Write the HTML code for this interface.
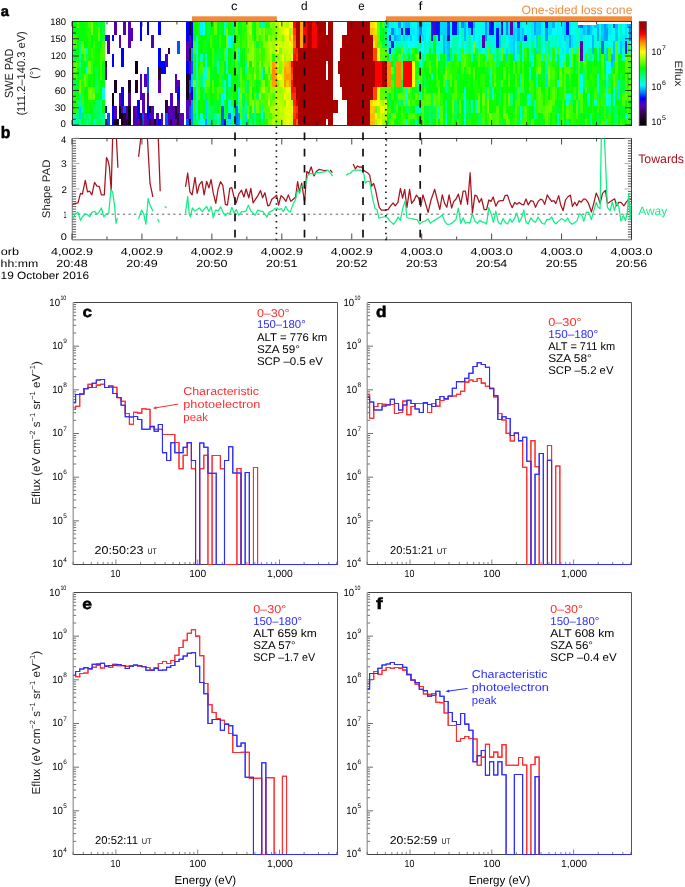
<!DOCTYPE html>
<html><head><meta charset="utf-8"><style>html,body{margin:0;padding:0;background:#fff;}svg{display:block;will-change:transform;}text{font-family:"Liberation Sans", sans-serif;text-rendering:geometricPrecision;}</style></head>
<body>
<svg width="685" height="887" viewBox="0 0 685 887" font-family='"Liberation Sans", sans-serif'>
<rect width="685" height="887" fill="#fff"/>
<g shape-rendering="crispEdges">
<rect x="72" y="21.5" width="2.68" height="13.2" fill="#08ff00"/>
<rect x="72" y="34.5" width="2.68" height="19.7" fill="#00ffc3"/>
<rect x="72" y="54" width="2.68" height="19.7" fill="#2aff00"/>
<rect x="72" y="73.5" width="2.68" height="6.7" fill="#10ff00"/>
<rect x="72" y="80" width="2.68" height="6.7" fill="#14ff00"/>
<rect x="72" y="86.5" width="2.68" height="13.2" fill="#31ff00"/>
<rect x="72" y="99.5" width="2.68" height="13.2" fill="#00ff16"/>
<rect x="72" y="112.5" width="2.68" height="13.2" fill="#00ffff"/>
<rect x="74.33" y="21.5" width="2.68" height="13.2" fill="#00ff0b"/>
<rect x="74.33" y="34.5" width="2.68" height="13.2" fill="#3dff00"/>
<rect x="74.33" y="47.5" width="2.68" height="13.2" fill="#00ff32"/>
<rect x="74.33" y="60.5" width="2.68" height="13.2" fill="#59ff00"/>
<rect x="74.33" y="73.5" width="2.68" height="6.7" fill="#3eff00"/>
<rect x="74.33" y="80" width="2.68" height="13.2" fill="#00ff40"/>
<rect x="74.33" y="93" width="2.68" height="19.7" fill="#1dff00"/>
<rect x="74.33" y="112.5" width="2.68" height="13.2" fill="#00ffa4"/>
<rect x="76.66" y="21.5" width="2.68" height="6.7" fill="#4aff00"/>
<rect x="76.66" y="28" width="2.68" height="13.2" fill="#00ff0c"/>
<rect x="76.66" y="41" width="2.68" height="13.2" fill="#00ff05"/>
<rect x="76.66" y="54" width="2.68" height="13.2" fill="#22ff00"/>
<rect x="76.66" y="67" width="2.68" height="6.7" fill="#00ff07"/>
<rect x="76.66" y="73.5" width="2.68" height="6.7" fill="#00ff16"/>
<rect x="76.66" y="80" width="2.68" height="19.7" fill="#05ff00"/>
<rect x="76.66" y="99.5" width="2.68" height="19.7" fill="#00ff71"/>
<rect x="76.66" y="119" width="2.68" height="6.7" fill="#00ff7a"/>
<rect x="78.99" y="21.5" width="2.68" height="19.7" fill="#07ff00"/>
<rect x="78.99" y="41" width="2.68" height="6.7" fill="#00ff75"/>
<rect x="78.99" y="47.5" width="2.68" height="19.7" fill="#00ffa9"/>
<rect x="78.99" y="67" width="2.68" height="13.2" fill="#00ff52"/>
<rect x="78.99" y="80" width="2.68" height="13.2" fill="#73ff00"/>
<rect x="78.99" y="93" width="2.68" height="13.2" fill="#00ffac"/>
<rect x="78.99" y="106" width="2.68" height="13.2" fill="#00d0ff"/>
<rect x="78.99" y="119" width="2.68" height="6.7" fill="#00ff9e"/>
<rect x="81.33" y="21.5" width="2.68" height="19.7" fill="#00ff14"/>
<rect x="81.33" y="41" width="2.68" height="13.2" fill="#5eff00"/>
<rect x="81.33" y="54" width="2.68" height="19.7" fill="#0dff00"/>
<rect x="81.33" y="73.5" width="2.68" height="19.7" fill="#20ff00"/>
<rect x="81.33" y="93" width="2.68" height="13.2" fill="#30ff00"/>
<rect x="81.33" y="106" width="2.68" height="6.7" fill="#00ff7c"/>
<rect x="81.33" y="112.5" width="2.68" height="13.2" fill="#00ff2d"/>
<rect x="83.66" y="21.5" width="2.68" height="19.7" fill="#0aff00"/>
<rect x="83.66" y="41" width="2.68" height="6.7" fill="#00ff06"/>
<rect x="83.66" y="47.5" width="2.68" height="13.2" fill="#5cff00"/>
<rect x="83.66" y="60.5" width="2.68" height="13.2" fill="#00ff15"/>
<rect x="83.66" y="73.5" width="2.68" height="13.2" fill="#5fff00"/>
<rect x="83.66" y="86.5" width="2.68" height="13.2" fill="#09ff00"/>
<rect x="83.66" y="99.5" width="2.68" height="13.2" fill="#00ff33"/>
<rect x="83.66" y="112.5" width="2.68" height="6.7" fill="#00ff7a"/>
<rect x="83.66" y="119" width="2.68" height="6.7" fill="#00ff44"/>
<rect x="85.99" y="21.5" width="2.68" height="13.2" fill="#15ff00"/>
<rect x="85.99" y="34.5" width="2.68" height="13.2" fill="#00ff0a"/>
<rect x="85.99" y="47.5" width="2.68" height="6.7" fill="#00ffe7"/>
<rect x="85.99" y="54" width="2.68" height="13.2" fill="#00ff65"/>
<rect x="85.99" y="67" width="2.68" height="6.7" fill="#00fdff"/>
<rect x="85.99" y="73.5" width="2.68" height="13.2" fill="#3aff00"/>
<rect x="85.99" y="86.5" width="2.68" height="13.2" fill="#00ff10"/>
<rect x="85.99" y="99.5" width="2.68" height="13.2" fill="#12ff00"/>
<rect x="85.99" y="112.5" width="2.68" height="6.7" fill="#00ff4e"/>
<rect x="85.99" y="119" width="2.68" height="6.7" fill="#00ff7c"/>
<rect x="88.32" y="21.5" width="2.68" height="6.7" fill="#47ff00"/>
<rect x="88.32" y="28" width="2.68" height="13.2" fill="#25ff00"/>
<rect x="88.32" y="41" width="2.68" height="19.7" fill="#16ff00"/>
<rect x="88.32" y="60.5" width="2.68" height="13.2" fill="#6cff00"/>
<rect x="88.32" y="73.5" width="2.68" height="6.7" fill="#12ff00"/>
<rect x="88.32" y="80" width="2.68" height="6.7" fill="#04ff00"/>
<rect x="88.32" y="86.5" width="2.68" height="13.2" fill="#6eff00"/>
<rect x="88.32" y="99.5" width="2.68" height="13.2" fill="#12ff00"/>
<rect x="88.32" y="112.5" width="2.68" height="13.2" fill="#00ff6f"/>
<rect x="90.65" y="21.5" width="2.68" height="13.2" fill="#78ff00"/>
<rect x="90.65" y="34.5" width="2.68" height="13.2" fill="#00ff06"/>
<rect x="90.65" y="47.5" width="2.68" height="13.2" fill="#37ff00"/>
<rect x="90.65" y="60.5" width="2.68" height="13.2" fill="#2cff00"/>
<rect x="90.65" y="73.5" width="2.68" height="13.2" fill="#12ff00"/>
<rect x="90.65" y="86.5" width="2.68" height="13.2" fill="#61ff00"/>
<rect x="90.65" y="99.5" width="2.68" height="6.7" fill="#1aff00"/>
<rect x="90.65" y="106" width="2.68" height="13.2" fill="#00ff1b"/>
<rect x="90.65" y="119" width="2.68" height="6.7" fill="#00ff1e"/>
<rect x="92.98" y="21.5" width="2.68" height="19.7" fill="#11ff00"/>
<rect x="92.98" y="41" width="2.68" height="6.7" fill="#40ff00"/>
<rect x="92.98" y="47.5" width="2.68" height="13.2" fill="#1cff00"/>
<rect x="92.98" y="60.5" width="2.68" height="13.2" fill="#00ff19"/>
<rect x="92.98" y="73.5" width="2.68" height="13.2" fill="#00ff0b"/>
<rect x="92.98" y="86.5" width="2.68" height="6.7" fill="#41ff00"/>
<rect x="92.98" y="93" width="2.68" height="6.7" fill="#73ff00"/>
<rect x="92.98" y="99.5" width="2.68" height="6.7" fill="#00ff13"/>
<rect x="92.98" y="106" width="2.68" height="13.2" fill="#00ff4a"/>
<rect x="92.98" y="119" width="2.68" height="6.7" fill="#00ffce"/>
<rect x="95.31" y="21.5" width="2.68" height="13.2" fill="#0fff00"/>
<rect x="95.31" y="34.5" width="2.68" height="13.2" fill="#03ff00"/>
<rect x="95.31" y="47.5" width="2.68" height="19.7" fill="#0cff00"/>
<rect x="95.31" y="67" width="2.68" height="13.2" fill="#00ff50"/>
<rect x="95.31" y="80" width="2.68" height="13.2" fill="#00ff70"/>
<rect x="95.31" y="93" width="2.68" height="6.7" fill="#08ff00"/>
<rect x="95.31" y="99.5" width="2.68" height="19.7" fill="#00ff5c"/>
<rect x="95.31" y="119" width="2.68" height="6.7" fill="#00ff71"/>
<rect x="97.64" y="21.5" width="2.68" height="6.7" fill="#00ff5d"/>
<rect x="97.64" y="28" width="2.68" height="13.2" fill="#66ff00"/>
<rect x="97.64" y="41" width="2.68" height="13.2" fill="#00ff03"/>
<rect x="97.64" y="54" width="2.68" height="6.7" fill="#14ff00"/>
<rect x="97.64" y="60.5" width="2.68" height="19.7" fill="#0bff00"/>
<rect x="97.64" y="80" width="2.68" height="13.2" fill="#26ff00"/>
<rect x="97.64" y="93" width="2.68" height="6.7" fill="#07ff00"/>
<rect x="97.64" y="99.5" width="2.68" height="6.7" fill="#00ff66"/>
<rect x="97.64" y="106" width="2.68" height="13.2" fill="#00ff53"/>
<rect x="97.64" y="119" width="2.68" height="6.7" fill="#00ff54"/>
<rect x="99.97" y="21.5" width="2.68" height="13.2" fill="#00ff0c"/>
<rect x="99.97" y="34.5" width="2.68" height="13.2" fill="#00ff1e"/>
<rect x="99.97" y="47.5" width="2.68" height="13.2" fill="#37ff00"/>
<rect x="99.97" y="60.5" width="2.68" height="19.7" fill="#40ff00"/>
<rect x="99.97" y="80" width="2.68" height="19.7" fill="#00ff17"/>
<rect x="99.97" y="99.5" width="2.68" height="19.7" fill="#00ff9a"/>
<rect x="99.97" y="119" width="2.68" height="6.7" fill="#00ff4f"/>
<rect x="102.31" y="21.5" width="2.68" height="19.7" fill="#00ff39"/>
<rect x="102.31" y="41" width="2.68" height="19.7" fill="#47ff00"/>
<rect x="102.31" y="60.5" width="2.68" height="19.7" fill="#00ff06"/>
<rect x="102.31" y="80" width="2.68" height="6.7" fill="#00ff10"/>
<rect x="102.31" y="86.5" width="2.68" height="13.2" fill="#00ffef"/>
<rect x="102.31" y="99.5" width="2.68" height="13.2" fill="#00ff05"/>
<rect x="102.31" y="112.5" width="2.68" height="13.2" fill="#00ff86"/>
<rect x="104.64" y="34.5" width="2.68" height="6.7" fill="#0000ff"/>
<rect x="104.64" y="60.5" width="2.68" height="6.7" fill="#300040"/>
<rect x="104.64" y="67" width="2.68" height="13.2" fill="#5a00b4"/>
<rect x="104.64" y="106" width="2.68" height="6.7" fill="#0000ff"/>
<rect x="104.64" y="119" width="2.68" height="6.7" fill="#51009a"/>
<rect x="106.97" y="34.5" width="2.68" height="19.7" fill="#51009a"/>
<rect x="106.97" y="112.5" width="2.68" height="13.2" fill="#0055ff"/>
<rect x="111.63" y="34.5" width="2.68" height="6.7" fill="#0000ff"/>
<rect x="111.63" y="54" width="2.68" height="13.2" fill="#0000ff"/>
<rect x="111.63" y="93" width="2.68" height="13.2" fill="#0e0013"/>
<rect x="111.63" y="106" width="2.68" height="19.7" fill="#0000ff"/>
<rect x="113.96" y="21.5" width="2.68" height="13.2" fill="#51009a"/>
<rect x="113.96" y="80" width="2.68" height="13.2" fill="#1d0026"/>
<rect x="113.96" y="106" width="2.68" height="13.2" fill="#4d00bf"/>
<rect x="113.96" y="119" width="2.68" height="6.7" fill="#0e0013"/>
<rect x="116.29" y="119" width="2.68" height="6.7" fill="#1d0026"/>
<rect x="118.62" y="34.5" width="2.68" height="13.2" fill="#5a00b4"/>
<rect x="118.62" y="93" width="2.68" height="13.2" fill="#5a00b4"/>
<rect x="118.62" y="106" width="2.68" height="13.2" fill="#0e0013"/>
<rect x="120.96" y="47.5" width="2.68" height="19.7" fill="#0000ff"/>
<rect x="120.96" y="86.5" width="2.68" height="19.7" fill="#0000ff"/>
<rect x="120.96" y="106" width="2.68" height="6.7" fill="#5a00b4"/>
<rect x="120.96" y="112.5" width="2.68" height="13.2" fill="#0e0013"/>
<rect x="123.29" y="21.5" width="2.68" height="13.2" fill="#5a00b4"/>
<rect x="123.29" y="106" width="2.68" height="6.7" fill="#0055ff"/>
<rect x="123.29" y="112.5" width="2.68" height="6.7" fill="#300040"/>
<rect x="123.29" y="119" width="2.68" height="6.7" fill="#300040"/>
<rect x="125.62" y="106" width="2.68" height="13.2" fill="#51009a"/>
<rect x="125.62" y="119" width="2.68" height="6.7" fill="#300040"/>
<rect x="127.95" y="21.5" width="2.68" height="13.2" fill="#5a00b4"/>
<rect x="127.95" y="34.5" width="2.68" height="13.2" fill="#5a00b4"/>
<rect x="127.95" y="80" width="2.68" height="13.2" fill="#1d0026"/>
<rect x="127.95" y="93" width="2.68" height="13.2" fill="#51009a"/>
<rect x="127.95" y="106" width="2.68" height="19.7" fill="#0e0013"/>
<rect x="130.28" y="28" width="2.68" height="13.2" fill="#4d00bf"/>
<rect x="132.61" y="106" width="2.68" height="19.7" fill="#51009a"/>
<rect x="134.94" y="60.5" width="2.68" height="13.2" fill="#0e0013"/>
<rect x="134.94" y="80" width="2.68" height="13.2" fill="#1d0026"/>
<rect x="134.94" y="106" width="2.68" height="13.2" fill="#5a00b4"/>
<rect x="134.94" y="119" width="2.68" height="6.7" fill="#4d00bf"/>
<rect x="137.27" y="99.5" width="2.68" height="19.7" fill="#0000ff"/>
<rect x="137.27" y="119" width="2.68" height="6.7" fill="#5a00b4"/>
<rect x="139.61" y="21.5" width="2.68" height="19.7" fill="#0000ff"/>
<rect x="139.61" y="73.5" width="2.68" height="6.7" fill="#51009a"/>
<rect x="139.61" y="80" width="2.68" height="19.7" fill="#5a00b4"/>
<rect x="139.61" y="112.5" width="2.68" height="13.2" fill="#300040"/>
<rect x="141.94" y="93" width="2.68" height="19.7" fill="#5a00b4"/>
<rect x="141.94" y="112.5" width="2.68" height="13.2" fill="#0055ff"/>
<rect x="144.27" y="73.5" width="2.68" height="13.2" fill="#4d00bf"/>
<rect x="144.27" y="112.5" width="2.68" height="13.2" fill="#5a00b4"/>
<rect x="146.6" y="21.5" width="2.68" height="13.2" fill="#0000ff"/>
<rect x="146.6" y="67" width="2.68" height="13.2" fill="#0055ff"/>
<rect x="146.6" y="80" width="2.68" height="13.2" fill="#0055ff"/>
<rect x="146.6" y="93" width="2.68" height="13.2" fill="#51009a"/>
<rect x="146.6" y="106" width="2.68" height="13.2" fill="#0000ff"/>
<rect x="146.6" y="119" width="2.68" height="6.7" fill="#4d00bf"/>
<rect x="148.93" y="106" width="2.68" height="6.7" fill="#0e0013"/>
<rect x="148.93" y="112.5" width="2.68" height="6.7" fill="#4d00bf"/>
<rect x="148.93" y="119" width="2.68" height="6.7" fill="#300040"/>
<rect x="151.26" y="34.5" width="2.68" height="13.2" fill="#4d00bf"/>
<rect x="151.26" y="106" width="2.68" height="13.2" fill="#4d00bf"/>
<rect x="151.26" y="119" width="2.68" height="6.7" fill="#51009a"/>
<rect x="153.59" y="119" width="2.68" height="6.7" fill="#1d0026"/>
<rect x="155.93" y="112.5" width="2.68" height="13.2" fill="#4d00bf"/>
<rect x="158.26" y="21.5" width="2.68" height="13.2" fill="#0000ff"/>
<rect x="158.26" y="47.5" width="2.68" height="19.7" fill="#0000ff"/>
<rect x="158.26" y="67" width="2.68" height="6.7" fill="#300040"/>
<rect x="158.26" y="73.5" width="2.68" height="6.7" fill="#300040"/>
<rect x="158.26" y="80" width="2.68" height="13.2" fill="#5a00b4"/>
<rect x="158.26" y="119" width="2.68" height="6.7" fill="#0000ff"/>
<rect x="160.59" y="60.5" width="2.68" height="13.2" fill="#0000ff"/>
<rect x="160.59" y="112.5" width="2.68" height="13.2" fill="#5a00b4"/>
<rect x="162.92" y="60.5" width="2.68" height="13.2" fill="#0000ff"/>
<rect x="165.25" y="54" width="2.68" height="13.2" fill="#4d00bf"/>
<rect x="165.25" y="99.5" width="2.68" height="13.2" fill="#300040"/>
<rect x="165.25" y="112.5" width="2.68" height="13.2" fill="#0055ff"/>
<rect x="167.58" y="47.5" width="2.68" height="6.7" fill="#300040"/>
<rect x="167.58" y="106" width="2.68" height="13.2" fill="#4d00bf"/>
<rect x="167.58" y="119" width="2.68" height="6.7" fill="#4d00bf"/>
<rect x="169.91" y="93" width="2.68" height="13.2" fill="#4d00bf"/>
<rect x="169.91" y="106" width="2.68" height="13.2" fill="#5a00b4"/>
<rect x="169.91" y="119" width="2.68" height="6.7" fill="#300040"/>
<rect x="172.24" y="106" width="2.68" height="6.7" fill="#51009a"/>
<rect x="172.24" y="112.5" width="2.68" height="6.7" fill="#4d00bf"/>
<rect x="172.24" y="119" width="2.68" height="6.7" fill="#5a00b4"/>
<rect x="174.57" y="73.5" width="2.68" height="19.7" fill="#5a00b4"/>
<rect x="174.57" y="106" width="2.68" height="13.2" fill="#1d0026"/>
<rect x="174.57" y="119" width="2.68" height="6.7" fill="#5a00b4"/>
<rect x="176.91" y="41" width="2.68" height="13.2" fill="#0055ff"/>
<rect x="176.91" y="80" width="2.68" height="6.7" fill="#4d00bf"/>
<rect x="176.91" y="86.5" width="2.68" height="13.2" fill="#0000ff"/>
<rect x="176.91" y="99.5" width="2.68" height="13.2" fill="#4d00bf"/>
<rect x="176.91" y="112.5" width="2.68" height="13.2" fill="#300040"/>
<rect x="179.24" y="112.5" width="2.68" height="13.2" fill="#5a00b4"/>
<rect x="181.57" y="112.5" width="2.68" height="13.2" fill="#5a00b4"/>
<rect x="186.23" y="21.5" width="2.68" height="19.7" fill="#0000ff"/>
<rect x="186.23" y="41" width="2.68" height="19.7" fill="#5a00b4"/>
<rect x="186.23" y="60.5" width="2.68" height="13.2" fill="#0000ff"/>
<rect x="186.23" y="73.5" width="2.68" height="19.7" fill="#180020"/>
<rect x="186.23" y="93" width="2.68" height="6.7" fill="#180020"/>
<rect x="186.23" y="99.5" width="2.68" height="19.7" fill="#5a00b4"/>
<rect x="186.23" y="119" width="2.68" height="6.7" fill="#0055ff"/>
<rect x="188.56" y="21.5" width="2.68" height="13.2" fill="#180020"/>
<rect x="188.56" y="34.5" width="2.68" height="13.2" fill="#5a00b4"/>
<rect x="188.56" y="47.5" width="2.68" height="13.2" fill="#180020"/>
<rect x="188.56" y="60.5" width="2.68" height="13.2" fill="#5a00b4"/>
<rect x="188.56" y="73.5" width="2.68" height="6.7" fill="#0000ff"/>
<rect x="188.56" y="80" width="2.68" height="13.2" fill="#0055ff"/>
<rect x="188.56" y="93" width="2.68" height="13.2" fill="#5a00b4"/>
<rect x="188.56" y="106" width="2.68" height="13.2" fill="#0055ff"/>
<rect x="188.56" y="119" width="2.68" height="6.7" fill="#180020"/>
<rect x="190.89" y="21.5" width="2.68" height="13.2" fill="#0000ff"/>
<rect x="190.89" y="34.5" width="2.68" height="13.2" fill="#0000ff"/>
<rect x="190.89" y="47.5" width="2.68" height="13.2" fill="#0092ff"/>
<rect x="190.89" y="60.5" width="2.68" height="13.2" fill="#0055ff"/>
<rect x="190.89" y="73.5" width="2.68" height="13.2" fill="#00c9ff"/>
<rect x="190.89" y="86.5" width="2.68" height="13.2" fill="#0000ff"/>
<rect x="190.89" y="99.5" width="2.68" height="6.7" fill="#0092ff"/>
<rect x="190.89" y="106" width="2.68" height="19.7" fill="#0092ff"/>
<rect x="193.22" y="21.5" width="2.68" height="13.2" fill="#05ff00"/>
<rect x="193.22" y="34.5" width="2.68" height="6.7" fill="#00ff04"/>
<rect x="193.22" y="41" width="2.68" height="13.2" fill="#42ff00"/>
<rect x="193.22" y="54" width="2.68" height="13.2" fill="#16ff00"/>
<rect x="193.22" y="67" width="2.68" height="13.2" fill="#14ff00"/>
<rect x="193.22" y="80" width="2.68" height="6.7" fill="#74ff00"/>
<rect x="193.22" y="86.5" width="2.68" height="13.2" fill="#00ff04"/>
<rect x="193.22" y="99.5" width="2.68" height="13.2" fill="#28ff00"/>
<rect x="193.22" y="112.5" width="2.68" height="13.2" fill="#00ff32"/>
<rect x="195.56" y="21.5" width="2.68" height="13.2" fill="#00ff05"/>
<rect x="195.56" y="34.5" width="2.68" height="13.2" fill="#00ffe1"/>
<rect x="195.56" y="47.5" width="2.68" height="6.7" fill="#00ffee"/>
<rect x="195.56" y="54" width="2.68" height="19.7" fill="#00ffcc"/>
<rect x="195.56" y="73.5" width="2.68" height="19.7" fill="#00ffd1"/>
<rect x="195.56" y="93" width="2.68" height="13.2" fill="#00ffe1"/>
<rect x="195.56" y="106" width="2.68" height="13.2" fill="#00ffd7"/>
<rect x="195.56" y="119" width="2.68" height="6.7" fill="#00ff58"/>
<rect x="197.89" y="21.5" width="2.68" height="19.7" fill="#24ff00"/>
<rect x="197.89" y="41" width="2.68" height="13.2" fill="#00ff2a"/>
<rect x="197.89" y="54" width="2.68" height="13.2" fill="#0eff00"/>
<rect x="197.89" y="67" width="2.68" height="13.2" fill="#27ff00"/>
<rect x="197.89" y="80" width="2.68" height="19.7" fill="#43ff00"/>
<rect x="197.89" y="99.5" width="2.68" height="19.7" fill="#02ff00"/>
<rect x="197.89" y="119" width="2.68" height="6.7" fill="#00ff9d"/>
<rect x="200.22" y="21.5" width="2.68" height="13.2" fill="#00f1ff"/>
<rect x="200.22" y="34.5" width="2.68" height="19.7" fill="#00ff0a"/>
<rect x="200.22" y="54" width="2.68" height="6.7" fill="#00ffc5"/>
<rect x="200.22" y="60.5" width="2.68" height="13.2" fill="#44ff00"/>
<rect x="200.22" y="73.5" width="2.68" height="13.2" fill="#00ff6a"/>
<rect x="200.22" y="86.5" width="2.68" height="13.2" fill="#00ff11"/>
<rect x="200.22" y="99.5" width="2.68" height="13.2" fill="#0aff00"/>
<rect x="200.22" y="112.5" width="2.68" height="13.2" fill="#00ffe6"/>
<rect x="202.55" y="21.5" width="2.68" height="13.2" fill="#00fffb"/>
<rect x="202.55" y="34.5" width="2.68" height="19.7" fill="#0fff00"/>
<rect x="202.55" y="54" width="2.68" height="13.2" fill="#00ff1c"/>
<rect x="202.55" y="67" width="2.68" height="19.7" fill="#00ffcf"/>
<rect x="202.55" y="86.5" width="2.68" height="13.2" fill="#00ff73"/>
<rect x="202.55" y="99.5" width="2.68" height="19.7" fill="#01ff00"/>
<rect x="202.55" y="119" width="2.68" height="6.7" fill="#00ffed"/>
<rect x="204.88" y="21.5" width="2.68" height="19.7" fill="#07ff00"/>
<rect x="204.88" y="41" width="2.68" height="13.2" fill="#00ff37"/>
<rect x="204.88" y="54" width="2.68" height="6.7" fill="#00ffdc"/>
<rect x="204.88" y="60.5" width="2.68" height="19.7" fill="#00ffe4"/>
<rect x="204.88" y="80" width="2.68" height="13.2" fill="#54ff00"/>
<rect x="204.88" y="93" width="2.68" height="6.7" fill="#00ff0b"/>
<rect x="204.88" y="99.5" width="2.68" height="19.7" fill="#00d4ff"/>
<rect x="204.88" y="119" width="2.68" height="6.7" fill="#0095ff"/>
<rect x="207.21" y="21.5" width="2.68" height="19.7" fill="#00ff47"/>
<rect x="207.21" y="41" width="2.68" height="13.2" fill="#00ff04"/>
<rect x="207.21" y="54" width="2.68" height="13.2" fill="#00ff05"/>
<rect x="207.21" y="67" width="2.68" height="19.7" fill="#5dff00"/>
<rect x="207.21" y="86.5" width="2.68" height="13.2" fill="#25ff00"/>
<rect x="207.21" y="99.5" width="2.68" height="6.7" fill="#00ff59"/>
<rect x="207.21" y="106" width="2.68" height="19.7" fill="#00ff64"/>
<rect x="209.54" y="21.5" width="2.68" height="13.2" fill="#00ff1b"/>
<rect x="209.54" y="34.5" width="2.68" height="13.2" fill="#48ff00"/>
<rect x="209.54" y="47.5" width="2.68" height="13.2" fill="#00ff05"/>
<rect x="209.54" y="60.5" width="2.68" height="13.2" fill="#03ff00"/>
<rect x="209.54" y="73.5" width="2.68" height="13.2" fill="#00ff1f"/>
<rect x="209.54" y="86.5" width="2.68" height="19.7" fill="#00ff04"/>
<rect x="209.54" y="106" width="2.68" height="13.2" fill="#00ff59"/>
<rect x="209.54" y="119" width="2.68" height="6.7" fill="#00cfff"/>
<rect x="211.88" y="21.5" width="2.68" height="13.2" fill="#15ff00"/>
<rect x="211.88" y="34.5" width="2.68" height="13.2" fill="#0dff00"/>
<rect x="211.88" y="47.5" width="2.68" height="19.7" fill="#3aff00"/>
<rect x="211.88" y="67" width="2.68" height="13.2" fill="#00ff31"/>
<rect x="211.88" y="80" width="2.68" height="13.2" fill="#52ff00"/>
<rect x="211.88" y="93" width="2.68" height="13.2" fill="#0aff00"/>
<rect x="211.88" y="106" width="2.68" height="19.7" fill="#00ff49"/>
<rect x="214.21" y="21.5" width="2.68" height="13.2" fill="#60ff00"/>
<rect x="214.21" y="34.5" width="2.68" height="19.7" fill="#00ff10"/>
<rect x="214.21" y="54" width="2.68" height="13.2" fill="#00ff43"/>
<rect x="214.21" y="67" width="2.68" height="13.2" fill="#00ff08"/>
<rect x="214.21" y="80" width="2.68" height="6.7" fill="#00ff07"/>
<rect x="214.21" y="86.5" width="2.68" height="13.2" fill="#15ff00"/>
<rect x="214.21" y="99.5" width="2.68" height="13.2" fill="#00ff31"/>
<rect x="214.21" y="112.5" width="2.68" height="6.7" fill="#00ff90"/>
<rect x="214.21" y="119" width="2.68" height="6.7" fill="#00ff3f"/>
<rect x="216.54" y="21.5" width="2.68" height="13.2" fill="#00ff06"/>
<rect x="216.54" y="34.5" width="2.68" height="13.2" fill="#00ff0b"/>
<rect x="216.54" y="47.5" width="2.68" height="13.2" fill="#00ff37"/>
<rect x="216.54" y="60.5" width="2.68" height="13.2" fill="#00ffcc"/>
<rect x="216.54" y="73.5" width="2.68" height="13.2" fill="#00ff12"/>
<rect x="216.54" y="86.5" width="2.68" height="13.2" fill="#50ff00"/>
<rect x="216.54" y="99.5" width="2.68" height="13.2" fill="#00ff15"/>
<rect x="216.54" y="112.5" width="2.68" height="13.2" fill="#00ffdb"/>
<rect x="218.87" y="21.5" width="2.68" height="13.2" fill="#00ff2c"/>
<rect x="218.87" y="34.5" width="2.68" height="13.2" fill="#39ff00"/>
<rect x="218.87" y="47.5" width="2.68" height="13.2" fill="#00ff2c"/>
<rect x="218.87" y="60.5" width="2.68" height="6.7" fill="#15ff00"/>
<rect x="218.87" y="67" width="2.68" height="13.2" fill="#31ff00"/>
<rect x="218.87" y="80" width="2.68" height="13.2" fill="#34ff00"/>
<rect x="218.87" y="93" width="2.68" height="13.2" fill="#00ff41"/>
<rect x="218.87" y="106" width="2.68" height="13.2" fill="#2dff00"/>
<rect x="218.87" y="119" width="2.68" height="6.7" fill="#00ff54"/>
<rect x="221.2" y="21.5" width="2.68" height="13.2" fill="#05ff00"/>
<rect x="221.2" y="34.5" width="2.68" height="13.2" fill="#00ff03"/>
<rect x="221.2" y="47.5" width="2.68" height="13.2" fill="#00ff22"/>
<rect x="221.2" y="60.5" width="2.68" height="13.2" fill="#2cff00"/>
<rect x="221.2" y="73.5" width="2.68" height="13.2" fill="#00ff57"/>
<rect x="221.2" y="86.5" width="2.68" height="6.7" fill="#35ff00"/>
<rect x="221.2" y="93" width="2.68" height="13.2" fill="#00f2ff"/>
<rect x="221.2" y="106" width="2.68" height="19.7" fill="#005bff"/>
<rect x="223.53" y="21.5" width="2.68" height="13.2" fill="#00ffca"/>
<rect x="223.53" y="34.5" width="2.68" height="13.2" fill="#03ff00"/>
<rect x="223.53" y="47.5" width="2.68" height="13.2" fill="#4dff00"/>
<rect x="223.53" y="60.5" width="2.68" height="19.7" fill="#00ff0a"/>
<rect x="223.53" y="80" width="2.68" height="19.7" fill="#00ffe9"/>
<rect x="223.53" y="99.5" width="2.68" height="19.7" fill="#00ff44"/>
<rect x="223.53" y="119" width="2.68" height="6.7" fill="#1900ea"/>
<rect x="225.86" y="21.5" width="2.68" height="6.7" fill="#00ff8a"/>
<rect x="225.86" y="28" width="2.68" height="19.7" fill="#75ff00"/>
<rect x="225.86" y="47.5" width="2.68" height="13.2" fill="#00ffe7"/>
<rect x="225.86" y="60.5" width="2.68" height="13.2" fill="#00ffe6"/>
<rect x="225.86" y="73.5" width="2.68" height="13.2" fill="#00ff02"/>
<rect x="225.86" y="86.5" width="2.68" height="13.2" fill="#00ff1d"/>
<rect x="225.86" y="99.5" width="2.68" height="13.2" fill="#00ff05"/>
<rect x="225.86" y="112.5" width="2.68" height="13.2" fill="#00ff5f"/>
<rect x="228.19" y="21.5" width="2.68" height="13.2" fill="#12ff00"/>
<rect x="228.19" y="34.5" width="2.68" height="13.2" fill="#00fcff"/>
<rect x="228.19" y="47.5" width="2.68" height="19.7" fill="#02ff00"/>
<rect x="228.19" y="67" width="2.68" height="6.7" fill="#0dff00"/>
<rect x="228.19" y="73.5" width="2.68" height="13.2" fill="#00ffd3"/>
<rect x="228.19" y="86.5" width="2.68" height="13.2" fill="#00ff3e"/>
<rect x="228.19" y="99.5" width="2.68" height="13.2" fill="#00ffd3"/>
<rect x="228.19" y="112.5" width="2.68" height="6.7" fill="#006eff"/>
<rect x="228.19" y="119" width="2.68" height="6.7" fill="#00e7ff"/>
<rect x="230.52" y="21.5" width="2.68" height="13.2" fill="#00ff60"/>
<rect x="230.52" y="34.5" width="2.68" height="13.2" fill="#00ff9a"/>
<rect x="230.52" y="47.5" width="2.68" height="19.7" fill="#00ff3c"/>
<rect x="230.52" y="67" width="2.68" height="13.2" fill="#15ff00"/>
<rect x="230.52" y="80" width="2.68" height="13.2" fill="#0dff00"/>
<rect x="230.52" y="93" width="2.68" height="13.2" fill="#29ff00"/>
<rect x="230.52" y="106" width="2.68" height="13.2" fill="#00ffd2"/>
<rect x="230.52" y="119" width="2.68" height="6.7" fill="#00ff69"/>
<rect x="232.86" y="21.5" width="2.68" height="6.7" fill="#00ff98"/>
<rect x="232.86" y="28" width="2.68" height="6.7" fill="#00ff27"/>
<rect x="232.86" y="34.5" width="2.68" height="6.7" fill="#00ffcd"/>
<rect x="232.86" y="41" width="2.68" height="13.2" fill="#0eff00"/>
<rect x="232.86" y="54" width="2.68" height="13.2" fill="#00ff00"/>
<rect x="232.86" y="67" width="2.68" height="13.2" fill="#00ff17"/>
<rect x="232.86" y="80" width="2.68" height="13.2" fill="#00ff09"/>
<rect x="232.86" y="93" width="2.68" height="19.7" fill="#07ff00"/>
<rect x="232.86" y="112.5" width="2.68" height="13.2" fill="#00ff9b"/>
<rect x="235.19" y="21.5" width="2.68" height="13.2" fill="#65ff00"/>
<rect x="235.19" y="34.5" width="2.68" height="6.7" fill="#00ff08"/>
<rect x="235.19" y="41" width="2.68" height="6.7" fill="#3aff00"/>
<rect x="235.19" y="47.5" width="2.68" height="6.7" fill="#63ff00"/>
<rect x="235.19" y="54" width="2.68" height="6.7" fill="#66ff00"/>
<rect x="235.19" y="60.5" width="2.68" height="13.2" fill="#48ff00"/>
<rect x="235.19" y="73.5" width="2.68" height="13.2" fill="#0dff00"/>
<rect x="235.19" y="86.5" width="2.68" height="6.7" fill="#17ff00"/>
<rect x="235.19" y="93" width="2.68" height="13.2" fill="#00ff04"/>
<rect x="235.19" y="106" width="2.68" height="19.7" fill="#0072ff"/>
<rect x="237.52" y="21.5" width="2.68" height="13.2" fill="#00ff0a"/>
<rect x="237.52" y="34.5" width="2.68" height="13.2" fill="#41ff00"/>
<rect x="237.52" y="47.5" width="2.68" height="13.2" fill="#00ffe8"/>
<rect x="237.52" y="60.5" width="2.68" height="13.2" fill="#00ff6a"/>
<rect x="237.52" y="73.5" width="2.68" height="13.2" fill="#00ff51"/>
<rect x="237.52" y="86.5" width="2.68" height="13.2" fill="#00fff7"/>
<rect x="237.52" y="99.5" width="2.68" height="6.7" fill="#00ffdd"/>
<rect x="237.52" y="106" width="2.68" height="6.7" fill="#00ffc1"/>
<rect x="237.52" y="112.5" width="2.68" height="13.2" fill="#0096ff"/>
<rect x="239.85" y="21.5" width="2.68" height="13.2" fill="#00ff1b"/>
<rect x="239.85" y="34.5" width="2.68" height="19.7" fill="#16ff00"/>
<rect x="239.85" y="54" width="2.68" height="13.2" fill="#00ff02"/>
<rect x="239.85" y="67" width="2.68" height="13.2" fill="#5eff00"/>
<rect x="239.85" y="80" width="2.68" height="13.2" fill="#51ff00"/>
<rect x="239.85" y="93" width="2.68" height="13.2" fill="#70ff00"/>
<rect x="239.85" y="106" width="2.68" height="13.2" fill="#49ff00"/>
<rect x="239.85" y="119" width="2.68" height="6.7" fill="#00ffed"/>
<rect x="242.18" y="21.5" width="2.68" height="19.7" fill="#29ff00"/>
<rect x="242.18" y="41" width="2.68" height="6.7" fill="#3bff00"/>
<rect x="242.18" y="47.5" width="2.68" height="13.2" fill="#00ff14"/>
<rect x="242.18" y="60.5" width="2.68" height="13.2" fill="#00ff11"/>
<rect x="242.18" y="73.5" width="2.68" height="6.7" fill="#12ff00"/>
<rect x="242.18" y="80" width="2.68" height="6.7" fill="#32ff00"/>
<rect x="242.18" y="86.5" width="2.68" height="6.7" fill="#4cff00"/>
<rect x="242.18" y="93" width="2.68" height="13.2" fill="#00ff3b"/>
<rect x="242.18" y="106" width="2.68" height="19.7" fill="#00ff68"/>
<rect x="244.51" y="21.5" width="2.68" height="13.2" fill="#3dff00"/>
<rect x="244.51" y="34.5" width="2.68" height="13.2" fill="#2eff00"/>
<rect x="244.51" y="47.5" width="2.68" height="13.2" fill="#3cff00"/>
<rect x="244.51" y="60.5" width="2.68" height="13.2" fill="#00ffc4"/>
<rect x="244.51" y="73.5" width="2.68" height="6.7" fill="#34ff00"/>
<rect x="244.51" y="80" width="2.68" height="13.2" fill="#00ff66"/>
<rect x="244.51" y="93" width="2.68" height="6.7" fill="#3aff00"/>
<rect x="244.51" y="99.5" width="2.68" height="13.2" fill="#00ff88"/>
<rect x="244.51" y="112.5" width="2.68" height="13.2" fill="#00d9ff"/>
<rect x="246.84" y="21.5" width="2.68" height="19.7" fill="#88ff00"/>
<rect x="246.84" y="41" width="2.68" height="6.7" fill="#89ff00"/>
<rect x="246.84" y="47.5" width="2.68" height="6.7" fill="#45ff00"/>
<rect x="246.84" y="54" width="2.68" height="13.2" fill="#7fff00"/>
<rect x="246.84" y="67" width="2.68" height="13.2" fill="#46ff00"/>
<rect x="246.84" y="80" width="2.68" height="13.2" fill="#00ff2b"/>
<rect x="246.84" y="93" width="2.68" height="13.2" fill="#1fff00"/>
<rect x="246.84" y="106" width="2.68" height="13.2" fill="#60ff00"/>
<rect x="246.84" y="119" width="2.68" height="6.7" fill="#00ff07"/>
<rect x="249.17" y="21.5" width="2.68" height="13.2" fill="#9bff00"/>
<rect x="249.17" y="34.5" width="2.68" height="13.2" fill="#6eff00"/>
<rect x="249.17" y="47.5" width="2.68" height="13.2" fill="#8bff00"/>
<rect x="249.17" y="60.5" width="2.68" height="6.7" fill="#00ff04"/>
<rect x="249.17" y="67" width="2.68" height="6.7" fill="#24ff00"/>
<rect x="249.17" y="73.5" width="2.68" height="13.2" fill="#4dff00"/>
<rect x="249.17" y="86.5" width="2.68" height="6.7" fill="#78ff00"/>
<rect x="249.17" y="93" width="2.68" height="13.2" fill="#62ff00"/>
<rect x="249.17" y="106" width="2.68" height="13.2" fill="#00ff31"/>
<rect x="249.17" y="119" width="2.68" height="6.7" fill="#00ff9a"/>
<rect x="251.51" y="21.5" width="2.68" height="13.2" fill="#1fff00"/>
<rect x="251.51" y="34.5" width="2.68" height="6.7" fill="#41ff00"/>
<rect x="251.51" y="41" width="2.68" height="13.2" fill="#99ff00"/>
<rect x="251.51" y="54" width="2.68" height="13.2" fill="#8cff00"/>
<rect x="251.51" y="67" width="2.68" height="13.2" fill="#28ff00"/>
<rect x="251.51" y="80" width="2.68" height="6.7" fill="#3cff00"/>
<rect x="251.51" y="86.5" width="2.68" height="13.2" fill="#04ff00"/>
<rect x="251.51" y="99.5" width="2.68" height="13.2" fill="#91ff00"/>
<rect x="251.51" y="112.5" width="2.68" height="6.7" fill="#00ff42"/>
<rect x="251.51" y="119" width="2.68" height="6.7" fill="#00ff1b"/>
<rect x="253.84" y="21.5" width="2.68" height="19.7" fill="#00ff15"/>
<rect x="253.84" y="41" width="2.68" height="6.7" fill="#3eff00"/>
<rect x="253.84" y="47.5" width="2.68" height="6.7" fill="#58ff00"/>
<rect x="253.84" y="54" width="2.68" height="19.7" fill="#5bff00"/>
<rect x="253.84" y="73.5" width="2.68" height="6.7" fill="#a4ff00"/>
<rect x="253.84" y="80" width="2.68" height="13.2" fill="#25ff00"/>
<rect x="253.84" y="93" width="2.68" height="13.2" fill="#46ff00"/>
<rect x="253.84" y="106" width="2.68" height="19.7" fill="#00ff8f"/>
<rect x="256.17" y="21.5" width="2.68" height="19.7" fill="#5fff00"/>
<rect x="256.17" y="41" width="2.68" height="6.7" fill="#00ff38"/>
<rect x="256.17" y="47.5" width="2.68" height="13.2" fill="#3aff00"/>
<rect x="256.17" y="60.5" width="2.68" height="19.7" fill="#2dff00"/>
<rect x="256.17" y="80" width="2.68" height="13.2" fill="#00ff16"/>
<rect x="256.17" y="93" width="2.68" height="6.7" fill="#00ff70"/>
<rect x="256.17" y="99.5" width="2.68" height="13.2" fill="#70ff00"/>
<rect x="256.17" y="112.5" width="2.68" height="13.2" fill="#00ff1a"/>
<rect x="258.5" y="21.5" width="2.68" height="6.7" fill="#00ff84"/>
<rect x="258.5" y="28" width="2.68" height="6.7" fill="#8cff00"/>
<rect x="258.5" y="34.5" width="2.68" height="6.7" fill="#2aff00"/>
<rect x="258.5" y="41" width="2.68" height="6.7" fill="#34ff00"/>
<rect x="258.5" y="47.5" width="2.68" height="6.7" fill="#72ff00"/>
<rect x="258.5" y="54" width="2.68" height="6.7" fill="#47ff00"/>
<rect x="258.5" y="60.5" width="2.68" height="6.7" fill="#9aff00"/>
<rect x="258.5" y="67" width="2.68" height="6.7" fill="#78ff00"/>
<rect x="258.5" y="73.5" width="2.68" height="6.7" fill="#53ff00"/>
<rect x="258.5" y="80" width="2.68" height="6.7" fill="#1eff00"/>
<rect x="258.5" y="86.5" width="2.68" height="6.7" fill="#5cff00"/>
<rect x="258.5" y="93" width="2.68" height="6.7" fill="#8eff00"/>
<rect x="258.5" y="99.5" width="2.68" height="6.7" fill="#37ff00"/>
<rect x="258.5" y="106" width="2.68" height="6.7" fill="#2bff00"/>
<rect x="258.5" y="112.5" width="2.68" height="6.7" fill="#00ff3c"/>
<rect x="258.5" y="119" width="2.68" height="6.7" fill="#00ff00"/>
<rect x="260.83" y="21.5" width="2.68" height="6.7" fill="#00ffc0"/>
<rect x="260.83" y="28" width="2.68" height="6.7" fill="#4aff00"/>
<rect x="260.83" y="34.5" width="2.68" height="6.7" fill="#5eff00"/>
<rect x="260.83" y="41" width="2.68" height="6.7" fill="#2aff00"/>
<rect x="260.83" y="47.5" width="2.68" height="6.7" fill="#29ff00"/>
<rect x="260.83" y="54" width="2.68" height="6.7" fill="#2cff00"/>
<rect x="260.83" y="60.5" width="2.68" height="6.7" fill="#29ff00"/>
<rect x="260.83" y="67" width="2.68" height="6.7" fill="#00ffb7"/>
<rect x="260.83" y="73.5" width="2.68" height="6.7" fill="#00ffc7"/>
<rect x="260.83" y="80" width="2.68" height="6.7" fill="#75ff00"/>
<rect x="260.83" y="86.5" width="2.68" height="6.7" fill="#92ff00"/>
<rect x="260.83" y="93" width="2.68" height="6.7" fill="#39ff00"/>
<rect x="260.83" y="99.5" width="2.68" height="6.7" fill="#4aff00"/>
<rect x="260.83" y="106" width="2.68" height="6.7" fill="#00ff9e"/>
<rect x="260.83" y="112.5" width="2.68" height="6.7" fill="#00fffc"/>
<rect x="260.83" y="119" width="2.68" height="6.7" fill="#00ff69"/>
<rect x="263.16" y="21.5" width="2.68" height="6.7" fill="#00ffad"/>
<rect x="263.16" y="28" width="2.68" height="6.7" fill="#86ff00"/>
<rect x="263.16" y="34.5" width="2.68" height="6.7" fill="#73ff00"/>
<rect x="263.16" y="41" width="2.68" height="6.7" fill="#83ff00"/>
<rect x="263.16" y="47.5" width="2.68" height="6.7" fill="#37ff00"/>
<rect x="263.16" y="54" width="2.68" height="6.7" fill="#44ff00"/>
<rect x="263.16" y="60.5" width="2.68" height="6.7" fill="#75ff00"/>
<rect x="263.16" y="67" width="2.68" height="6.7" fill="#00ff26"/>
<rect x="263.16" y="73.5" width="2.68" height="6.7" fill="#00ff12"/>
<rect x="263.16" y="80" width="2.68" height="6.7" fill="#8dff00"/>
<rect x="263.16" y="86.5" width="2.68" height="6.7" fill="#a1ff00"/>
<rect x="263.16" y="93" width="2.68" height="6.7" fill="#36ff00"/>
<rect x="263.16" y="99.5" width="2.68" height="6.7" fill="#50ff00"/>
<rect x="263.16" y="106" width="2.68" height="6.7" fill="#44ff00"/>
<rect x="263.16" y="112.5" width="2.68" height="6.7" fill="#00ff3a"/>
<rect x="263.16" y="119" width="2.68" height="6.7" fill="#13ff00"/>
<rect x="265.49" y="21.5" width="2.68" height="6.7" fill="#20ff00"/>
<rect x="265.49" y="28" width="2.68" height="6.7" fill="#45ff00"/>
<rect x="265.49" y="34.5" width="2.68" height="6.7" fill="#21ff00"/>
<rect x="265.49" y="41" width="2.68" height="6.7" fill="#7cff00"/>
<rect x="265.49" y="47.5" width="2.68" height="6.7" fill="#72ff00"/>
<rect x="265.49" y="54" width="2.68" height="6.7" fill="#6fff00"/>
<rect x="265.49" y="60.5" width="2.68" height="6.7" fill="#79ff00"/>
<rect x="265.49" y="67" width="2.68" height="6.7" fill="#a7ff00"/>
<rect x="265.49" y="73.5" width="2.68" height="6.7" fill="#1fff00"/>
<rect x="265.49" y="80" width="2.68" height="6.7" fill="#19ff00"/>
<rect x="265.49" y="86.5" width="2.68" height="6.7" fill="#5fff00"/>
<rect x="265.49" y="93" width="2.68" height="6.7" fill="#60ff00"/>
<rect x="265.49" y="99.5" width="2.68" height="6.7" fill="#47ff00"/>
<rect x="265.49" y="106" width="2.68" height="6.7" fill="#58ff00"/>
<rect x="265.49" y="112.5" width="2.68" height="6.7" fill="#63ff00"/>
<rect x="265.49" y="119" width="2.68" height="6.7" fill="#23ff00"/>
<rect x="267.82" y="21.5" width="2.68" height="6.7" fill="#20ff00"/>
<rect x="267.82" y="28" width="2.68" height="6.7" fill="#45ff00"/>
<rect x="267.82" y="34.5" width="2.68" height="6.7" fill="#93ff00"/>
<rect x="267.82" y="41" width="2.68" height="6.7" fill="#9eff00"/>
<rect x="267.82" y="47.5" width="2.68" height="6.7" fill="#94ff00"/>
<rect x="267.82" y="54" width="2.68" height="6.7" fill="#86ff00"/>
<rect x="267.82" y="60.5" width="2.68" height="6.7" fill="#66ff00"/>
<rect x="267.82" y="67" width="2.68" height="6.7" fill="#35ff00"/>
<rect x="267.82" y="73.5" width="2.68" height="6.7" fill="#78ff00"/>
<rect x="267.82" y="80" width="2.68" height="6.7" fill="#4eff00"/>
<rect x="267.82" y="86.5" width="2.68" height="6.7" fill="#34ff00"/>
<rect x="267.82" y="93" width="2.68" height="6.7" fill="#85ff00"/>
<rect x="267.82" y="99.5" width="2.68" height="6.7" fill="#bfff00"/>
<rect x="267.82" y="106" width="2.68" height="6.7" fill="#5cff00"/>
<rect x="267.82" y="112.5" width="2.68" height="6.7" fill="#4bff00"/>
<rect x="267.82" y="119" width="2.68" height="6.7" fill="#6eff00"/>
<rect x="270.16" y="21.5" width="2.68" height="6.7" fill="#90ff00"/>
<rect x="270.16" y="28" width="2.68" height="6.7" fill="#48ff00"/>
<rect x="270.16" y="34.5" width="2.68" height="6.7" fill="#64ff00"/>
<rect x="270.16" y="41" width="2.68" height="6.7" fill="#b1ff00"/>
<rect x="270.16" y="47.5" width="2.68" height="6.7" fill="#c5ff00"/>
<rect x="270.16" y="54" width="2.68" height="6.7" fill="#b1ff00"/>
<rect x="270.16" y="60.5" width="2.68" height="6.7" fill="#a5ff00"/>
<rect x="270.16" y="67" width="2.68" height="6.7" fill="#a7ff00"/>
<rect x="270.16" y="73.5" width="2.68" height="6.7" fill="#47ff00"/>
<rect x="270.16" y="80" width="2.68" height="6.7" fill="#8dff00"/>
<rect x="270.16" y="86.5" width="2.68" height="6.7" fill="#92ff00"/>
<rect x="270.16" y="93" width="2.68" height="6.7" fill="#6cff00"/>
<rect x="270.16" y="99.5" width="2.68" height="6.7" fill="#53ff00"/>
<rect x="270.16" y="106" width="2.68" height="6.7" fill="#a1ff00"/>
<rect x="270.16" y="112.5" width="2.68" height="6.7" fill="#43ff00"/>
<rect x="270.16" y="119" width="2.68" height="6.7" fill="#7aff00"/>
<rect x="272.49" y="21.5" width="2.68" height="6.7" fill="#78ff00"/>
<rect x="272.49" y="28" width="2.68" height="6.7" fill="#6bff00"/>
<rect x="272.49" y="34.5" width="2.68" height="6.7" fill="#89ff00"/>
<rect x="272.49" y="41" width="2.68" height="6.7" fill="#99ff00"/>
<rect x="272.49" y="47.5" width="2.68" height="6.7" fill="#a1ff00"/>
<rect x="272.49" y="54" width="2.68" height="6.7" fill="#24ff00"/>
<rect x="272.49" y="60.5" width="2.68" height="6.7" fill="#ff9e00"/>
<rect x="272.49" y="67" width="2.68" height="6.7" fill="#ff8a00"/>
<rect x="272.49" y="73.5" width="2.68" height="6.7" fill="#ff8f00"/>
<rect x="272.49" y="80" width="2.68" height="6.7" fill="#ffa100"/>
<rect x="272.49" y="86.5" width="2.68" height="6.7" fill="#8bff00"/>
<rect x="272.49" y="93" width="2.68" height="6.7" fill="#47ff00"/>
<rect x="272.49" y="99.5" width="2.68" height="6.7" fill="#79ff00"/>
<rect x="272.49" y="106" width="2.68" height="6.7" fill="#adff00"/>
<rect x="272.49" y="112.5" width="2.68" height="6.7" fill="#8eff00"/>
<rect x="272.49" y="119" width="2.68" height="6.7" fill="#b1ff00"/>
<rect x="274.82" y="21.5" width="2.68" height="6.7" fill="#acff00"/>
<rect x="274.82" y="28" width="2.68" height="6.7" fill="#8cff00"/>
<rect x="274.82" y="34.5" width="2.68" height="6.7" fill="#3fff00"/>
<rect x="274.82" y="41" width="2.68" height="6.7" fill="#d9ff00"/>
<rect x="274.82" y="47.5" width="2.68" height="6.7" fill="#cdff00"/>
<rect x="274.82" y="54" width="2.68" height="6.7" fill="#a4ff00"/>
<rect x="274.82" y="60.5" width="2.68" height="6.7" fill="#ffc800"/>
<rect x="274.82" y="67" width="2.68" height="6.7" fill="#ffb500"/>
<rect x="274.82" y="73.5" width="2.68" height="6.7" fill="#ffa300"/>
<rect x="274.82" y="80" width="2.68" height="6.7" fill="#ff9400"/>
<rect x="274.82" y="86.5" width="2.68" height="6.7" fill="#acff00"/>
<rect x="274.82" y="93" width="2.68" height="6.7" fill="#c6ff00"/>
<rect x="274.82" y="99.5" width="2.68" height="6.7" fill="#9fff00"/>
<rect x="274.82" y="106" width="2.68" height="6.7" fill="#bdff00"/>
<rect x="274.82" y="112.5" width="2.68" height="6.7" fill="#abff00"/>
<rect x="274.82" y="119" width="2.68" height="6.7" fill="#70ff00"/>
<rect x="277.15" y="21.5" width="2.68" height="6.7" fill="#b0ff00"/>
<rect x="277.15" y="28" width="2.68" height="6.7" fill="#98ff00"/>
<rect x="277.15" y="34.5" width="2.68" height="6.7" fill="#b7ff00"/>
<rect x="277.15" y="41" width="2.68" height="6.7" fill="#d7ff00"/>
<rect x="277.15" y="47.5" width="2.68" height="6.7" fill="#eaff00"/>
<rect x="277.15" y="54" width="2.68" height="6.7" fill="#85ff00"/>
<rect x="277.15" y="60.5" width="2.68" height="6.7" fill="#c1ff00"/>
<rect x="277.15" y="67" width="2.68" height="6.7" fill="#9aff00"/>
<rect x="277.15" y="73.5" width="2.68" height="6.7" fill="#fff900"/>
<rect x="277.15" y="80" width="2.68" height="6.7" fill="#85ff00"/>
<rect x="277.15" y="86.5" width="2.68" height="6.7" fill="#acff00"/>
<rect x="277.15" y="93" width="2.68" height="6.7" fill="#a2ff00"/>
<rect x="277.15" y="99.5" width="2.68" height="6.7" fill="#d1ff00"/>
<rect x="277.15" y="106" width="2.68" height="6.7" fill="#a1ff00"/>
<rect x="277.15" y="112.5" width="2.68" height="6.7" fill="#b0ff00"/>
<rect x="277.15" y="119" width="2.68" height="6.7" fill="#9cff00"/>
<rect x="279.48" y="21.5" width="2.68" height="6.7" fill="#f3ff00"/>
<rect x="279.48" y="28" width="2.68" height="6.7" fill="#b8ff00"/>
<rect x="279.48" y="34.5" width="2.68" height="6.7" fill="#aeff00"/>
<rect x="279.48" y="41" width="2.68" height="6.7" fill="#cbff00"/>
<rect x="279.48" y="47.5" width="2.68" height="6.7" fill="#7cff00"/>
<rect x="279.48" y="54" width="2.68" height="6.7" fill="#b4ff00"/>
<rect x="279.48" y="60.5" width="2.68" height="6.7" fill="#81ff00"/>
<rect x="279.48" y="67" width="2.68" height="6.7" fill="#76ff00"/>
<rect x="279.48" y="73.5" width="2.68" height="6.7" fill="#faff00"/>
<rect x="279.48" y="80" width="2.68" height="6.7" fill="#cbff00"/>
<rect x="279.48" y="86.5" width="2.68" height="6.7" fill="#92ff00"/>
<rect x="279.48" y="93" width="2.68" height="6.7" fill="#aeff00"/>
<rect x="279.48" y="99.5" width="2.68" height="6.7" fill="#b4ff00"/>
<rect x="279.48" y="106" width="2.68" height="6.7" fill="#d0ff00"/>
<rect x="279.48" y="112.5" width="2.68" height="6.7" fill="#b9ff00"/>
<rect x="279.48" y="119" width="2.68" height="6.7" fill="#9dff00"/>
<rect x="281.81" y="21.5" width="2.68" height="6.7" fill="#c6ff00"/>
<rect x="281.81" y="28" width="2.68" height="6.7" fill="#cfff00"/>
<rect x="281.81" y="34.5" width="2.68" height="6.7" fill="#7cff00"/>
<rect x="281.81" y="41" width="2.68" height="6.7" fill="#c5ff00"/>
<rect x="281.81" y="47.5" width="2.68" height="6.7" fill="#bfff00"/>
<rect x="281.81" y="54" width="2.68" height="6.7" fill="#f0ff00"/>
<rect x="281.81" y="60.5" width="2.68" height="6.7" fill="#abff00"/>
<rect x="281.81" y="67" width="2.68" height="6.7" fill="#c3ff00"/>
<rect x="281.81" y="73.5" width="2.68" height="6.7" fill="#c2ff00"/>
<rect x="281.81" y="80" width="2.68" height="6.7" fill="#d3ff00"/>
<rect x="281.81" y="86.5" width="2.68" height="6.7" fill="#bdff00"/>
<rect x="281.81" y="93" width="2.68" height="6.7" fill="#a6ff00"/>
<rect x="281.81" y="99.5" width="2.68" height="6.7" fill="#adff00"/>
<rect x="281.81" y="106" width="2.68" height="6.7" fill="#b8ff00"/>
<rect x="281.81" y="112.5" width="2.68" height="6.7" fill="#b1ff00"/>
<rect x="281.81" y="119" width="2.68" height="6.7" fill="#bfff00"/>
<rect x="284.14" y="21.5" width="2.68" height="6.7" fill="#c7ff00"/>
<rect x="284.14" y="28" width="2.68" height="6.7" fill="#efff00"/>
<rect x="284.14" y="34.5" width="2.68" height="6.7" fill="#caff00"/>
<rect x="284.14" y="41" width="2.68" height="6.7" fill="#e2ff00"/>
<rect x="284.14" y="47.5" width="2.68" height="6.7" fill="#c7ff00"/>
<rect x="284.14" y="54" width="2.68" height="6.7" fill="#96ff00"/>
<rect x="284.14" y="60.5" width="2.68" height="6.7" fill="#ffc300"/>
<rect x="284.14" y="67" width="2.68" height="6.7" fill="#ff9e00"/>
<rect x="284.14" y="73.5" width="2.68" height="6.7" fill="#ffa300"/>
<rect x="284.14" y="80" width="2.68" height="6.7" fill="#ff9700"/>
<rect x="284.14" y="86.5" width="2.68" height="6.7" fill="#c1ff00"/>
<rect x="284.14" y="93" width="2.68" height="6.7" fill="#fff200"/>
<rect x="284.14" y="99.5" width="2.68" height="6.7" fill="#88ff00"/>
<rect x="284.14" y="106" width="2.68" height="6.7" fill="#d4ff00"/>
<rect x="284.14" y="112.5" width="2.68" height="6.7" fill="#d7ff00"/>
<rect x="284.14" y="119" width="2.68" height="6.7" fill="#cfff00"/>
<rect x="286.48" y="21.5" width="2.68" height="6.7" fill="#afff00"/>
<rect x="286.48" y="28" width="2.68" height="6.7" fill="#fffd00"/>
<rect x="286.48" y="34.5" width="2.68" height="6.7" fill="#e3ff00"/>
<rect x="286.48" y="41" width="2.68" height="6.7" fill="#d1ff00"/>
<rect x="286.48" y="47.5" width="2.68" height="6.7" fill="#ccff00"/>
<rect x="286.48" y="54" width="2.68" height="6.7" fill="#c4ff00"/>
<rect x="286.48" y="60.5" width="2.68" height="6.7" fill="#ffbc00"/>
<rect x="286.48" y="67" width="2.68" height="6.7" fill="#ffb300"/>
<rect x="286.48" y="73.5" width="2.68" height="6.7" fill="#ff9800"/>
<rect x="286.48" y="80" width="2.68" height="6.7" fill="#ffc600"/>
<rect x="286.48" y="86.5" width="2.68" height="6.7" fill="#e7ff00"/>
<rect x="286.48" y="93" width="2.68" height="6.7" fill="#d4ff00"/>
<rect x="286.48" y="99.5" width="2.68" height="6.7" fill="#efff00"/>
<rect x="286.48" y="106" width="2.68" height="6.7" fill="#e2ff00"/>
<rect x="286.48" y="112.5" width="2.68" height="6.7" fill="#e5ff00"/>
<rect x="286.48" y="119" width="2.68" height="6.7" fill="#efff00"/>
<rect x="288.81" y="21.5" width="2.68" height="6.7" fill="#fcff00"/>
<rect x="288.81" y="28" width="2.68" height="6.7" fill="#9aff00"/>
<rect x="288.81" y="34.5" width="2.68" height="6.7" fill="#ffbf00"/>
<rect x="288.81" y="41" width="2.68" height="6.7" fill="#f7ff00"/>
<rect x="288.81" y="47.5" width="2.68" height="6.7" fill="#e5ff00"/>
<rect x="288.81" y="54" width="2.68" height="6.7" fill="#b4ff00"/>
<rect x="288.81" y="60.5" width="2.68" height="6.7" fill="#ff9600"/>
<rect x="288.81" y="67" width="2.68" height="6.7" fill="#ffa800"/>
<rect x="288.81" y="73.5" width="2.68" height="6.7" fill="#ff9d00"/>
<rect x="288.81" y="80" width="2.68" height="6.7" fill="#ff9f00"/>
<rect x="288.81" y="86.5" width="2.68" height="6.7" fill="#e3ff00"/>
<rect x="288.81" y="93" width="2.68" height="6.7" fill="#dcff00"/>
<rect x="288.81" y="99.5" width="2.68" height="6.7" fill="#d8ff00"/>
<rect x="288.81" y="106" width="2.68" height="6.7" fill="#d5ff00"/>
<rect x="288.81" y="112.5" width="2.68" height="6.7" fill="#f3ff00"/>
<rect x="288.81" y="119" width="2.68" height="6.7" fill="#ddff00"/>
<rect x="291.14" y="21.5" width="2.68" height="6.7" fill="#efff00"/>
<rect x="291.14" y="28" width="2.68" height="6.7" fill="#ffd800"/>
<rect x="291.14" y="34.5" width="2.68" height="6.7" fill="#fff300"/>
<rect x="291.14" y="41" width="2.68" height="6.7" fill="#ffec00"/>
<rect x="291.14" y="47.5" width="2.68" height="6.7" fill="#c2ff00"/>
<rect x="291.14" y="54" width="2.68" height="6.7" fill="#fffd00"/>
<rect x="291.14" y="60.5" width="2.68" height="6.7" fill="#fc0000"/>
<rect x="291.14" y="67" width="2.68" height="6.7" fill="#ff3200"/>
<rect x="291.14" y="73.5" width="2.68" height="6.7" fill="#ff5300"/>
<rect x="291.14" y="80" width="2.68" height="6.7" fill="#ff1b00"/>
<rect x="291.14" y="86.5" width="2.68" height="6.7" fill="#ff0800"/>
<rect x="291.14" y="93" width="2.68" height="6.7" fill="#ff3100"/>
<rect x="291.14" y="99.5" width="2.68" height="6.7" fill="#bfff00"/>
<rect x="291.14" y="106" width="2.68" height="6.7" fill="#fff300"/>
<rect x="291.14" y="112.5" width="2.68" height="6.7" fill="#ccff00"/>
<rect x="291.14" y="119" width="2.68" height="6.7" fill="#c6ff00"/>
<rect x="293.47" y="21.5" width="2.68" height="6.7" fill="#fe0000"/>
<rect x="293.47" y="28" width="2.68" height="6.7" fill="#ff3a00"/>
<rect x="293.47" y="34.5" width="2.68" height="6.7" fill="#ff5600"/>
<rect x="293.47" y="41" width="2.68" height="6.7" fill="#ff6b00"/>
<rect x="293.47" y="47.5" width="2.68" height="6.7" fill="#ff2400"/>
<rect x="293.47" y="54" width="2.68" height="6.7" fill="#ff0600"/>
<rect x="293.47" y="60.5" width="2.68" height="6.7" fill="#a90000"/>
<rect x="293.47" y="67" width="2.68" height="6.7" fill="#a90000"/>
<rect x="293.47" y="73.5" width="2.68" height="6.7" fill="#a90000"/>
<rect x="293.47" y="80" width="2.68" height="6.7" fill="#a90000"/>
<rect x="293.47" y="86.5" width="2.68" height="6.7" fill="#ff1900"/>
<rect x="293.47" y="93" width="2.68" height="6.7" fill="#ff3300"/>
<rect x="293.47" y="99.5" width="2.68" height="6.7" fill="#ff1f00"/>
<rect x="293.47" y="106" width="2.68" height="6.7" fill="#ff4500"/>
<rect x="293.47" y="112.5" width="2.68" height="6.7" fill="#ff3700"/>
<rect x="293.47" y="119" width="2.68" height="6.7" fill="#ff1300"/>
<rect x="295.8" y="21.5" width="2.68" height="6.7" fill="#a90000"/>
<rect x="295.8" y="28" width="2.68" height="6.7" fill="#a90000"/>
<rect x="295.8" y="34.5" width="2.68" height="6.7" fill="#a90000"/>
<rect x="295.8" y="41" width="2.68" height="6.7" fill="#a90000"/>
<rect x="295.8" y="47.5" width="2.68" height="6.7" fill="#ff1700"/>
<rect x="295.8" y="54" width="2.68" height="6.7" fill="#ff3500"/>
<rect x="295.8" y="60.5" width="2.68" height="6.7" fill="#a90000"/>
<rect x="295.8" y="67" width="2.68" height="6.7" fill="#a90000"/>
<rect x="295.8" y="73.5" width="2.68" height="6.7" fill="#a90000"/>
<rect x="295.8" y="80" width="2.68" height="6.7" fill="#a90000"/>
<rect x="295.8" y="86.5" width="2.68" height="6.7" fill="#a90000"/>
<rect x="295.8" y="93" width="2.68" height="6.7" fill="#a90000"/>
<rect x="295.8" y="99.5" width="2.68" height="6.7" fill="#dd0000"/>
<rect x="295.8" y="106" width="2.68" height="6.7" fill="#ff2f00"/>
<rect x="295.8" y="112.5" width="2.68" height="6.7" fill="#ff0d00"/>
<rect x="295.8" y="119" width="2.68" height="6.7" fill="#ff6200"/>
<rect x="298.13" y="21.5" width="2.68" height="6.7" fill="#a90000"/>
<rect x="298.13" y="28" width="2.68" height="6.7" fill="#a90000"/>
<rect x="298.13" y="34.5" width="2.68" height="6.7" fill="#a90000"/>
<rect x="298.13" y="41" width="2.68" height="6.7" fill="#a90000"/>
<rect x="298.13" y="47.5" width="2.68" height="6.7" fill="#a90000"/>
<rect x="298.13" y="54" width="2.68" height="6.7" fill="#a90000"/>
<rect x="298.13" y="60.5" width="2.68" height="6.7" fill="#a90000"/>
<rect x="298.13" y="67" width="2.68" height="6.7" fill="#a90000"/>
<rect x="298.13" y="73.5" width="2.68" height="6.7" fill="#a90000"/>
<rect x="298.13" y="80" width="2.68" height="6.7" fill="#a90000"/>
<rect x="298.13" y="86.5" width="2.68" height="6.7" fill="#a90000"/>
<rect x="298.13" y="93" width="2.68" height="6.7" fill="#a90000"/>
<rect x="298.13" y="99.5" width="2.68" height="6.7" fill="#a90000"/>
<rect x="298.13" y="106" width="2.68" height="6.7" fill="#a90000"/>
<rect x="298.13" y="112.5" width="2.68" height="6.7" fill="#a90000"/>
<rect x="298.13" y="119" width="2.68" height="6.7" fill="#a90000"/>
<rect x="300.46" y="21.5" width="2.68" height="6.7" fill="#ffa600"/>
<rect x="300.46" y="28" width="2.68" height="6.7" fill="#ffa600"/>
<rect x="300.46" y="34.5" width="2.68" height="6.7" fill="#ffa600"/>
<rect x="300.46" y="41" width="2.68" height="6.7" fill="#ffa600"/>
<rect x="300.46" y="47.5" width="2.68" height="6.7" fill="#a90000"/>
<rect x="300.46" y="54" width="2.68" height="6.7" fill="#a90000"/>
<rect x="300.46" y="60.5" width="2.68" height="6.7" fill="#a90000"/>
<rect x="300.46" y="67" width="2.68" height="6.7" fill="#a90000"/>
<rect x="300.46" y="73.5" width="2.68" height="6.7" fill="#a90000"/>
<rect x="300.46" y="80" width="2.68" height="6.7" fill="#a90000"/>
<rect x="300.46" y="86.5" width="2.68" height="6.7" fill="#a90000"/>
<rect x="300.46" y="93" width="2.68" height="6.7" fill="#a90000"/>
<rect x="300.46" y="99.5" width="2.68" height="6.7" fill="#a90000"/>
<rect x="300.46" y="106" width="2.68" height="6.7" fill="#a90000"/>
<rect x="300.46" y="112.5" width="2.68" height="6.7" fill="#a90000"/>
<rect x="300.46" y="119" width="2.68" height="6.7" fill="#a90000"/>
<rect x="302.79" y="21.5" width="2.68" height="6.7" fill="#ff0000"/>
<rect x="302.79" y="28" width="2.68" height="6.7" fill="#ff0000"/>
<rect x="302.79" y="34.5" width="2.68" height="6.7" fill="#ff0000"/>
<rect x="302.79" y="41" width="2.68" height="6.7" fill="#ff0000"/>
<rect x="302.79" y="47.5" width="2.68" height="6.7" fill="#a90000"/>
<rect x="302.79" y="54" width="2.68" height="6.7" fill="#a90000"/>
<rect x="302.79" y="60.5" width="2.68" height="6.7" fill="#a90000"/>
<rect x="302.79" y="67" width="2.68" height="6.7" fill="#a90000"/>
<rect x="302.79" y="73.5" width="2.68" height="6.7" fill="#a90000"/>
<rect x="302.79" y="80" width="2.68" height="6.7" fill="#a90000"/>
<rect x="302.79" y="86.5" width="2.68" height="6.7" fill="#a90000"/>
<rect x="302.79" y="93" width="2.68" height="6.7" fill="#a90000"/>
<rect x="302.79" y="99.5" width="2.68" height="6.7" fill="#a90000"/>
<rect x="302.79" y="106" width="2.68" height="6.7" fill="#a90000"/>
<rect x="302.79" y="112.5" width="2.68" height="6.7" fill="#a90000"/>
<rect x="302.79" y="119" width="2.68" height="6.7" fill="#a90000"/>
<rect x="305.12" y="21.5" width="2.68" height="6.7" fill="#ff0000"/>
<rect x="305.12" y="28" width="2.68" height="6.7" fill="#ff0000"/>
<rect x="305.12" y="34.5" width="2.68" height="6.7" fill="#ff0000"/>
<rect x="305.12" y="41" width="2.68" height="6.7" fill="#ff0000"/>
<rect x="305.12" y="47.5" width="2.68" height="6.7" fill="#a90000"/>
<rect x="305.12" y="54" width="2.68" height="6.7" fill="#a90000"/>
<rect x="305.12" y="60.5" width="2.68" height="6.7" fill="#a90000"/>
<rect x="305.12" y="67" width="2.68" height="6.7" fill="#a90000"/>
<rect x="305.12" y="73.5" width="2.68" height="6.7" fill="#a90000"/>
<rect x="305.12" y="80" width="2.68" height="6.7" fill="#a90000"/>
<rect x="305.12" y="86.5" width="2.68" height="6.7" fill="#a90000"/>
<rect x="305.12" y="93" width="2.68" height="6.7" fill="#a90000"/>
<rect x="305.12" y="99.5" width="2.68" height="6.7" fill="#a90000"/>
<rect x="305.12" y="106" width="2.68" height="6.7" fill="#a90000"/>
<rect x="305.12" y="112.5" width="2.68" height="6.7" fill="#a90000"/>
<rect x="305.12" y="119" width="2.68" height="6.7" fill="#a90000"/>
<rect x="307.46" y="21.5" width="2.68" height="6.7" fill="#a90000"/>
<rect x="307.46" y="28" width="2.68" height="6.7" fill="#a90000"/>
<rect x="307.46" y="34.5" width="2.68" height="6.7" fill="#a90000"/>
<rect x="307.46" y="41" width="2.68" height="6.7" fill="#a90000"/>
<rect x="307.46" y="47.5" width="2.68" height="6.7" fill="#a90000"/>
<rect x="307.46" y="54" width="2.68" height="6.7" fill="#a90000"/>
<rect x="307.46" y="60.5" width="2.68" height="6.7" fill="#a90000"/>
<rect x="307.46" y="67" width="2.68" height="6.7" fill="#a90000"/>
<rect x="307.46" y="73.5" width="2.68" height="6.7" fill="#a90000"/>
<rect x="307.46" y="80" width="2.68" height="6.7" fill="#a90000"/>
<rect x="307.46" y="86.5" width="2.68" height="6.7" fill="#a90000"/>
<rect x="307.46" y="93" width="2.68" height="6.7" fill="#a90000"/>
<rect x="307.46" y="99.5" width="2.68" height="6.7" fill="#a90000"/>
<rect x="307.46" y="106" width="2.68" height="6.7" fill="#a90000"/>
<rect x="307.46" y="112.5" width="2.68" height="6.7" fill="#a90000"/>
<rect x="307.46" y="119" width="2.68" height="6.7" fill="#a90000"/>
<rect x="309.79" y="21.5" width="2.68" height="6.7" fill="#a90000"/>
<rect x="309.79" y="28" width="2.68" height="6.7" fill="#a90000"/>
<rect x="309.79" y="34.5" width="2.68" height="6.7" fill="#a90000"/>
<rect x="309.79" y="41" width="2.68" height="6.7" fill="#a90000"/>
<rect x="309.79" y="47.5" width="2.68" height="6.7" fill="#a90000"/>
<rect x="309.79" y="54" width="2.68" height="6.7" fill="#a90000"/>
<rect x="309.79" y="60.5" width="2.68" height="6.7" fill="#a90000"/>
<rect x="309.79" y="67" width="2.68" height="6.7" fill="#a90000"/>
<rect x="309.79" y="73.5" width="2.68" height="6.7" fill="#a90000"/>
<rect x="309.79" y="80" width="2.68" height="6.7" fill="#a90000"/>
<rect x="309.79" y="86.5" width="2.68" height="6.7" fill="#a90000"/>
<rect x="309.79" y="93" width="2.68" height="6.7" fill="#a90000"/>
<rect x="309.79" y="99.5" width="2.68" height="6.7" fill="#a90000"/>
<rect x="309.79" y="106" width="2.68" height="6.7" fill="#a90000"/>
<rect x="309.79" y="112.5" width="2.68" height="6.7" fill="#a90000"/>
<rect x="309.79" y="119" width="2.68" height="6.7" fill="#a90000"/>
<rect x="312.12" y="21.5" width="2.68" height="6.7" fill="#ff0000"/>
<rect x="312.12" y="28" width="2.68" height="6.7" fill="#ff0000"/>
<rect x="312.12" y="34.5" width="2.68" height="6.7" fill="#ff0000"/>
<rect x="312.12" y="41" width="2.68" height="6.7" fill="#ff0000"/>
<rect x="312.12" y="47.5" width="2.68" height="6.7" fill="#a90000"/>
<rect x="312.12" y="54" width="2.68" height="6.7" fill="#a90000"/>
<rect x="312.12" y="60.5" width="2.68" height="6.7" fill="#a90000"/>
<rect x="312.12" y="67" width="2.68" height="6.7" fill="#a90000"/>
<rect x="312.12" y="73.5" width="2.68" height="6.7" fill="#a90000"/>
<rect x="312.12" y="80" width="2.68" height="6.7" fill="#a90000"/>
<rect x="312.12" y="86.5" width="2.68" height="6.7" fill="#a90000"/>
<rect x="312.12" y="93" width="2.68" height="6.7" fill="#a90000"/>
<rect x="312.12" y="99.5" width="2.68" height="6.7" fill="#a90000"/>
<rect x="312.12" y="106" width="2.68" height="6.7" fill="#a90000"/>
<rect x="312.12" y="112.5" width="2.68" height="6.7" fill="#a90000"/>
<rect x="312.12" y="119" width="2.68" height="6.7" fill="#a90000"/>
<rect x="314.45" y="21.5" width="2.68" height="6.7" fill="#ff0000"/>
<rect x="314.45" y="28" width="2.68" height="6.7" fill="#ff0000"/>
<rect x="314.45" y="34.5" width="2.68" height="6.7" fill="#ff0000"/>
<rect x="314.45" y="41" width="2.68" height="6.7" fill="#ff0000"/>
<rect x="314.45" y="47.5" width="2.68" height="6.7" fill="#a90000"/>
<rect x="314.45" y="54" width="2.68" height="6.7" fill="#a90000"/>
<rect x="314.45" y="60.5" width="2.68" height="6.7" fill="#a90000"/>
<rect x="314.45" y="67" width="2.68" height="6.7" fill="#a90000"/>
<rect x="314.45" y="73.5" width="2.68" height="6.7" fill="#a90000"/>
<rect x="314.45" y="80" width="2.68" height="6.7" fill="#a90000"/>
<rect x="314.45" y="86.5" width="2.68" height="6.7" fill="#a90000"/>
<rect x="314.45" y="93" width="2.68" height="6.7" fill="#a90000"/>
<rect x="314.45" y="99.5" width="2.68" height="6.7" fill="#a90000"/>
<rect x="314.45" y="106" width="2.68" height="6.7" fill="#a90000"/>
<rect x="314.45" y="112.5" width="2.68" height="6.7" fill="#a90000"/>
<rect x="314.45" y="119" width="2.68" height="6.7" fill="#a90000"/>
<rect x="316.78" y="21.5" width="2.68" height="6.7" fill="#a90000"/>
<rect x="316.78" y="28" width="2.68" height="6.7" fill="#a90000"/>
<rect x="316.78" y="34.5" width="2.68" height="6.7" fill="#a90000"/>
<rect x="316.78" y="41" width="2.68" height="6.7" fill="#a90000"/>
<rect x="316.78" y="47.5" width="2.68" height="6.7" fill="#a90000"/>
<rect x="316.78" y="54" width="2.68" height="6.7" fill="#a90000"/>
<rect x="316.78" y="60.5" width="2.68" height="6.7" fill="#a90000"/>
<rect x="316.78" y="67" width="2.68" height="6.7" fill="#a90000"/>
<rect x="316.78" y="73.5" width="2.68" height="6.7" fill="#a90000"/>
<rect x="316.78" y="80" width="2.68" height="6.7" fill="#a90000"/>
<rect x="316.78" y="86.5" width="2.68" height="6.7" fill="#a90000"/>
<rect x="316.78" y="93" width="2.68" height="6.7" fill="#a90000"/>
<rect x="316.78" y="99.5" width="2.68" height="6.7" fill="#a90000"/>
<rect x="316.78" y="106" width="2.68" height="6.7" fill="#a90000"/>
<rect x="316.78" y="112.5" width="2.68" height="6.7" fill="#a90000"/>
<rect x="316.78" y="119" width="2.68" height="6.7" fill="#a90000"/>
<rect x="319.11" y="21.5" width="2.68" height="6.7" fill="#a90000"/>
<rect x="319.11" y="28" width="2.68" height="6.7" fill="#a90000"/>
<rect x="319.11" y="34.5" width="2.68" height="6.7" fill="#a90000"/>
<rect x="319.11" y="41" width="2.68" height="6.7" fill="#a90000"/>
<rect x="319.11" y="47.5" width="2.68" height="6.7" fill="#a90000"/>
<rect x="319.11" y="54" width="2.68" height="6.7" fill="#a90000"/>
<rect x="319.11" y="60.5" width="2.68" height="6.7" fill="#a90000"/>
<rect x="319.11" y="67" width="2.68" height="6.7" fill="#a90000"/>
<rect x="319.11" y="73.5" width="2.68" height="6.7" fill="#a90000"/>
<rect x="319.11" y="80" width="2.68" height="6.7" fill="#a90000"/>
<rect x="319.11" y="86.5" width="2.68" height="6.7" fill="#a90000"/>
<rect x="319.11" y="93" width="2.68" height="6.7" fill="#a90000"/>
<rect x="319.11" y="99.5" width="2.68" height="6.7" fill="#a90000"/>
<rect x="319.11" y="106" width="2.68" height="6.7" fill="#a90000"/>
<rect x="319.11" y="112.5" width="2.68" height="6.7" fill="#a90000"/>
<rect x="319.11" y="119" width="2.68" height="6.7" fill="#a90000"/>
<rect x="321.44" y="21.5" width="2.68" height="6.7" fill="#a90000"/>
<rect x="321.44" y="28" width="2.68" height="6.7" fill="#a90000"/>
<rect x="321.44" y="34.5" width="2.68" height="6.7" fill="#a90000"/>
<rect x="321.44" y="41" width="2.68" height="6.7" fill="#a90000"/>
<rect x="321.44" y="47.5" width="2.68" height="6.7" fill="#a90000"/>
<rect x="321.44" y="54" width="2.68" height="6.7" fill="#a90000"/>
<rect x="321.44" y="60.5" width="2.68" height="6.7" fill="#a90000"/>
<rect x="321.44" y="67" width="2.68" height="6.7" fill="#a90000"/>
<rect x="321.44" y="73.5" width="2.68" height="6.7" fill="#a90000"/>
<rect x="321.44" y="80" width="2.68" height="6.7" fill="#a90000"/>
<rect x="321.44" y="86.5" width="2.68" height="6.7" fill="#a90000"/>
<rect x="321.44" y="93" width="2.68" height="6.7" fill="#a90000"/>
<rect x="321.44" y="99.5" width="2.68" height="6.7" fill="#a90000"/>
<rect x="321.44" y="106" width="2.68" height="6.7" fill="#a90000"/>
<rect x="321.44" y="112.5" width="2.68" height="6.7" fill="#a90000"/>
<rect x="321.44" y="119" width="2.68" height="6.7" fill="#a90000"/>
<rect x="323.77" y="21.5" width="2.68" height="6.7" fill="#a90000"/>
<rect x="323.77" y="28" width="2.68" height="6.7" fill="#a90000"/>
<rect x="323.77" y="34.5" width="2.68" height="6.7" fill="#a90000"/>
<rect x="323.77" y="41" width="2.68" height="6.7" fill="#a90000"/>
<rect x="323.77" y="47.5" width="2.68" height="6.7" fill="#a90000"/>
<rect x="323.77" y="54" width="2.68" height="6.7" fill="#a90000"/>
<rect x="323.77" y="60.5" width="2.68" height="6.7" fill="#a90000"/>
<rect x="323.77" y="67" width="2.68" height="6.7" fill="#a90000"/>
<rect x="323.77" y="73.5" width="2.68" height="6.7" fill="#a90000"/>
<rect x="323.77" y="80" width="2.68" height="6.7" fill="#a90000"/>
<rect x="323.77" y="86.5" width="2.68" height="6.7" fill="#a90000"/>
<rect x="323.77" y="93" width="2.68" height="6.7" fill="#a90000"/>
<rect x="323.77" y="99.5" width="2.68" height="6.7" fill="#a90000"/>
<rect x="323.77" y="106" width="2.68" height="6.7" fill="#a90000"/>
<rect x="323.77" y="112.5" width="2.68" height="6.7" fill="#a90000"/>
<rect x="323.77" y="119" width="2.68" height="6.7" fill="#a90000"/>
<rect x="326.11" y="34.5" width="2.68" height="6.7" fill="#a90000"/>
<rect x="326.11" y="41" width="2.68" height="6.7" fill="#a90000"/>
<rect x="326.11" y="47.5" width="2.68" height="6.7" fill="#a90000"/>
<rect x="326.11" y="54" width="2.68" height="6.7" fill="#a90000"/>
<rect x="326.11" y="80" width="2.68" height="6.7" fill="#a90000"/>
<rect x="326.11" y="86.5" width="2.68" height="6.7" fill="#a90000"/>
<rect x="326.11" y="93" width="2.68" height="6.7" fill="#a90000"/>
<rect x="326.11" y="99.5" width="2.68" height="6.7" fill="#a90000"/>
<rect x="326.11" y="106" width="2.68" height="6.7" fill="#a90000"/>
<rect x="326.11" y="112.5" width="2.68" height="6.7" fill="#a90000"/>
<rect x="328.44" y="21.5" width="2.68" height="6.7" fill="#a90000"/>
<rect x="328.44" y="28" width="2.68" height="6.7" fill="#a90000"/>
<rect x="328.44" y="34.5" width="2.68" height="6.7" fill="#a90000"/>
<rect x="328.44" y="41" width="2.68" height="6.7" fill="#a90000"/>
<rect x="328.44" y="47.5" width="2.68" height="6.7" fill="#a90000"/>
<rect x="328.44" y="54" width="2.68" height="6.7" fill="#a90000"/>
<rect x="328.44" y="60.5" width="2.68" height="6.7" fill="#a90000"/>
<rect x="328.44" y="67" width="2.68" height="6.7" fill="#a90000"/>
<rect x="328.44" y="73.5" width="2.68" height="6.7" fill="#a90000"/>
<rect x="328.44" y="80" width="2.68" height="6.7" fill="#a90000"/>
<rect x="328.44" y="86.5" width="2.68" height="6.7" fill="#a90000"/>
<rect x="328.44" y="93" width="2.68" height="6.7" fill="#a90000"/>
<rect x="328.44" y="99.5" width="2.68" height="6.7" fill="#a90000"/>
<rect x="328.44" y="106" width="2.68" height="6.7" fill="#a90000"/>
<rect x="328.44" y="112.5" width="2.68" height="6.7" fill="#a90000"/>
<rect x="328.44" y="119" width="2.68" height="6.7" fill="#a90000"/>
<rect x="330.77" y="21.5" width="2.68" height="6.7" fill="#a90000"/>
<rect x="330.77" y="28" width="2.68" height="6.7" fill="#a90000"/>
<rect x="330.77" y="34.5" width="2.68" height="6.7" fill="#a90000"/>
<rect x="330.77" y="41" width="2.68" height="6.7" fill="#a90000"/>
<rect x="330.77" y="47.5" width="2.68" height="6.7" fill="#a90000"/>
<rect x="330.77" y="54" width="2.68" height="6.7" fill="#a90000"/>
<rect x="330.77" y="60.5" width="2.68" height="6.7" fill="#a90000"/>
<rect x="330.77" y="67" width="2.68" height="6.7" fill="#a90000"/>
<rect x="330.77" y="73.5" width="2.68" height="6.7" fill="#a90000"/>
<rect x="330.77" y="80" width="2.68" height="6.7" fill="#a90000"/>
<rect x="330.77" y="86.5" width="2.68" height="6.7" fill="#a90000"/>
<rect x="330.77" y="93" width="2.68" height="6.7" fill="#a90000"/>
<rect x="330.77" y="99.5" width="2.68" height="6.7" fill="#a90000"/>
<rect x="330.77" y="106" width="2.68" height="6.7" fill="#a90000"/>
<rect x="330.77" y="112.5" width="2.68" height="6.7" fill="#a90000"/>
<rect x="330.77" y="119" width="2.68" height="6.7" fill="#a90000"/>
<rect x="333.1" y="99.5" width="2.68" height="6.7" fill="#a90000"/>
<rect x="333.1" y="106" width="2.68" height="6.7" fill="#a90000"/>
<rect x="335.43" y="99.5" width="2.68" height="6.7" fill="#a90000"/>
<rect x="335.43" y="106" width="2.68" height="6.7" fill="#a90000"/>
<rect x="337.76" y="60.5" width="2.68" height="6.7" fill="#a90000"/>
<rect x="337.76" y="67" width="2.68" height="6.7" fill="#a90000"/>
<rect x="340.09" y="47.5" width="2.68" height="6.7" fill="#a90000"/>
<rect x="340.09" y="54" width="2.68" height="6.7" fill="#a90000"/>
<rect x="340.09" y="60.5" width="2.68" height="6.7" fill="#a90000"/>
<rect x="340.09" y="67" width="2.68" height="6.7" fill="#a90000"/>
<rect x="340.09" y="73.5" width="2.68" height="6.7" fill="#a90000"/>
<rect x="340.09" y="80" width="2.68" height="6.7" fill="#a90000"/>
<rect x="342.42" y="34.5" width="2.68" height="6.7" fill="#a90000"/>
<rect x="342.42" y="41" width="2.68" height="6.7" fill="#a90000"/>
<rect x="342.42" y="47.5" width="2.68" height="6.7" fill="#a90000"/>
<rect x="342.42" y="54" width="2.68" height="6.7" fill="#a90000"/>
<rect x="342.42" y="60.5" width="2.68" height="6.7" fill="#a90000"/>
<rect x="342.42" y="67" width="2.68" height="6.7" fill="#a90000"/>
<rect x="342.42" y="73.5" width="2.68" height="6.7" fill="#a90000"/>
<rect x="342.42" y="80" width="2.68" height="6.7" fill="#a90000"/>
<rect x="342.42" y="86.5" width="2.68" height="6.7" fill="#a90000"/>
<rect x="342.42" y="93" width="2.68" height="6.7" fill="#a90000"/>
<rect x="344.76" y="34.5" width="2.68" height="6.7" fill="#a90000"/>
<rect x="344.76" y="41" width="2.68" height="6.7" fill="#a90000"/>
<rect x="344.76" y="47.5" width="2.68" height="6.7" fill="#a90000"/>
<rect x="344.76" y="54" width="2.68" height="6.7" fill="#a90000"/>
<rect x="344.76" y="60.5" width="2.68" height="6.7" fill="#a90000"/>
<rect x="344.76" y="67" width="2.68" height="6.7" fill="#a90000"/>
<rect x="344.76" y="73.5" width="2.68" height="6.7" fill="#a90000"/>
<rect x="344.76" y="80" width="2.68" height="6.7" fill="#a90000"/>
<rect x="344.76" y="86.5" width="2.68" height="6.7" fill="#a90000"/>
<rect x="344.76" y="93" width="2.68" height="6.7" fill="#a90000"/>
<rect x="347.09" y="21.5" width="2.68" height="6.7" fill="#a90000"/>
<rect x="347.09" y="28" width="2.68" height="6.7" fill="#a90000"/>
<rect x="347.09" y="34.5" width="2.68" height="6.7" fill="#a90000"/>
<rect x="347.09" y="41" width="2.68" height="6.7" fill="#a90000"/>
<rect x="347.09" y="47.5" width="2.68" height="6.7" fill="#a90000"/>
<rect x="347.09" y="54" width="2.68" height="6.7" fill="#a90000"/>
<rect x="347.09" y="60.5" width="2.68" height="6.7" fill="#a90000"/>
<rect x="347.09" y="67" width="2.68" height="6.7" fill="#a90000"/>
<rect x="347.09" y="73.5" width="2.68" height="6.7" fill="#a90000"/>
<rect x="347.09" y="80" width="2.68" height="6.7" fill="#a90000"/>
<rect x="347.09" y="86.5" width="2.68" height="6.7" fill="#a90000"/>
<rect x="347.09" y="93" width="2.68" height="6.7" fill="#a90000"/>
<rect x="347.09" y="99.5" width="2.68" height="6.7" fill="#a90000"/>
<rect x="347.09" y="106" width="2.68" height="6.7" fill="#a90000"/>
<rect x="347.09" y="112.5" width="2.68" height="6.7" fill="#a90000"/>
<rect x="347.09" y="119" width="2.68" height="6.7" fill="#a90000"/>
<rect x="349.42" y="21.5" width="2.68" height="6.7" fill="#a90000"/>
<rect x="349.42" y="28" width="2.68" height="6.7" fill="#a90000"/>
<rect x="349.42" y="34.5" width="2.68" height="6.7" fill="#a90000"/>
<rect x="349.42" y="41" width="2.68" height="6.7" fill="#a90000"/>
<rect x="349.42" y="47.5" width="2.68" height="6.7" fill="#a90000"/>
<rect x="349.42" y="54" width="2.68" height="6.7" fill="#a90000"/>
<rect x="349.42" y="60.5" width="2.68" height="6.7" fill="#a90000"/>
<rect x="349.42" y="67" width="2.68" height="6.7" fill="#a90000"/>
<rect x="349.42" y="73.5" width="2.68" height="6.7" fill="#a90000"/>
<rect x="349.42" y="80" width="2.68" height="6.7" fill="#a90000"/>
<rect x="349.42" y="86.5" width="2.68" height="6.7" fill="#a90000"/>
<rect x="349.42" y="93" width="2.68" height="6.7" fill="#a90000"/>
<rect x="349.42" y="99.5" width="2.68" height="6.7" fill="#a90000"/>
<rect x="349.42" y="106" width="2.68" height="6.7" fill="#a90000"/>
<rect x="349.42" y="112.5" width="2.68" height="6.7" fill="#a90000"/>
<rect x="349.42" y="119" width="2.68" height="6.7" fill="#a90000"/>
<rect x="351.75" y="21.5" width="2.68" height="6.7" fill="#a90000"/>
<rect x="351.75" y="28" width="2.68" height="6.7" fill="#a90000"/>
<rect x="351.75" y="34.5" width="2.68" height="6.7" fill="#a90000"/>
<rect x="351.75" y="41" width="2.68" height="6.7" fill="#a90000"/>
<rect x="351.75" y="47.5" width="2.68" height="6.7" fill="#a90000"/>
<rect x="351.75" y="54" width="2.68" height="6.7" fill="#a90000"/>
<rect x="351.75" y="60.5" width="2.68" height="6.7" fill="#a90000"/>
<rect x="351.75" y="67" width="2.68" height="6.7" fill="#a90000"/>
<rect x="351.75" y="73.5" width="2.68" height="6.7" fill="#a90000"/>
<rect x="351.75" y="80" width="2.68" height="6.7" fill="#a90000"/>
<rect x="351.75" y="86.5" width="2.68" height="6.7" fill="#a90000"/>
<rect x="351.75" y="93" width="2.68" height="6.7" fill="#a90000"/>
<rect x="351.75" y="99.5" width="2.68" height="6.7" fill="#a90000"/>
<rect x="351.75" y="106" width="2.68" height="6.7" fill="#a90000"/>
<rect x="351.75" y="112.5" width="2.68" height="6.7" fill="#a90000"/>
<rect x="351.75" y="119" width="2.68" height="6.7" fill="#a90000"/>
<rect x="354.08" y="21.5" width="2.68" height="6.7" fill="#a90000"/>
<rect x="354.08" y="28" width="2.68" height="6.7" fill="#a90000"/>
<rect x="354.08" y="34.5" width="2.68" height="6.7" fill="#a90000"/>
<rect x="354.08" y="41" width="2.68" height="6.7" fill="#a90000"/>
<rect x="354.08" y="47.5" width="2.68" height="6.7" fill="#a90000"/>
<rect x="354.08" y="54" width="2.68" height="6.7" fill="#a90000"/>
<rect x="354.08" y="60.5" width="2.68" height="6.7" fill="#a90000"/>
<rect x="354.08" y="67" width="2.68" height="6.7" fill="#a90000"/>
<rect x="354.08" y="73.5" width="2.68" height="6.7" fill="#a90000"/>
<rect x="354.08" y="80" width="2.68" height="6.7" fill="#a90000"/>
<rect x="354.08" y="86.5" width="2.68" height="6.7" fill="#a90000"/>
<rect x="354.08" y="93" width="2.68" height="6.7" fill="#a90000"/>
<rect x="354.08" y="99.5" width="2.68" height="6.7" fill="#a90000"/>
<rect x="354.08" y="106" width="2.68" height="6.7" fill="#a90000"/>
<rect x="354.08" y="112.5" width="2.68" height="6.7" fill="#a90000"/>
<rect x="354.08" y="119" width="2.68" height="6.7" fill="#a90000"/>
<rect x="356.41" y="21.5" width="2.68" height="6.7" fill="#a90000"/>
<rect x="356.41" y="28" width="2.68" height="6.7" fill="#a90000"/>
<rect x="356.41" y="34.5" width="2.68" height="6.7" fill="#a90000"/>
<rect x="356.41" y="41" width="2.68" height="6.7" fill="#a90000"/>
<rect x="356.41" y="47.5" width="2.68" height="6.7" fill="#a90000"/>
<rect x="356.41" y="54" width="2.68" height="6.7" fill="#a90000"/>
<rect x="356.41" y="60.5" width="2.68" height="6.7" fill="#a90000"/>
<rect x="356.41" y="67" width="2.68" height="6.7" fill="#a90000"/>
<rect x="356.41" y="73.5" width="2.68" height="6.7" fill="#a90000"/>
<rect x="356.41" y="80" width="2.68" height="6.7" fill="#a90000"/>
<rect x="356.41" y="86.5" width="2.68" height="6.7" fill="#a90000"/>
<rect x="356.41" y="93" width="2.68" height="6.7" fill="#a90000"/>
<rect x="356.41" y="99.5" width="2.68" height="6.7" fill="#a90000"/>
<rect x="356.41" y="106" width="2.68" height="6.7" fill="#a90000"/>
<rect x="356.41" y="112.5" width="2.68" height="6.7" fill="#a90000"/>
<rect x="356.41" y="119" width="2.68" height="6.7" fill="#a90000"/>
<rect x="358.74" y="21.5" width="2.68" height="6.7" fill="#a90000"/>
<rect x="358.74" y="28" width="2.68" height="6.7" fill="#a90000"/>
<rect x="358.74" y="34.5" width="2.68" height="6.7" fill="#a90000"/>
<rect x="358.74" y="41" width="2.68" height="6.7" fill="#a90000"/>
<rect x="358.74" y="47.5" width="2.68" height="6.7" fill="#a90000"/>
<rect x="358.74" y="54" width="2.68" height="6.7" fill="#a90000"/>
<rect x="358.74" y="60.5" width="2.68" height="6.7" fill="#a90000"/>
<rect x="358.74" y="67" width="2.68" height="6.7" fill="#a90000"/>
<rect x="358.74" y="73.5" width="2.68" height="6.7" fill="#a90000"/>
<rect x="358.74" y="80" width="2.68" height="6.7" fill="#a90000"/>
<rect x="358.74" y="86.5" width="2.68" height="6.7" fill="#a90000"/>
<rect x="358.74" y="93" width="2.68" height="6.7" fill="#a90000"/>
<rect x="358.74" y="99.5" width="2.68" height="6.7" fill="#a90000"/>
<rect x="358.74" y="106" width="2.68" height="6.7" fill="#a90000"/>
<rect x="358.74" y="112.5" width="2.68" height="6.7" fill="#a90000"/>
<rect x="358.74" y="119" width="2.68" height="6.7" fill="#a90000"/>
<rect x="361.07" y="21.5" width="2.68" height="6.7" fill="#a90000"/>
<rect x="361.07" y="28" width="2.68" height="6.7" fill="#a90000"/>
<rect x="361.07" y="34.5" width="2.68" height="6.7" fill="#a90000"/>
<rect x="361.07" y="41" width="2.68" height="6.7" fill="#a90000"/>
<rect x="361.07" y="47.5" width="2.68" height="6.7" fill="#a90000"/>
<rect x="361.07" y="54" width="2.68" height="6.7" fill="#a90000"/>
<rect x="361.07" y="60.5" width="2.68" height="6.7" fill="#a90000"/>
<rect x="361.07" y="67" width="2.68" height="6.7" fill="#a90000"/>
<rect x="361.07" y="73.5" width="2.68" height="6.7" fill="#a90000"/>
<rect x="361.07" y="80" width="2.68" height="6.7" fill="#a90000"/>
<rect x="361.07" y="86.5" width="2.68" height="6.7" fill="#a90000"/>
<rect x="361.07" y="93" width="2.68" height="6.7" fill="#a90000"/>
<rect x="361.07" y="99.5" width="2.68" height="6.7" fill="#a90000"/>
<rect x="361.07" y="106" width="2.68" height="6.7" fill="#a90000"/>
<rect x="361.07" y="112.5" width="2.68" height="6.7" fill="#a90000"/>
<rect x="361.07" y="119" width="2.68" height="6.7" fill="#a90000"/>
<rect x="363.41" y="21.5" width="2.68" height="6.7" fill="#a90000"/>
<rect x="363.41" y="28" width="2.68" height="6.7" fill="#a90000"/>
<rect x="363.41" y="34.5" width="2.68" height="6.7" fill="#a90000"/>
<rect x="363.41" y="41" width="2.68" height="6.7" fill="#a90000"/>
<rect x="363.41" y="47.5" width="2.68" height="6.7" fill="#a90000"/>
<rect x="363.41" y="54" width="2.68" height="6.7" fill="#a90000"/>
<rect x="363.41" y="60.5" width="2.68" height="6.7" fill="#a90000"/>
<rect x="363.41" y="67" width="2.68" height="6.7" fill="#a90000"/>
<rect x="363.41" y="73.5" width="2.68" height="6.7" fill="#a90000"/>
<rect x="363.41" y="80" width="2.68" height="6.7" fill="#a90000"/>
<rect x="363.41" y="86.5" width="2.68" height="6.7" fill="#a90000"/>
<rect x="363.41" y="93" width="2.68" height="6.7" fill="#a90000"/>
<rect x="363.41" y="99.5" width="2.68" height="6.7" fill="#a90000"/>
<rect x="363.41" y="106" width="2.68" height="6.7" fill="#a90000"/>
<rect x="363.41" y="112.5" width="2.68" height="6.7" fill="#a90000"/>
<rect x="363.41" y="119" width="2.68" height="6.7" fill="#a90000"/>
<rect x="365.74" y="21.5" width="2.68" height="6.7" fill="#a90000"/>
<rect x="365.74" y="28" width="2.68" height="6.7" fill="#a90000"/>
<rect x="365.74" y="34.5" width="2.68" height="6.7" fill="#a90000"/>
<rect x="365.74" y="41" width="2.68" height="6.7" fill="#a90000"/>
<rect x="365.74" y="47.5" width="2.68" height="6.7" fill="#a90000"/>
<rect x="365.74" y="54" width="2.68" height="6.7" fill="#a90000"/>
<rect x="365.74" y="60.5" width="2.68" height="6.7" fill="#a90000"/>
<rect x="365.74" y="67" width="2.68" height="6.7" fill="#a90000"/>
<rect x="365.74" y="73.5" width="2.68" height="6.7" fill="#a90000"/>
<rect x="365.74" y="80" width="2.68" height="6.7" fill="#a90000"/>
<rect x="365.74" y="86.5" width="2.68" height="6.7" fill="#a90000"/>
<rect x="365.74" y="93" width="2.68" height="6.7" fill="#a90000"/>
<rect x="365.74" y="99.5" width="2.68" height="6.7" fill="#a90000"/>
<rect x="365.74" y="106" width="2.68" height="6.7" fill="#a90000"/>
<rect x="365.74" y="112.5" width="2.68" height="6.7" fill="#a90000"/>
<rect x="365.74" y="119" width="2.68" height="6.7" fill="#a90000"/>
<rect x="368.07" y="21.5" width="2.68" height="6.7" fill="#a90000"/>
<rect x="368.07" y="28" width="2.68" height="6.7" fill="#a90000"/>
<rect x="368.07" y="34.5" width="2.68" height="6.7" fill="#a90000"/>
<rect x="368.07" y="41" width="2.68" height="6.7" fill="#a90000"/>
<rect x="368.07" y="47.5" width="2.68" height="6.7" fill="#a90000"/>
<rect x="368.07" y="54" width="2.68" height="6.7" fill="#a90000"/>
<rect x="368.07" y="60.5" width="2.68" height="6.7" fill="#a90000"/>
<rect x="368.07" y="67" width="2.68" height="6.7" fill="#a90000"/>
<rect x="368.07" y="73.5" width="2.68" height="6.7" fill="#a90000"/>
<rect x="368.07" y="80" width="2.68" height="6.7" fill="#a90000"/>
<rect x="368.07" y="86.5" width="2.68" height="6.7" fill="#a90000"/>
<rect x="368.07" y="93" width="2.68" height="6.7" fill="#a90000"/>
<rect x="368.07" y="99.5" width="2.68" height="6.7" fill="#a90000"/>
<rect x="368.07" y="106" width="2.68" height="6.7" fill="#a90000"/>
<rect x="368.07" y="112.5" width="2.68" height="6.7" fill="#a90000"/>
<rect x="368.07" y="119" width="2.68" height="6.7" fill="#a90000"/>
<rect x="370.4" y="21.5" width="2.68" height="6.7" fill="#ffdc00"/>
<rect x="370.4" y="28" width="2.68" height="6.7" fill="#ffbc00"/>
<rect x="370.4" y="34.5" width="2.68" height="6.7" fill="#a90000"/>
<rect x="370.4" y="41" width="2.68" height="6.7" fill="#a90000"/>
<rect x="370.4" y="47.5" width="2.68" height="6.7" fill="#a90000"/>
<rect x="370.4" y="54" width="2.68" height="6.7" fill="#a90000"/>
<rect x="370.4" y="60.5" width="2.68" height="6.7" fill="#a90000"/>
<rect x="370.4" y="67" width="2.68" height="6.7" fill="#a90000"/>
<rect x="370.4" y="73.5" width="2.68" height="6.7" fill="#a90000"/>
<rect x="370.4" y="80" width="2.68" height="6.7" fill="#a90000"/>
<rect x="370.4" y="86.5" width="2.68" height="6.7" fill="#a90000"/>
<rect x="370.4" y="93" width="2.68" height="6.7" fill="#a90000"/>
<rect x="370.4" y="99.5" width="2.68" height="6.7" fill="#ffd400"/>
<rect x="370.4" y="106" width="2.68" height="6.7" fill="#ffcb00"/>
<rect x="370.4" y="112.5" width="2.68" height="6.7" fill="#ffbb00"/>
<rect x="370.4" y="119" width="2.68" height="6.7" fill="#ffba00"/>
<rect x="372.73" y="21.5" width="2.68" height="6.7" fill="#ffea00"/>
<rect x="372.73" y="28" width="2.68" height="6.7" fill="#ffd200"/>
<rect x="372.73" y="34.5" width="2.68" height="6.7" fill="#ffc500"/>
<rect x="372.73" y="41" width="2.68" height="6.7" fill="#fff500"/>
<rect x="372.73" y="47.5" width="2.68" height="6.7" fill="#ff4900"/>
<rect x="372.73" y="54" width="2.68" height="6.7" fill="#ff4900"/>
<rect x="372.73" y="60.5" width="2.68" height="6.7" fill="#a90000"/>
<rect x="372.73" y="67" width="2.68" height="6.7" fill="#a90000"/>
<rect x="372.73" y="73.5" width="2.68" height="6.7" fill="#a90000"/>
<rect x="372.73" y="80" width="2.68" height="6.7" fill="#a90000"/>
<rect x="372.73" y="86.5" width="2.68" height="6.7" fill="#ff4900"/>
<rect x="372.73" y="93" width="2.68" height="6.7" fill="#ff4900"/>
<rect x="372.73" y="99.5" width="2.68" height="6.7" fill="#fff000"/>
<rect x="372.73" y="106" width="2.68" height="6.7" fill="#ffbc00"/>
<rect x="372.73" y="112.5" width="2.68" height="6.7" fill="#ffbf00"/>
<rect x="372.73" y="119" width="2.68" height="6.7" fill="#ffbf00"/>
<rect x="375.06" y="21.5" width="2.68" height="6.7" fill="#e7ff00"/>
<rect x="375.06" y="28" width="2.68" height="6.7" fill="#c1ff00"/>
<rect x="375.06" y="34.5" width="2.68" height="6.7" fill="#ffb900"/>
<rect x="375.06" y="41" width="2.68" height="6.7" fill="#ffb200"/>
<rect x="375.06" y="47.5" width="2.68" height="6.7" fill="#ff4900"/>
<rect x="375.06" y="54" width="2.68" height="6.7" fill="#ff4900"/>
<rect x="375.06" y="60.5" width="2.68" height="6.7" fill="#ff0000"/>
<rect x="375.06" y="67" width="2.68" height="6.7" fill="#ff0000"/>
<rect x="375.06" y="73.5" width="2.68" height="6.7" fill="#ff0000"/>
<rect x="375.06" y="80" width="2.68" height="6.7" fill="#ff0000"/>
<rect x="375.06" y="86.5" width="2.68" height="6.7" fill="#ff4900"/>
<rect x="375.06" y="93" width="2.68" height="6.7" fill="#ff4900"/>
<rect x="375.06" y="99.5" width="2.68" height="6.7" fill="#e9ff00"/>
<rect x="375.06" y="106" width="2.68" height="6.7" fill="#5fff00"/>
<rect x="375.06" y="112.5" width="2.68" height="6.7" fill="#dbff00"/>
<rect x="375.06" y="119" width="2.68" height="6.7" fill="#a9ff00"/>
<rect x="377.39" y="21.5" width="2.68" height="6.7" fill="#5dff00"/>
<rect x="377.39" y="28" width="2.68" height="6.7" fill="#74ff00"/>
<rect x="377.39" y="34.5" width="2.68" height="6.7" fill="#5fff00"/>
<rect x="377.39" y="41" width="2.68" height="6.7" fill="#50ff00"/>
<rect x="377.39" y="47.5" width="2.68" height="6.7" fill="#ffff00"/>
<rect x="377.39" y="54" width="2.68" height="6.7" fill="#ffff00"/>
<rect x="377.39" y="60.5" width="2.68" height="6.7" fill="#ff0000"/>
<rect x="377.39" y="67" width="2.68" height="6.7" fill="#ff0000"/>
<rect x="377.39" y="73.5" width="2.68" height="6.7" fill="#ff0000"/>
<rect x="377.39" y="80" width="2.68" height="6.7" fill="#ff0000"/>
<rect x="377.39" y="86.5" width="2.68" height="6.7" fill="#ffff00"/>
<rect x="377.39" y="93" width="2.68" height="6.7" fill="#ffff00"/>
<rect x="377.39" y="99.5" width="2.68" height="6.7" fill="#fff500"/>
<rect x="377.39" y="106" width="2.68" height="6.7" fill="#8fff00"/>
<rect x="377.39" y="112.5" width="2.68" height="6.7" fill="#a3ff00"/>
<rect x="377.39" y="119" width="2.68" height="6.7" fill="#e0ff00"/>
<rect x="379.72" y="21.5" width="2.68" height="6.7" fill="#00ff1b"/>
<rect x="379.72" y="28" width="2.68" height="6.7" fill="#00ff3c"/>
<rect x="379.72" y="34.5" width="2.68" height="6.7" fill="#00ff0a"/>
<rect x="379.72" y="41" width="2.68" height="6.7" fill="#54ff00"/>
<rect x="379.72" y="47.5" width="2.68" height="6.7" fill="#57ff00"/>
<rect x="379.72" y="54" width="2.68" height="6.7" fill="#57ff00"/>
<rect x="379.72" y="60.5" width="2.68" height="6.7" fill="#ff0000"/>
<rect x="379.72" y="67" width="2.68" height="6.7" fill="#ff0000"/>
<rect x="379.72" y="73.5" width="2.68" height="6.7" fill="#ff0000"/>
<rect x="379.72" y="80" width="2.68" height="6.7" fill="#ff0000"/>
<rect x="379.72" y="86.5" width="2.68" height="6.7" fill="#57ff00"/>
<rect x="379.72" y="93" width="2.68" height="6.7" fill="#57ff00"/>
<rect x="379.72" y="99.5" width="2.68" height="6.7" fill="#beff00"/>
<rect x="379.72" y="106" width="2.68" height="6.7" fill="#fffa00"/>
<rect x="379.72" y="112.5" width="2.68" height="6.7" fill="#d9ff00"/>
<rect x="379.72" y="119" width="2.68" height="6.7" fill="#f5ff00"/>
<rect x="382.06" y="21.5" width="2.68" height="6.7" fill="#52ff00"/>
<rect x="382.06" y="28" width="2.68" height="6.7" fill="#00ff0d"/>
<rect x="382.06" y="34.5" width="2.68" height="6.7" fill="#00ff0a"/>
<rect x="382.06" y="41" width="2.68" height="6.7" fill="#00ff3c"/>
<rect x="382.06" y="47.5" width="2.68" height="6.7" fill="#57ff00"/>
<rect x="382.06" y="54" width="2.68" height="6.7" fill="#57ff00"/>
<rect x="382.06" y="60.5" width="2.68" height="6.7" fill="#aa0000"/>
<rect x="382.06" y="67" width="2.68" height="6.7" fill="#aa0000"/>
<rect x="382.06" y="73.5" width="2.68" height="6.7" fill="#aa0000"/>
<rect x="382.06" y="80" width="2.68" height="6.7" fill="#aa0000"/>
<rect x="382.06" y="86.5" width="2.68" height="6.7" fill="#57ff00"/>
<rect x="382.06" y="93" width="2.68" height="6.7" fill="#57ff00"/>
<rect x="382.06" y="99.5" width="2.68" height="6.7" fill="#99ff00"/>
<rect x="382.06" y="106" width="2.68" height="6.7" fill="#efff00"/>
<rect x="382.06" y="112.5" width="2.68" height="6.7" fill="#b4ff00"/>
<rect x="382.06" y="119" width="2.68" height="6.7" fill="#a8ff00"/>
<rect x="384.39" y="21.5" width="2.68" height="6.7" fill="#00ff82"/>
<rect x="384.39" y="28" width="2.68" height="6.7" fill="#00ff51"/>
<rect x="384.39" y="34.5" width="2.68" height="6.7" fill="#00ff56"/>
<rect x="384.39" y="41" width="2.68" height="6.7" fill="#00ff54"/>
<rect x="384.39" y="47.5" width="2.68" height="6.7" fill="#57ff00"/>
<rect x="384.39" y="54" width="2.68" height="6.7" fill="#57ff00"/>
<rect x="384.39" y="60.5" width="2.68" height="6.7" fill="#aa0000"/>
<rect x="384.39" y="67" width="2.68" height="6.7" fill="#aa0000"/>
<rect x="384.39" y="73.5" width="2.68" height="6.7" fill="#aa0000"/>
<rect x="384.39" y="80" width="2.68" height="6.7" fill="#aa0000"/>
<rect x="384.39" y="86.5" width="2.68" height="6.7" fill="#57ff00"/>
<rect x="384.39" y="93" width="2.68" height="6.7" fill="#57ff00"/>
<rect x="384.39" y="99.5" width="2.68" height="6.7" fill="#cfff00"/>
<rect x="384.39" y="106" width="2.68" height="6.7" fill="#ccff00"/>
<rect x="384.39" y="112.5" width="2.68" height="6.7" fill="#b0ff00"/>
<rect x="384.39" y="119" width="2.68" height="6.7" fill="#94ff00"/>
<rect x="386.72" y="21.5" width="2.68" height="6.7" fill="#00cdff"/>
<rect x="386.72" y="28" width="2.68" height="6.7" fill="#00fdff"/>
<rect x="386.72" y="34.5" width="2.68" height="6.7" fill="#00e6ff"/>
<rect x="386.72" y="41" width="2.68" height="6.7" fill="#00ffbe"/>
<rect x="386.72" y="47.5" width="2.68" height="6.7" fill="#00ffe8"/>
<rect x="386.72" y="54" width="2.68" height="6.7" fill="#05ff00"/>
<rect x="386.72" y="60.5" width="2.68" height="6.7" fill="#ff8d00"/>
<rect x="386.72" y="67" width="2.68" height="6.7" fill="#ff8d00"/>
<rect x="386.72" y="73.5" width="2.68" height="6.7" fill="#ff8d00"/>
<rect x="386.72" y="80" width="2.68" height="6.7" fill="#ff8d00"/>
<rect x="386.72" y="86.5" width="2.68" height="6.7" fill="#60ff00"/>
<rect x="386.72" y="93" width="2.68" height="6.7" fill="#00ff63"/>
<rect x="386.72" y="99.5" width="2.68" height="6.7" fill="#00ff0d"/>
<rect x="386.72" y="106" width="2.68" height="6.7" fill="#31ff00"/>
<rect x="386.72" y="112.5" width="2.68" height="6.7" fill="#17ff00"/>
<rect x="386.72" y="119" width="2.68" height="6.7" fill="#04ff00"/>
<rect x="389.05" y="21.5" width="2.68" height="6.7" fill="#00f3ff"/>
<rect x="389.05" y="28" width="2.68" height="6.7" fill="#00ffef"/>
<rect x="389.05" y="34.5" width="2.68" height="6.7" fill="#0015ff"/>
<rect x="389.05" y="41" width="2.68" height="6.7" fill="#00efff"/>
<rect x="389.05" y="47.5" width="2.68" height="6.7" fill="#0015ff"/>
<rect x="389.05" y="54" width="2.68" height="6.7" fill="#00fff2"/>
<rect x="389.05" y="60.5" width="2.68" height="6.7" fill="#ff8d00"/>
<rect x="389.05" y="67" width="2.68" height="6.7" fill="#ff8d00"/>
<rect x="389.05" y="73.5" width="2.68" height="6.7" fill="#ff8d00"/>
<rect x="389.05" y="80" width="2.68" height="6.7" fill="#ff8d00"/>
<rect x="389.05" y="86.5" width="2.68" height="6.7" fill="#54ff00"/>
<rect x="389.05" y="93" width="2.68" height="6.7" fill="#00ff06"/>
<rect x="389.05" y="99.5" width="2.68" height="6.7" fill="#00ff56"/>
<rect x="389.05" y="106" width="2.68" height="6.7" fill="#3eff00"/>
<rect x="389.05" y="112.5" width="2.68" height="6.7" fill="#00ff39"/>
<rect x="389.05" y="119" width="2.68" height="6.7" fill="#50ff00"/>
<rect x="391.38" y="21.5" width="2.68" height="6.7" fill="#00ffc8"/>
<rect x="391.38" y="28" width="2.68" height="6.7" fill="#007eff"/>
<rect x="391.38" y="34.5" width="2.68" height="6.7" fill="#00f9ff"/>
<rect x="391.38" y="41" width="2.68" height="6.7" fill="#0015ff"/>
<rect x="391.38" y="47.5" width="2.68" height="6.7" fill="#00ffba"/>
<rect x="391.38" y="54" width="2.68" height="6.7" fill="#35ff00"/>
<rect x="391.38" y="60.5" width="2.68" height="6.7" fill="#01ff00"/>
<rect x="391.38" y="67" width="2.68" height="6.7" fill="#62ff00"/>
<rect x="391.38" y="73.5" width="2.68" height="6.7" fill="#18ff00"/>
<rect x="391.38" y="80" width="2.68" height="6.7" fill="#4cff00"/>
<rect x="391.38" y="86.5" width="2.68" height="6.7" fill="#2bff00"/>
<rect x="391.38" y="93" width="2.68" height="6.7" fill="#49ff00"/>
<rect x="391.38" y="99.5" width="2.68" height="6.7" fill="#00ff0a"/>
<rect x="391.38" y="106" width="2.68" height="6.7" fill="#00ff03"/>
<rect x="391.38" y="112.5" width="2.68" height="6.7" fill="#6eff00"/>
<rect x="391.38" y="119" width="2.68" height="6.7" fill="#5fff00"/>
<rect x="393.71" y="21.5" width="2.68" height="6.7" fill="#00fdff"/>
<rect x="393.71" y="28" width="2.68" height="6.7" fill="#00d5ff"/>
<rect x="393.71" y="34.5" width="2.68" height="6.7" fill="#00a6ff"/>
<rect x="393.71" y="41" width="2.68" height="6.7" fill="#00fff9"/>
<rect x="393.71" y="47.5" width="2.68" height="6.7" fill="#00ff9d"/>
<rect x="393.71" y="54" width="2.68" height="6.7" fill="#00ff2a"/>
<rect x="393.71" y="60.5" width="2.68" height="6.7" fill="#00ff6c"/>
<rect x="393.71" y="67" width="2.68" height="6.7" fill="#00ff1a"/>
<rect x="393.71" y="73.5" width="2.68" height="6.7" fill="#00ff2a"/>
<rect x="393.71" y="80" width="2.68" height="6.7" fill="#11ff00"/>
<rect x="393.71" y="86.5" width="2.68" height="6.7" fill="#00ff0e"/>
<rect x="393.71" y="93" width="2.68" height="6.7" fill="#00ff0a"/>
<rect x="393.71" y="99.5" width="2.68" height="6.7" fill="#14ff00"/>
<rect x="393.71" y="106" width="2.68" height="6.7" fill="#00ff54"/>
<rect x="393.71" y="112.5" width="2.68" height="6.7" fill="#62ff00"/>
<rect x="393.71" y="119" width="2.68" height="6.7" fill="#0eff00"/>
<rect x="396.04" y="21.5" width="2.68" height="6.7" fill="#00ffe6"/>
<rect x="396.04" y="28" width="2.68" height="6.7" fill="#00f9ff"/>
<rect x="396.04" y="34.5" width="2.68" height="6.7" fill="#00c4ff"/>
<rect x="396.04" y="41" width="2.68" height="6.7" fill="#00ffa4"/>
<rect x="396.04" y="47.5" width="2.68" height="6.7" fill="#1dff00"/>
<rect x="396.04" y="54" width="2.68" height="6.7" fill="#00ff4b"/>
<rect x="396.04" y="60.5" width="2.68" height="6.7" fill="#ff8d00"/>
<rect x="396.04" y="67" width="2.68" height="6.7" fill="#ff8d00"/>
<rect x="396.04" y="73.5" width="2.68" height="6.7" fill="#ff8d00"/>
<rect x="396.04" y="80" width="2.68" height="6.7" fill="#ff8d00"/>
<rect x="396.04" y="86.5" width="2.68" height="6.7" fill="#00ff1d"/>
<rect x="396.04" y="93" width="2.68" height="6.7" fill="#00ff49"/>
<rect x="396.04" y="99.5" width="2.68" height="6.7" fill="#3fff00"/>
<rect x="396.04" y="106" width="2.68" height="6.7" fill="#50ff00"/>
<rect x="396.04" y="112.5" width="2.68" height="6.7" fill="#11ff00"/>
<rect x="396.04" y="119" width="2.68" height="6.7" fill="#00ff04"/>
<rect x="398.38" y="21.5" width="2.68" height="6.7" fill="#009cff"/>
<rect x="398.38" y="28" width="2.68" height="6.7" fill="#00e2ff"/>
<rect x="398.38" y="34.5" width="2.68" height="6.7" fill="#00d1ff"/>
<rect x="398.38" y="41" width="2.68" height="6.7" fill="#00ffb5"/>
<rect x="398.38" y="47.5" width="2.68" height="6.7" fill="#00ff46"/>
<rect x="398.38" y="54" width="2.68" height="6.7" fill="#51ff00"/>
<rect x="398.38" y="60.5" width="2.68" height="6.7" fill="#ff8d00"/>
<rect x="398.38" y="67" width="2.68" height="6.7" fill="#ff8d00"/>
<rect x="398.38" y="73.5" width="2.68" height="6.7" fill="#ff8d00"/>
<rect x="398.38" y="80" width="2.68" height="6.7" fill="#ff8d00"/>
<rect x="398.38" y="86.5" width="2.68" height="6.7" fill="#00ff0f"/>
<rect x="398.38" y="93" width="2.68" height="6.7" fill="#5bff00"/>
<rect x="398.38" y="99.5" width="2.68" height="6.7" fill="#00ff6e"/>
<rect x="398.38" y="106" width="2.68" height="6.7" fill="#00ff04"/>
<rect x="398.38" y="112.5" width="2.68" height="6.7" fill="#03ff00"/>
<rect x="398.38" y="119" width="2.68" height="6.7" fill="#13ff00"/>
<rect x="400.71" y="21.5" width="2.68" height="6.7" fill="#00fdff"/>
<rect x="400.71" y="28" width="2.68" height="6.7" fill="#0015ff"/>
<rect x="400.71" y="34.5" width="2.68" height="6.7" fill="#00ffcd"/>
<rect x="400.71" y="41" width="2.68" height="6.7" fill="#00ffb1"/>
<rect x="400.71" y="47.5" width="2.68" height="6.7" fill="#5eff00"/>
<rect x="400.71" y="54" width="2.68" height="6.7" fill="#00ffdd"/>
<rect x="400.71" y="60.5" width="2.68" height="6.7" fill="#47ff00"/>
<rect x="400.71" y="67" width="2.68" height="6.7" fill="#5aff00"/>
<rect x="400.71" y="73.5" width="2.68" height="6.7" fill="#4fff00"/>
<rect x="400.71" y="80" width="2.68" height="6.7" fill="#00ff40"/>
<rect x="400.71" y="86.5" width="2.68" height="6.7" fill="#00ff51"/>
<rect x="400.71" y="93" width="2.68" height="6.7" fill="#65ff00"/>
<rect x="400.71" y="99.5" width="2.68" height="6.7" fill="#00ff41"/>
<rect x="400.71" y="106" width="2.68" height="6.7" fill="#3eff00"/>
<rect x="400.71" y="112.5" width="2.68" height="6.7" fill="#45ff00"/>
<rect x="400.71" y="119" width="2.68" height="6.7" fill="#25ff00"/>
<rect x="403.04" y="21.5" width="2.68" height="6.7" fill="#00d8ff"/>
<rect x="403.04" y="28" width="2.68" height="6.7" fill="#00ffbf"/>
<rect x="403.04" y="34.5" width="2.68" height="6.7" fill="#00d6ff"/>
<rect x="403.04" y="41" width="2.68" height="6.7" fill="#00ffcd"/>
<rect x="403.04" y="47.5" width="2.68" height="6.7" fill="#00ffd3"/>
<rect x="403.04" y="54" width="2.68" height="6.7" fill="#31ff00"/>
<rect x="403.04" y="60.5" width="2.68" height="6.7" fill="#ff0000"/>
<rect x="403.04" y="67" width="2.68" height="6.7" fill="#ff0000"/>
<rect x="403.04" y="73.5" width="2.68" height="6.7" fill="#ff0000"/>
<rect x="403.04" y="80" width="2.68" height="6.7" fill="#ff0000"/>
<rect x="403.04" y="86.5" width="2.68" height="6.7" fill="#54ff00"/>
<rect x="403.04" y="93" width="2.68" height="6.7" fill="#5dff00"/>
<rect x="403.04" y="99.5" width="2.68" height="6.7" fill="#5bff00"/>
<rect x="403.04" y="106" width="2.68" height="6.7" fill="#0cff00"/>
<rect x="403.04" y="112.5" width="2.68" height="6.7" fill="#27ff00"/>
<rect x="403.04" y="119" width="2.68" height="6.7" fill="#4eff00"/>
<rect x="405.37" y="21.5" width="2.68" height="6.7" fill="#00c1ff"/>
<rect x="405.37" y="28" width="2.68" height="6.7" fill="#0015ff"/>
<rect x="405.37" y="34.5" width="2.68" height="6.7" fill="#00e5ff"/>
<rect x="405.37" y="41" width="2.68" height="6.7" fill="#00ffc4"/>
<rect x="405.37" y="47.5" width="2.68" height="6.7" fill="#00ffbb"/>
<rect x="405.37" y="54" width="2.68" height="6.7" fill="#00ff90"/>
<rect x="405.37" y="60.5" width="2.68" height="6.7" fill="#ff0000"/>
<rect x="405.37" y="67" width="2.68" height="6.7" fill="#ff0000"/>
<rect x="405.37" y="73.5" width="2.68" height="6.7" fill="#ff0000"/>
<rect x="405.37" y="80" width="2.68" height="6.7" fill="#ff0000"/>
<rect x="405.37" y="86.5" width="2.68" height="6.7" fill="#00ffde"/>
<rect x="405.37" y="93" width="2.68" height="6.7" fill="#00fff3"/>
<rect x="405.37" y="99.5" width="2.68" height="6.7" fill="#00ffdc"/>
<rect x="405.37" y="106" width="2.68" height="6.7" fill="#00ff5d"/>
<rect x="405.37" y="112.5" width="2.68" height="6.7" fill="#00ff02"/>
<rect x="405.37" y="119" width="2.68" height="6.7" fill="#00ffce"/>
<rect x="407.7" y="21.5" width="2.68" height="6.7" fill="#00bdff"/>
<rect x="407.7" y="28" width="2.68" height="6.7" fill="#0015ff"/>
<rect x="407.7" y="34.5" width="2.68" height="6.7" fill="#00f2ff"/>
<rect x="407.7" y="41" width="2.68" height="6.7" fill="#00fffe"/>
<rect x="407.7" y="47.5" width="2.68" height="6.7" fill="#00ff75"/>
<rect x="407.7" y="54" width="2.68" height="6.7" fill="#00ff05"/>
<rect x="407.7" y="60.5" width="2.68" height="6.7" fill="#ff0000"/>
<rect x="407.7" y="67" width="2.68" height="6.7" fill="#ff0000"/>
<rect x="407.7" y="73.5" width="2.68" height="6.7" fill="#ff0000"/>
<rect x="407.7" y="80" width="2.68" height="6.7" fill="#ff0000"/>
<rect x="407.7" y="86.5" width="2.68" height="6.7" fill="#73ff00"/>
<rect x="407.7" y="93" width="2.68" height="6.7" fill="#2fff00"/>
<rect x="407.7" y="99.5" width="2.68" height="6.7" fill="#6eff00"/>
<rect x="407.7" y="106" width="2.68" height="6.7" fill="#00ff60"/>
<rect x="407.7" y="112.5" width="2.68" height="6.7" fill="#46ff00"/>
<rect x="407.7" y="119" width="2.68" height="6.7" fill="#3eff00"/>
<rect x="410.03" y="21.5" width="2.68" height="6.7" fill="#00eeff"/>
<rect x="410.03" y="28" width="2.68" height="6.7" fill="#00edff"/>
<rect x="410.03" y="34.5" width="2.68" height="6.7" fill="#00caff"/>
<rect x="410.03" y="41" width="2.68" height="6.7" fill="#00fff2"/>
<rect x="410.03" y="47.5" width="2.68" height="6.7" fill="#00ffdb"/>
<rect x="410.03" y="54" width="2.68" height="6.7" fill="#00ff70"/>
<rect x="410.03" y="60.5" width="2.68" height="6.7" fill="#ff0000"/>
<rect x="410.03" y="67" width="2.68" height="6.7" fill="#ff0000"/>
<rect x="410.03" y="73.5" width="2.68" height="6.7" fill="#ff0000"/>
<rect x="410.03" y="80" width="2.68" height="6.7" fill="#ff0000"/>
<rect x="410.03" y="86.5" width="2.68" height="6.7" fill="#33ff00"/>
<rect x="410.03" y="93" width="2.68" height="6.7" fill="#34ff00"/>
<rect x="410.03" y="99.5" width="2.68" height="6.7" fill="#27ff00"/>
<rect x="410.03" y="106" width="2.68" height="6.7" fill="#1dff00"/>
<rect x="410.03" y="112.5" width="2.68" height="6.7" fill="#49ff00"/>
<rect x="410.03" y="119" width="2.68" height="6.7" fill="#1cff00"/>
<rect x="412.36" y="21.5" width="2.68" height="6.7" fill="#00ffe2"/>
<rect x="412.36" y="28" width="2.68" height="6.7" fill="#00edff"/>
<rect x="412.36" y="34.5" width="2.68" height="6.7" fill="#00ffff"/>
<rect x="412.36" y="41" width="2.68" height="6.7" fill="#00fffa"/>
<rect x="412.36" y="47.5" width="2.68" height="6.7" fill="#27ff00"/>
<rect x="412.36" y="54" width="2.68" height="6.7" fill="#11ff00"/>
<rect x="412.36" y="60.5" width="2.68" height="6.7" fill="#ffff00"/>
<rect x="412.36" y="67" width="2.68" height="6.7" fill="#ffff00"/>
<rect x="412.36" y="73.5" width="2.68" height="6.7" fill="#ffff00"/>
<rect x="412.36" y="80" width="2.68" height="6.7" fill="#ffff00"/>
<rect x="412.36" y="86.5" width="2.68" height="6.7" fill="#00ff19"/>
<rect x="412.36" y="93" width="2.68" height="6.7" fill="#10ff00"/>
<rect x="412.36" y="99.5" width="2.68" height="6.7" fill="#3eff00"/>
<rect x="412.36" y="106" width="2.68" height="6.7" fill="#00ff11"/>
<rect x="412.36" y="112.5" width="2.68" height="6.7" fill="#4eff00"/>
<rect x="412.36" y="119" width="2.68" height="6.7" fill="#00ff22"/>
<rect x="414.69" y="21.5" width="2.68" height="6.7" fill="#00fff7"/>
<rect x="414.69" y="28" width="2.68" height="6.7" fill="#00f8ff"/>
<rect x="414.69" y="34.5" width="2.68" height="6.7" fill="#00efff"/>
<rect x="414.69" y="41" width="2.68" height="6.7" fill="#00ffe5"/>
<rect x="414.69" y="47.5" width="2.68" height="6.7" fill="#00ff01"/>
<rect x="414.69" y="54" width="2.68" height="6.7" fill="#52ff00"/>
<rect x="414.69" y="60.5" width="2.68" height="6.7" fill="#01ff00"/>
<rect x="414.69" y="67" width="2.68" height="6.7" fill="#21ff00"/>
<rect x="414.69" y="73.5" width="2.68" height="6.7" fill="#0bff00"/>
<rect x="414.69" y="80" width="2.68" height="6.7" fill="#30ff00"/>
<rect x="414.69" y="86.5" width="2.68" height="6.7" fill="#16ff00"/>
<rect x="414.69" y="93" width="2.68" height="6.7" fill="#63ff00"/>
<rect x="414.69" y="99.5" width="2.68" height="6.7" fill="#18ff00"/>
<rect x="414.69" y="106" width="2.68" height="6.7" fill="#00ffa3"/>
<rect x="414.69" y="112.5" width="2.68" height="6.7" fill="#26ff00"/>
<rect x="414.69" y="119" width="2.68" height="6.7" fill="#00ffd2"/>
<rect x="417.02" y="21.5" width="2.68" height="6.7" fill="#00c9ff"/>
<rect x="417.02" y="28" width="2.68" height="6.7" fill="#00d4ff"/>
<rect x="417.02" y="34.5" width="2.68" height="6.7" fill="#00ccff"/>
<rect x="417.02" y="41" width="2.68" height="6.7" fill="#00ffc7"/>
<rect x="417.02" y="47.5" width="2.68" height="6.7" fill="#00ffa2"/>
<rect x="417.02" y="54" width="2.68" height="6.7" fill="#7eff00"/>
<rect x="417.02" y="60.5" width="2.68" height="6.7" fill="#00ff29"/>
<rect x="417.02" y="67" width="2.68" height="6.7" fill="#08ff00"/>
<rect x="417.02" y="73.5" width="2.68" height="6.7" fill="#41ff00"/>
<rect x="417.02" y="80" width="2.68" height="6.7" fill="#00ffb9"/>
<rect x="417.02" y="86.5" width="2.68" height="6.7" fill="#00ff66"/>
<rect x="417.02" y="93" width="2.68" height="6.7" fill="#39ff00"/>
<rect x="417.02" y="99.5" width="2.68" height="6.7" fill="#08ff00"/>
<rect x="417.02" y="106" width="2.68" height="6.7" fill="#00ffb0"/>
<rect x="417.02" y="112.5" width="2.68" height="6.7" fill="#00ff0e"/>
<rect x="417.02" y="119" width="2.68" height="6.7" fill="#00ff01"/>
<rect x="419.36" y="21.5" width="2.68" height="13.2" fill="#007eff"/>
<rect x="419.36" y="34.5" width="2.68" height="13.2" fill="#00ff9b"/>
<rect x="419.36" y="47.5" width="2.68" height="13.2" fill="#00fff6"/>
<rect x="419.36" y="60.5" width="2.68" height="13.2" fill="#00ffd2"/>
<rect x="419.36" y="73.5" width="2.68" height="13.2" fill="#4dff00"/>
<rect x="419.36" y="86.5" width="2.68" height="13.2" fill="#00ffb9"/>
<rect x="419.36" y="99.5" width="2.68" height="13.2" fill="#00ffd7"/>
<rect x="419.36" y="112.5" width="2.68" height="13.2" fill="#07ff00"/>
<rect x="421.69" y="21.5" width="2.68" height="13.2" fill="#00efff"/>
<rect x="421.69" y="34.5" width="2.68" height="6.7" fill="#00d7ff"/>
<rect x="421.69" y="41" width="2.68" height="13.2" fill="#00fdff"/>
<rect x="421.69" y="54" width="2.68" height="13.2" fill="#00ff89"/>
<rect x="421.69" y="67" width="2.68" height="13.2" fill="#19ff00"/>
<rect x="421.69" y="80" width="2.68" height="13.2" fill="#00ff02"/>
<rect x="421.69" y="93" width="2.68" height="6.7" fill="#1cff00"/>
<rect x="421.69" y="99.5" width="2.68" height="13.2" fill="#52ff00"/>
<rect x="421.69" y="112.5" width="2.68" height="13.2" fill="#47ff00"/>
<rect x="424.02" y="21.5" width="2.68" height="19.7" fill="#00f0ff"/>
<rect x="424.02" y="41" width="2.68" height="19.7" fill="#00ffbb"/>
<rect x="424.02" y="60.5" width="2.68" height="13.2" fill="#03ff00"/>
<rect x="424.02" y="73.5" width="2.68" height="13.2" fill="#00ff51"/>
<rect x="424.02" y="86.5" width="2.68" height="19.7" fill="#47ff00"/>
<rect x="424.02" y="106" width="2.68" height="19.7" fill="#00ff2b"/>
<rect x="426.35" y="21.5" width="2.68" height="6.7" fill="#00f2ff"/>
<rect x="426.35" y="28" width="2.68" height="13.2" fill="#00ffec"/>
<rect x="426.35" y="41" width="2.68" height="13.2" fill="#00ffd4"/>
<rect x="426.35" y="54" width="2.68" height="13.2" fill="#21ff00"/>
<rect x="426.35" y="67" width="2.68" height="13.2" fill="#0cff00"/>
<rect x="426.35" y="80" width="2.68" height="13.2" fill="#00ff23"/>
<rect x="426.35" y="93" width="2.68" height="13.2" fill="#5cff00"/>
<rect x="426.35" y="106" width="2.68" height="13.2" fill="#00ff36"/>
<rect x="426.35" y="119" width="2.68" height="6.7" fill="#00ff12"/>
<rect x="428.68" y="21.5" width="2.68" height="13.2" fill="#00ffdc"/>
<rect x="428.68" y="34.5" width="2.68" height="13.2" fill="#00ff9f"/>
<rect x="428.68" y="47.5" width="2.68" height="13.2" fill="#00ff1d"/>
<rect x="428.68" y="60.5" width="2.68" height="13.2" fill="#53ff00"/>
<rect x="428.68" y="73.5" width="2.68" height="19.7" fill="#00ff03"/>
<rect x="428.68" y="93" width="2.68" height="13.2" fill="#43ff00"/>
<rect x="428.68" y="106" width="2.68" height="19.7" fill="#00ff5d"/>
<rect x="431.01" y="21.5" width="2.68" height="19.7" fill="#0015ff"/>
<rect x="431.01" y="41" width="2.68" height="13.2" fill="#00ffbd"/>
<rect x="431.01" y="54" width="2.68" height="19.7" fill="#00ff27"/>
<rect x="431.01" y="73.5" width="2.68" height="6.7" fill="#00ffd8"/>
<rect x="431.01" y="80" width="2.68" height="13.2" fill="#08ff00"/>
<rect x="431.01" y="93" width="2.68" height="13.2" fill="#00ff4c"/>
<rect x="431.01" y="106" width="2.68" height="19.7" fill="#00ff3a"/>
<rect x="433.34" y="21.5" width="2.68" height="13.2" fill="#5a00b4"/>
<rect x="433.34" y="34.5" width="2.68" height="19.7" fill="#06ff00"/>
<rect x="433.34" y="54" width="2.68" height="19.7" fill="#0dff00"/>
<rect x="433.34" y="73.5" width="2.68" height="19.7" fill="#00ff01"/>
<rect x="433.34" y="93" width="2.68" height="13.2" fill="#57ff00"/>
<rect x="433.34" y="106" width="2.68" height="13.2" fill="#00ff55"/>
<rect x="433.34" y="119" width="2.68" height="6.7" fill="#00ff02"/>
<rect x="435.67" y="21.5" width="2.68" height="13.2" fill="#0015ff"/>
<rect x="435.67" y="34.5" width="2.68" height="13.2" fill="#00ffc9"/>
<rect x="435.67" y="47.5" width="2.68" height="6.7" fill="#00ffe0"/>
<rect x="435.67" y="54" width="2.68" height="13.2" fill="#68ff00"/>
<rect x="435.67" y="67" width="2.68" height="19.7" fill="#37ff00"/>
<rect x="435.67" y="86.5" width="2.68" height="6.7" fill="#00ff0d"/>
<rect x="435.67" y="93" width="2.68" height="13.2" fill="#3eff00"/>
<rect x="435.67" y="106" width="2.68" height="13.2" fill="#47ff00"/>
<rect x="435.67" y="119" width="2.68" height="6.7" fill="#53ff00"/>
<rect x="438.01" y="21.5" width="2.68" height="19.7" fill="#0015ff"/>
<rect x="438.01" y="41" width="2.68" height="19.7" fill="#00ffe0"/>
<rect x="438.01" y="60.5" width="2.68" height="19.7" fill="#00ff09"/>
<rect x="438.01" y="80" width="2.68" height="6.7" fill="#3dff00"/>
<rect x="438.01" y="86.5" width="2.68" height="19.7" fill="#67ff00"/>
<rect x="438.01" y="106" width="2.68" height="13.2" fill="#00ffcc"/>
<rect x="438.01" y="119" width="2.68" height="6.7" fill="#00ff08"/>
<rect x="440.34" y="21.5" width="2.68" height="13.2" fill="#00d8ff"/>
<rect x="440.34" y="34.5" width="2.68" height="19.7" fill="#00ffd5"/>
<rect x="440.34" y="54" width="2.68" height="19.7" fill="#00ff20"/>
<rect x="440.34" y="73.5" width="2.68" height="19.7" fill="#00ff03"/>
<rect x="440.34" y="93" width="2.68" height="13.2" fill="#23ff00"/>
<rect x="440.34" y="106" width="2.68" height="19.7" fill="#4cff00"/>
<rect x="442.67" y="21.5" width="2.68" height="13.2" fill="#00d4ff"/>
<rect x="442.67" y="34.5" width="2.68" height="19.7" fill="#00b9ff"/>
<rect x="442.67" y="54" width="2.68" height="19.7" fill="#00ff09"/>
<rect x="442.67" y="73.5" width="2.68" height="13.2" fill="#4bff00"/>
<rect x="442.67" y="86.5" width="2.68" height="19.7" fill="#07ff00"/>
<rect x="442.67" y="106" width="2.68" height="13.2" fill="#00ff0b"/>
<rect x="442.67" y="119" width="2.68" height="6.7" fill="#0aff00"/>
<rect x="445" y="21.5" width="2.68" height="19.7" fill="#00d4ff"/>
<rect x="445" y="41" width="2.68" height="13.2" fill="#00ddff"/>
<rect x="445" y="54" width="2.68" height="13.2" fill="#00ff8d"/>
<rect x="445" y="67" width="2.68" height="13.2" fill="#75ff00"/>
<rect x="445" y="80" width="2.68" height="13.2" fill="#00ffa1"/>
<rect x="445" y="93" width="2.68" height="6.7" fill="#00ff07"/>
<rect x="445" y="99.5" width="2.68" height="13.2" fill="#00ff8b"/>
<rect x="445" y="112.5" width="2.68" height="13.2" fill="#00ffd9"/>
<rect x="447.33" y="21.5" width="2.68" height="13.2" fill="#0045ff"/>
<rect x="447.33" y="34.5" width="2.68" height="6.7" fill="#5a00b4"/>
<rect x="447.33" y="41" width="2.68" height="19.7" fill="#00b8ff"/>
<rect x="447.33" y="60.5" width="2.68" height="19.7" fill="#35ff00"/>
<rect x="447.33" y="80" width="2.68" height="19.7" fill="#00ff38"/>
<rect x="447.33" y="99.5" width="2.68" height="13.2" fill="#00ff03"/>
<rect x="447.33" y="112.5" width="2.68" height="13.2" fill="#0cff00"/>
<rect x="449.66" y="21.5" width="2.68" height="13.2" fill="#00fff2"/>
<rect x="449.66" y="34.5" width="2.68" height="13.2" fill="#00fff3"/>
<rect x="449.66" y="47.5" width="2.68" height="13.2" fill="#00ff3d"/>
<rect x="449.66" y="60.5" width="2.68" height="13.2" fill="#21ff00"/>
<rect x="449.66" y="73.5" width="2.68" height="13.2" fill="#55ff00"/>
<rect x="449.66" y="86.5" width="2.68" height="19.7" fill="#0fff00"/>
<rect x="449.66" y="106" width="2.68" height="13.2" fill="#00ff0f"/>
<rect x="449.66" y="119" width="2.68" height="6.7" fill="#00ff18"/>
<rect x="451.99" y="21.5" width="2.68" height="13.2" fill="#0015ff"/>
<rect x="451.99" y="34.5" width="2.68" height="13.2" fill="#00ffb2"/>
<rect x="451.99" y="47.5" width="2.68" height="13.2" fill="#00ffb7"/>
<rect x="451.99" y="60.5" width="2.68" height="6.7" fill="#0eff00"/>
<rect x="451.99" y="67" width="2.68" height="13.2" fill="#1eff00"/>
<rect x="451.99" y="80" width="2.68" height="13.2" fill="#00ff05"/>
<rect x="451.99" y="93" width="2.68" height="6.7" fill="#48ff00"/>
<rect x="451.99" y="99.5" width="2.68" height="13.2" fill="#5fff00"/>
<rect x="451.99" y="112.5" width="2.68" height="13.2" fill="#35ff00"/>
<rect x="454.32" y="21.5" width="2.68" height="13.2" fill="#0015ff"/>
<rect x="454.32" y="34.5" width="2.68" height="13.2" fill="#00ffaf"/>
<rect x="454.32" y="47.5" width="2.68" height="6.7" fill="#00ffb5"/>
<rect x="454.32" y="54" width="2.68" height="19.7" fill="#20ff00"/>
<rect x="454.32" y="73.5" width="2.68" height="6.7" fill="#17ff00"/>
<rect x="454.32" y="80" width="2.68" height="19.7" fill="#45ff00"/>
<rect x="454.32" y="99.5" width="2.68" height="13.2" fill="#00ff57"/>
<rect x="454.32" y="112.5" width="2.68" height="6.7" fill="#00ff59"/>
<rect x="454.32" y="119" width="2.68" height="6.7" fill="#05ff00"/>
<rect x="456.66" y="21.5" width="2.68" height="13.2" fill="#00c0ff"/>
<rect x="456.66" y="34.5" width="2.68" height="13.2" fill="#00ffcb"/>
<rect x="456.66" y="47.5" width="2.68" height="13.2" fill="#00ffb8"/>
<rect x="456.66" y="60.5" width="2.68" height="6.7" fill="#33ff00"/>
<rect x="456.66" y="67" width="2.68" height="6.7" fill="#0bff00"/>
<rect x="456.66" y="73.5" width="2.68" height="13.2" fill="#00ff34"/>
<rect x="456.66" y="86.5" width="2.68" height="13.2" fill="#14ff00"/>
<rect x="456.66" y="99.5" width="2.68" height="13.2" fill="#00ff2a"/>
<rect x="456.66" y="112.5" width="2.68" height="6.7" fill="#00ff08"/>
<rect x="456.66" y="119" width="2.68" height="6.7" fill="#4eff00"/>
<rect x="458.99" y="21.5" width="2.68" height="13.2" fill="#00ffe1"/>
<rect x="458.99" y="34.5" width="2.68" height="13.2" fill="#00fdff"/>
<rect x="458.99" y="47.5" width="2.68" height="13.2" fill="#00ff97"/>
<rect x="458.99" y="60.5" width="2.68" height="13.2" fill="#00ff1a"/>
<rect x="458.99" y="73.5" width="2.68" height="13.2" fill="#0dff00"/>
<rect x="458.99" y="86.5" width="2.68" height="13.2" fill="#13ff00"/>
<rect x="458.99" y="99.5" width="2.68" height="13.2" fill="#59ff00"/>
<rect x="458.99" y="112.5" width="2.68" height="13.2" fill="#1bff00"/>
<rect x="461.32" y="21.5" width="2.68" height="6.7" fill="#0086ff"/>
<rect x="461.32" y="28" width="2.68" height="19.7" fill="#00ffab"/>
<rect x="461.32" y="47.5" width="2.68" height="6.7" fill="#36ff00"/>
<rect x="461.32" y="54" width="2.68" height="19.7" fill="#46ff00"/>
<rect x="461.32" y="73.5" width="2.68" height="6.7" fill="#19ff00"/>
<rect x="461.32" y="80" width="2.68" height="13.2" fill="#03ff00"/>
<rect x="461.32" y="93" width="2.68" height="6.7" fill="#2dff00"/>
<rect x="461.32" y="99.5" width="2.68" height="13.2" fill="#00ff0e"/>
<rect x="461.32" y="112.5" width="2.68" height="13.2" fill="#06ff00"/>
<rect x="463.65" y="21.5" width="2.68" height="19.7" fill="#00b9ff"/>
<rect x="463.65" y="41" width="2.68" height="13.2" fill="#00ffd9"/>
<rect x="463.65" y="54" width="2.68" height="13.2" fill="#5bff00"/>
<rect x="463.65" y="67" width="2.68" height="19.7" fill="#00ff1d"/>
<rect x="463.65" y="86.5" width="2.68" height="19.7" fill="#00ffdc"/>
<rect x="463.65" y="106" width="2.68" height="19.7" fill="#00ffe4"/>
<rect x="465.98" y="21.5" width="2.68" height="13.2" fill="#00efff"/>
<rect x="465.98" y="34.5" width="2.68" height="13.2" fill="#00ecff"/>
<rect x="465.98" y="47.5" width="2.68" height="6.7" fill="#00ffc1"/>
<rect x="465.98" y="54" width="2.68" height="19.7" fill="#2bff00"/>
<rect x="465.98" y="73.5" width="2.68" height="13.2" fill="#07ff00"/>
<rect x="465.98" y="86.5" width="2.68" height="13.2" fill="#00ff16"/>
<rect x="465.98" y="99.5" width="2.68" height="13.2" fill="#00ff5a"/>
<rect x="465.98" y="112.5" width="2.68" height="13.2" fill="#00ff21"/>
<rect x="468.31" y="21.5" width="2.68" height="6.7" fill="#0015ff"/>
<rect x="468.31" y="28" width="2.68" height="6.7" fill="#00d7ff"/>
<rect x="468.31" y="34.5" width="2.68" height="19.7" fill="#00ff97"/>
<rect x="468.31" y="54" width="2.68" height="13.2" fill="#1aff00"/>
<rect x="468.31" y="67" width="2.68" height="6.7" fill="#4aff00"/>
<rect x="468.31" y="73.5" width="2.68" height="13.2" fill="#13ff00"/>
<rect x="468.31" y="86.5" width="2.68" height="13.2" fill="#06ff00"/>
<rect x="468.31" y="99.5" width="2.68" height="19.7" fill="#00ff37"/>
<rect x="468.31" y="119" width="2.68" height="6.7" fill="#1fff00"/>
<rect x="470.64" y="21.5" width="2.68" height="13.2" fill="#0015ff"/>
<rect x="470.64" y="34.5" width="2.68" height="13.2" fill="#00fffc"/>
<rect x="470.64" y="47.5" width="2.68" height="13.2" fill="#00ffdf"/>
<rect x="470.64" y="60.5" width="2.68" height="19.7" fill="#03ff00"/>
<rect x="470.64" y="80" width="2.68" height="19.7" fill="#00ff01"/>
<rect x="470.64" y="99.5" width="2.68" height="13.2" fill="#00ffac"/>
<rect x="470.64" y="112.5" width="2.68" height="13.2" fill="#09ff00"/>
<rect x="472.97" y="21.5" width="2.68" height="6.7" fill="#00b4ff"/>
<rect x="472.97" y="28" width="2.68" height="13.2" fill="#00e2ff"/>
<rect x="472.97" y="41" width="2.68" height="13.2" fill="#71ff00"/>
<rect x="472.97" y="54" width="2.68" height="13.2" fill="#00ff02"/>
<rect x="472.97" y="67" width="2.68" height="13.2" fill="#59ff00"/>
<rect x="472.97" y="80" width="2.68" height="13.2" fill="#1fff00"/>
<rect x="472.97" y="93" width="2.68" height="13.2" fill="#00ff09"/>
<rect x="472.97" y="106" width="2.68" height="13.2" fill="#11ff00"/>
<rect x="472.97" y="119" width="2.68" height="6.7" fill="#04ff00"/>
<rect x="475.31" y="21.5" width="2.68" height="13.2" fill="#00ffdb"/>
<rect x="475.31" y="34.5" width="2.68" height="13.2" fill="#00fff3"/>
<rect x="475.31" y="47.5" width="2.68" height="13.2" fill="#00ff56"/>
<rect x="475.31" y="60.5" width="2.68" height="19.7" fill="#01ff00"/>
<rect x="475.31" y="80" width="2.68" height="19.7" fill="#18ff00"/>
<rect x="475.31" y="99.5" width="2.68" height="13.2" fill="#00ffd6"/>
<rect x="475.31" y="112.5" width="2.68" height="6.7" fill="#13ff00"/>
<rect x="475.31" y="119" width="2.68" height="6.7" fill="#19ff00"/>
<rect x="477.64" y="21.5" width="2.68" height="13.2" fill="#00ffe9"/>
<rect x="477.64" y="34.5" width="2.68" height="13.2" fill="#00eeff"/>
<rect x="477.64" y="47.5" width="2.68" height="6.7" fill="#00ffa3"/>
<rect x="477.64" y="54" width="2.68" height="13.2" fill="#4fff00"/>
<rect x="477.64" y="67" width="2.68" height="6.7" fill="#16ff00"/>
<rect x="477.64" y="73.5" width="2.68" height="13.2" fill="#02ff00"/>
<rect x="477.64" y="86.5" width="2.68" height="6.7" fill="#16ff00"/>
<rect x="477.64" y="93" width="2.68" height="19.7" fill="#68ff00"/>
<rect x="477.64" y="112.5" width="2.68" height="13.2" fill="#00ff62"/>
<rect x="479.97" y="21.5" width="2.68" height="19.7" fill="#00ffdd"/>
<rect x="479.97" y="41" width="2.68" height="13.2" fill="#00ffce"/>
<rect x="479.97" y="54" width="2.68" height="6.7" fill="#1fff00"/>
<rect x="479.97" y="60.5" width="2.68" height="6.7" fill="#12ff00"/>
<rect x="479.97" y="67" width="2.68" height="6.7" fill="#00ff07"/>
<rect x="479.97" y="73.5" width="2.68" height="13.2" fill="#1dff00"/>
<rect x="479.97" y="86.5" width="2.68" height="19.7" fill="#00ff09"/>
<rect x="479.97" y="106" width="2.68" height="6.7" fill="#00ff0d"/>
<rect x="479.97" y="112.5" width="2.68" height="13.2" fill="#00ff64"/>
<rect x="482.3" y="21.5" width="2.68" height="13.2" fill="#00f6ff"/>
<rect x="482.3" y="34.5" width="2.68" height="13.2" fill="#5a00b4"/>
<rect x="482.3" y="47.5" width="2.68" height="6.7" fill="#00ffe4"/>
<rect x="482.3" y="54" width="2.68" height="13.2" fill="#18ff00"/>
<rect x="482.3" y="67" width="2.68" height="6.7" fill="#00ff09"/>
<rect x="482.3" y="73.5" width="2.68" height="19.7" fill="#25ff00"/>
<rect x="482.3" y="93" width="2.68" height="13.2" fill="#67ff00"/>
<rect x="482.3" y="106" width="2.68" height="13.2" fill="#33ff00"/>
<rect x="482.3" y="119" width="2.68" height="6.7" fill="#47ff00"/>
<rect x="484.63" y="21.5" width="2.68" height="19.7" fill="#0097ff"/>
<rect x="484.63" y="41" width="2.68" height="19.7" fill="#00ffbb"/>
<rect x="484.63" y="60.5" width="2.68" height="6.7" fill="#41ff00"/>
<rect x="484.63" y="67" width="2.68" height="13.2" fill="#00ff1d"/>
<rect x="484.63" y="80" width="2.68" height="6.7" fill="#00ff0b"/>
<rect x="484.63" y="86.5" width="2.68" height="13.2" fill="#00ff6e"/>
<rect x="484.63" y="99.5" width="2.68" height="19.7" fill="#13ff00"/>
<rect x="484.63" y="119" width="2.68" height="6.7" fill="#00ff0a"/>
<rect x="486.96" y="21.5" width="2.68" height="13.2" fill="#00daff"/>
<rect x="486.96" y="34.5" width="2.68" height="13.2" fill="#00ffc1"/>
<rect x="486.96" y="47.5" width="2.68" height="13.2" fill="#53ff00"/>
<rect x="486.96" y="60.5" width="2.68" height="13.2" fill="#17ff00"/>
<rect x="486.96" y="73.5" width="2.68" height="13.2" fill="#05ff00"/>
<rect x="486.96" y="86.5" width="2.68" height="6.7" fill="#55ff00"/>
<rect x="486.96" y="93" width="2.68" height="6.7" fill="#45ff00"/>
<rect x="486.96" y="99.5" width="2.68" height="13.2" fill="#87ff00"/>
<rect x="486.96" y="112.5" width="2.68" height="13.2" fill="#35ff00"/>
<rect x="489.29" y="21.5" width="2.68" height="13.2" fill="#0015ff"/>
<rect x="489.29" y="34.5" width="2.68" height="6.7" fill="#00f0ff"/>
<rect x="489.29" y="41" width="2.68" height="13.2" fill="#00ffa1"/>
<rect x="489.29" y="54" width="2.68" height="13.2" fill="#4fff00"/>
<rect x="489.29" y="67" width="2.68" height="19.7" fill="#00ffb0"/>
<rect x="489.29" y="86.5" width="2.68" height="13.2" fill="#00ff4a"/>
<rect x="489.29" y="99.5" width="2.68" height="13.2" fill="#09ff00"/>
<rect x="489.29" y="112.5" width="2.68" height="6.7" fill="#70ff00"/>
<rect x="489.29" y="119" width="2.68" height="6.7" fill="#5dff00"/>
<rect x="491.62" y="21.5" width="2.68" height="13.2" fill="#0015ff"/>
<rect x="491.62" y="34.5" width="2.68" height="13.2" fill="#00f0ff"/>
<rect x="491.62" y="47.5" width="2.68" height="6.7" fill="#00f7ff"/>
<rect x="491.62" y="54" width="2.68" height="19.7" fill="#32ff00"/>
<rect x="491.62" y="73.5" width="2.68" height="13.2" fill="#17ff00"/>
<rect x="491.62" y="86.5" width="2.68" height="13.2" fill="#00ffd5"/>
<rect x="491.62" y="99.5" width="2.68" height="13.2" fill="#10ff00"/>
<rect x="491.62" y="112.5" width="2.68" height="13.2" fill="#3eff00"/>
<rect x="493.96" y="21.5" width="2.68" height="19.7" fill="#00f5ff"/>
<rect x="493.96" y="41" width="2.68" height="19.7" fill="#00ffbe"/>
<rect x="493.96" y="60.5" width="2.68" height="13.2" fill="#36ff00"/>
<rect x="493.96" y="73.5" width="2.68" height="13.2" fill="#59ff00"/>
<rect x="493.96" y="86.5" width="2.68" height="6.7" fill="#00ff08"/>
<rect x="493.96" y="93" width="2.68" height="6.7" fill="#28ff00"/>
<rect x="493.96" y="99.5" width="2.68" height="13.2" fill="#11ff00"/>
<rect x="493.96" y="112.5" width="2.68" height="6.7" fill="#4cff00"/>
<rect x="493.96" y="119" width="2.68" height="6.7" fill="#44ff00"/>
<rect x="496.29" y="21.5" width="2.68" height="6.7" fill="#00deff"/>
<rect x="496.29" y="28" width="2.68" height="19.7" fill="#0015ff"/>
<rect x="496.29" y="47.5" width="2.68" height="19.7" fill="#00ff62"/>
<rect x="496.29" y="67" width="2.68" height="13.2" fill="#0dff00"/>
<rect x="496.29" y="80" width="2.68" height="13.2" fill="#14ff00"/>
<rect x="496.29" y="93" width="2.68" height="13.2" fill="#00ff11"/>
<rect x="496.29" y="106" width="2.68" height="13.2" fill="#50ff00"/>
<rect x="496.29" y="119" width="2.68" height="6.7" fill="#50ff00"/>
<rect x="498.62" y="21.5" width="2.68" height="13.2" fill="#00e8ff"/>
<rect x="498.62" y="34.5" width="2.68" height="13.2" fill="#00ceff"/>
<rect x="498.62" y="47.5" width="2.68" height="13.2" fill="#00ffbb"/>
<rect x="498.62" y="60.5" width="2.68" height="19.7" fill="#00ff18"/>
<rect x="498.62" y="80" width="2.68" height="13.2" fill="#00ff45"/>
<rect x="498.62" y="93" width="2.68" height="13.2" fill="#00ff4c"/>
<rect x="498.62" y="106" width="2.68" height="6.7" fill="#00ff09"/>
<rect x="498.62" y="112.5" width="2.68" height="13.2" fill="#19ff00"/>
<rect x="500.95" y="21.5" width="2.68" height="13.2" fill="#0015ff"/>
<rect x="500.95" y="34.5" width="2.68" height="13.2" fill="#00ffb6"/>
<rect x="500.95" y="47.5" width="2.68" height="13.2" fill="#5bff00"/>
<rect x="500.95" y="60.5" width="2.68" height="19.7" fill="#00ff03"/>
<rect x="500.95" y="80" width="2.68" height="6.7" fill="#53ff00"/>
<rect x="500.95" y="86.5" width="2.68" height="13.2" fill="#06ff00"/>
<rect x="500.95" y="99.5" width="2.68" height="6.7" fill="#0aff00"/>
<rect x="500.95" y="106" width="2.68" height="13.2" fill="#06ff00"/>
<rect x="500.95" y="119" width="2.68" height="6.7" fill="#00ff52"/>
<rect x="503.28" y="21.5" width="2.68" height="19.7" fill="#00ffc3"/>
<rect x="503.28" y="41" width="2.68" height="13.2" fill="#00ffcf"/>
<rect x="503.28" y="54" width="2.68" height="13.2" fill="#09ff00"/>
<rect x="503.28" y="67" width="2.68" height="13.2" fill="#5eff00"/>
<rect x="503.28" y="80" width="2.68" height="13.2" fill="#0aff00"/>
<rect x="503.28" y="93" width="2.68" height="19.7" fill="#50ff00"/>
<rect x="503.28" y="112.5" width="2.68" height="6.7" fill="#61ff00"/>
<rect x="503.28" y="119" width="2.68" height="6.7" fill="#10ff00"/>
<rect x="505.61" y="21.5" width="2.68" height="13.2" fill="#0082ff"/>
<rect x="505.61" y="34.5" width="2.68" height="13.2" fill="#00ffed"/>
<rect x="505.61" y="47.5" width="2.68" height="13.2" fill="#00d8ff"/>
<rect x="505.61" y="60.5" width="2.68" height="6.7" fill="#20ff00"/>
<rect x="505.61" y="67" width="2.68" height="13.2" fill="#00ff06"/>
<rect x="505.61" y="80" width="2.68" height="13.2" fill="#04ff00"/>
<rect x="505.61" y="93" width="2.68" height="19.7" fill="#0cff00"/>
<rect x="505.61" y="112.5" width="2.68" height="13.2" fill="#64ff00"/>
<rect x="507.94" y="21.5" width="2.68" height="19.7" fill="#00ebff"/>
<rect x="507.94" y="41" width="2.68" height="13.2" fill="#00ffae"/>
<rect x="507.94" y="54" width="2.68" height="19.7" fill="#20ff00"/>
<rect x="507.94" y="73.5" width="2.68" height="13.2" fill="#48ff00"/>
<rect x="507.94" y="86.5" width="2.68" height="6.7" fill="#0fff00"/>
<rect x="507.94" y="93" width="2.68" height="13.2" fill="#74ff00"/>
<rect x="507.94" y="106" width="2.68" height="13.2" fill="#16ff00"/>
<rect x="507.94" y="119" width="2.68" height="6.7" fill="#60ff00"/>
<rect x="510.27" y="21.5" width="2.68" height="13.2" fill="#5a00b4"/>
<rect x="510.27" y="34.5" width="2.68" height="19.7" fill="#00e1ff"/>
<rect x="510.27" y="54" width="2.68" height="13.2" fill="#00ff02"/>
<rect x="510.27" y="67" width="2.68" height="13.2" fill="#00ff15"/>
<rect x="510.27" y="80" width="2.68" height="13.2" fill="#01ff00"/>
<rect x="510.27" y="93" width="2.68" height="13.2" fill="#00ff7a"/>
<rect x="510.27" y="106" width="2.68" height="13.2" fill="#0aff00"/>
<rect x="510.27" y="119" width="2.68" height="6.7" fill="#13ff00"/>
<rect x="512.61" y="21.5" width="2.68" height="6.7" fill="#00dfff"/>
<rect x="512.61" y="28" width="2.68" height="13.2" fill="#00d0ff"/>
<rect x="512.61" y="41" width="2.68" height="19.7" fill="#00ceff"/>
<rect x="512.61" y="60.5" width="2.68" height="13.2" fill="#5bff00"/>
<rect x="512.61" y="73.5" width="2.68" height="13.2" fill="#00ff06"/>
<rect x="512.61" y="86.5" width="2.68" height="19.7" fill="#00ff06"/>
<rect x="512.61" y="106" width="2.68" height="6.7" fill="#00ff1b"/>
<rect x="512.61" y="112.5" width="2.68" height="13.2" fill="#27ff00"/>
<rect x="514.94" y="21.5" width="2.68" height="6.7" fill="#00fff9"/>
<rect x="514.94" y="28" width="2.68" height="13.2" fill="#00e4ff"/>
<rect x="514.94" y="41" width="2.68" height="19.7" fill="#00ffd9"/>
<rect x="514.94" y="60.5" width="2.68" height="13.2" fill="#00ff0b"/>
<rect x="514.94" y="73.5" width="2.68" height="13.2" fill="#50ff00"/>
<rect x="514.94" y="86.5" width="2.68" height="13.2" fill="#00ff50"/>
<rect x="514.94" y="99.5" width="2.68" height="13.2" fill="#57ff00"/>
<rect x="514.94" y="112.5" width="2.68" height="13.2" fill="#3dff00"/>
<rect x="517.27" y="21.5" width="2.68" height="6.7" fill="#0015ff"/>
<rect x="517.27" y="28" width="2.68" height="13.2" fill="#00a9ff"/>
<rect x="517.27" y="41" width="2.68" height="13.2" fill="#00d7ff"/>
<rect x="517.27" y="54" width="2.68" height="6.7" fill="#00ffa9"/>
<rect x="517.27" y="60.5" width="2.68" height="13.2" fill="#33ff00"/>
<rect x="517.27" y="73.5" width="2.68" height="13.2" fill="#10ff00"/>
<rect x="517.27" y="86.5" width="2.68" height="19.7" fill="#40ff00"/>
<rect x="517.27" y="106" width="2.68" height="13.2" fill="#1bff00"/>
<rect x="517.27" y="119" width="2.68" height="6.7" fill="#00ff3d"/>
<rect x="519.6" y="21.5" width="2.68" height="19.7" fill="#00e5ff"/>
<rect x="519.6" y="41" width="2.68" height="19.7" fill="#00ff02"/>
<rect x="519.6" y="60.5" width="2.68" height="13.2" fill="#00ff12"/>
<rect x="519.6" y="73.5" width="2.68" height="19.7" fill="#00ffa8"/>
<rect x="519.6" y="93" width="2.68" height="13.2" fill="#0fff00"/>
<rect x="519.6" y="106" width="2.68" height="13.2" fill="#00ffce"/>
<rect x="519.6" y="119" width="2.68" height="6.7" fill="#00ffb5"/>
<rect x="521.93" y="21.5" width="2.68" height="6.7" fill="#00ffea"/>
<rect x="521.93" y="28" width="2.68" height="13.2" fill="#00c8ff"/>
<rect x="521.93" y="41" width="2.68" height="6.7" fill="#00ffd9"/>
<rect x="521.93" y="47.5" width="2.68" height="13.2" fill="#00f4ff"/>
<rect x="521.93" y="60.5" width="2.68" height="13.2" fill="#42ff00"/>
<rect x="521.93" y="73.5" width="2.68" height="19.7" fill="#4eff00"/>
<rect x="521.93" y="93" width="2.68" height="13.2" fill="#00ff09"/>
<rect x="521.93" y="106" width="2.68" height="13.2" fill="#00ff60"/>
<rect x="521.93" y="119" width="2.68" height="6.7" fill="#3fff00"/>
<rect x="524.26" y="21.5" width="2.68" height="13.2" fill="#00fff1"/>
<rect x="524.26" y="34.5" width="2.68" height="6.7" fill="#0015ff"/>
<rect x="524.26" y="41" width="2.68" height="6.7" fill="#00ffc1"/>
<rect x="524.26" y="47.5" width="2.68" height="13.2" fill="#2aff00"/>
<rect x="524.26" y="60.5" width="2.68" height="13.2" fill="#00ff03"/>
<rect x="524.26" y="73.5" width="2.68" height="13.2" fill="#02ff00"/>
<rect x="524.26" y="86.5" width="2.68" height="6.7" fill="#00ff26"/>
<rect x="524.26" y="93" width="2.68" height="13.2" fill="#00ff1b"/>
<rect x="524.26" y="106" width="2.68" height="19.7" fill="#4aff00"/>
<rect x="526.59" y="21.5" width="2.68" height="13.2" fill="#00f4ff"/>
<rect x="526.59" y="34.5" width="2.68" height="13.2" fill="#00ffba"/>
<rect x="526.59" y="47.5" width="2.68" height="6.7" fill="#0aff00"/>
<rect x="526.59" y="54" width="2.68" height="13.2" fill="#00ff0a"/>
<rect x="526.59" y="67" width="2.68" height="13.2" fill="#0aff00"/>
<rect x="526.59" y="80" width="2.68" height="13.2" fill="#09ff00"/>
<rect x="526.59" y="93" width="2.68" height="13.2" fill="#00ffda"/>
<rect x="526.59" y="106" width="2.68" height="19.7" fill="#14ff00"/>
<rect x="528.92" y="21.5" width="2.68" height="6.7" fill="#00ffbe"/>
<rect x="528.92" y="28" width="2.68" height="13.2" fill="#00ffe7"/>
<rect x="528.92" y="41" width="2.68" height="19.7" fill="#00ffda"/>
<rect x="528.92" y="60.5" width="2.68" height="6.7" fill="#00ff3c"/>
<rect x="528.92" y="67" width="2.68" height="13.2" fill="#00ffcd"/>
<rect x="528.92" y="80" width="2.68" height="13.2" fill="#44ff00"/>
<rect x="528.92" y="93" width="2.68" height="13.2" fill="#00ffa7"/>
<rect x="528.92" y="106" width="2.68" height="13.2" fill="#00ff06"/>
<rect x="528.92" y="119" width="2.68" height="6.7" fill="#00ff26"/>
<rect x="531.26" y="21.5" width="2.68" height="19.7" fill="#00eaff"/>
<rect x="531.26" y="41" width="2.68" height="13.2" fill="#00ff68"/>
<rect x="531.26" y="54" width="2.68" height="13.2" fill="#00ffc5"/>
<rect x="531.26" y="67" width="2.68" height="13.2" fill="#00ff04"/>
<rect x="531.26" y="80" width="2.68" height="19.7" fill="#27ff00"/>
<rect x="531.26" y="99.5" width="2.68" height="6.7" fill="#18ff00"/>
<rect x="531.26" y="106" width="2.68" height="13.2" fill="#00ff0a"/>
<rect x="531.26" y="119" width="2.68" height="6.7" fill="#59ff00"/>
<rect x="533.59" y="21.5" width="2.68" height="13.2" fill="#00a2ff"/>
<rect x="533.59" y="34.5" width="2.68" height="13.2" fill="#00ffc4"/>
<rect x="533.59" y="47.5" width="2.68" height="19.7" fill="#00ff0c"/>
<rect x="533.59" y="67" width="2.68" height="19.7" fill="#07ff00"/>
<rect x="533.59" y="86.5" width="2.68" height="13.2" fill="#00ff14"/>
<rect x="533.59" y="99.5" width="2.68" height="19.7" fill="#00ffad"/>
<rect x="533.59" y="119" width="2.68" height="6.7" fill="#00ff0c"/>
<rect x="535.92" y="21.5" width="2.68" height="13.2" fill="#00cfff"/>
<rect x="535.92" y="34.5" width="2.68" height="19.7" fill="#00d6ff"/>
<rect x="535.92" y="54" width="2.68" height="13.2" fill="#33ff00"/>
<rect x="535.92" y="67" width="2.68" height="6.7" fill="#55ff00"/>
<rect x="535.92" y="73.5" width="2.68" height="13.2" fill="#00ffbb"/>
<rect x="535.92" y="86.5" width="2.68" height="13.2" fill="#41ff00"/>
<rect x="535.92" y="99.5" width="2.68" height="13.2" fill="#2fff00"/>
<rect x="535.92" y="112.5" width="2.68" height="6.7" fill="#00ff66"/>
<rect x="535.92" y="119" width="2.68" height="6.7" fill="#08ff00"/>
<rect x="538.25" y="21.5" width="2.68" height="13.2" fill="#00cbff"/>
<rect x="538.25" y="34.5" width="2.68" height="19.7" fill="#00ff57"/>
<rect x="538.25" y="54" width="2.68" height="13.2" fill="#43ff00"/>
<rect x="538.25" y="67" width="2.68" height="6.7" fill="#6fff00"/>
<rect x="538.25" y="73.5" width="2.68" height="13.2" fill="#0dff00"/>
<rect x="538.25" y="86.5" width="2.68" height="13.2" fill="#57ff00"/>
<rect x="538.25" y="99.5" width="2.68" height="13.2" fill="#4bff00"/>
<rect x="538.25" y="112.5" width="2.68" height="13.2" fill="#04ff00"/>
<rect x="540.58" y="21.5" width="2.68" height="19.7" fill="#00f3ff"/>
<rect x="540.58" y="41" width="2.68" height="19.7" fill="#00ffdc"/>
<rect x="540.58" y="60.5" width="2.68" height="6.7" fill="#19ff00"/>
<rect x="540.58" y="67" width="2.68" height="13.2" fill="#00ff45"/>
<rect x="540.58" y="80" width="2.68" height="13.2" fill="#0cff00"/>
<rect x="540.58" y="93" width="2.68" height="6.7" fill="#37ff00"/>
<rect x="540.58" y="99.5" width="2.68" height="13.2" fill="#47ff00"/>
<rect x="540.58" y="112.5" width="2.68" height="13.2" fill="#00ff2a"/>
<rect x="542.91" y="21.5" width="2.68" height="13.2" fill="#00ffe3"/>
<rect x="542.91" y="34.5" width="2.68" height="13.2" fill="#00ffd7"/>
<rect x="542.91" y="47.5" width="2.68" height="6.7" fill="#00fff5"/>
<rect x="542.91" y="54" width="2.68" height="6.7" fill="#3bff00"/>
<rect x="542.91" y="60.5" width="2.68" height="13.2" fill="#00ff14"/>
<rect x="542.91" y="73.5" width="2.68" height="13.2" fill="#12ff00"/>
<rect x="542.91" y="86.5" width="2.68" height="19.7" fill="#0bff00"/>
<rect x="542.91" y="106" width="2.68" height="13.2" fill="#4fff00"/>
<rect x="542.91" y="119" width="2.68" height="6.7" fill="#00ff02"/>
<rect x="545.24" y="21.5" width="2.68" height="6.7" fill="#0015ff"/>
<rect x="545.24" y="28" width="2.68" height="13.2" fill="#009bff"/>
<rect x="545.24" y="41" width="2.68" height="13.2" fill="#00ffa2"/>
<rect x="545.24" y="54" width="2.68" height="13.2" fill="#00ffbc"/>
<rect x="545.24" y="67" width="2.68" height="6.7" fill="#00ffb1"/>
<rect x="545.24" y="73.5" width="2.68" height="13.2" fill="#00deff"/>
<rect x="545.24" y="86.5" width="2.68" height="19.7" fill="#3dff00"/>
<rect x="545.24" y="106" width="2.68" height="19.7" fill="#5dff00"/>
<rect x="547.58" y="21.5" width="2.68" height="13.2" fill="#00ddff"/>
<rect x="547.58" y="34.5" width="2.68" height="6.7" fill="#00ffcc"/>
<rect x="547.58" y="41" width="2.68" height="13.2" fill="#00ff6c"/>
<rect x="547.58" y="54" width="2.68" height="13.2" fill="#43ff00"/>
<rect x="547.58" y="67" width="2.68" height="13.2" fill="#73ff00"/>
<rect x="547.58" y="80" width="2.68" height="6.7" fill="#52ff00"/>
<rect x="547.58" y="86.5" width="2.68" height="13.2" fill="#00ff0c"/>
<rect x="547.58" y="99.5" width="2.68" height="13.2" fill="#5fff00"/>
<rect x="547.58" y="112.5" width="2.68" height="6.7" fill="#3aff00"/>
<rect x="547.58" y="119" width="2.68" height="6.7" fill="#2eff00"/>
<rect x="549.91" y="21.5" width="2.68" height="13.2" fill="#00deff"/>
<rect x="549.91" y="34.5" width="2.68" height="19.7" fill="#00ffd9"/>
<rect x="549.91" y="54" width="2.68" height="6.7" fill="#00ffe2"/>
<rect x="549.91" y="60.5" width="2.68" height="19.7" fill="#3eff00"/>
<rect x="549.91" y="80" width="2.68" height="19.7" fill="#2cff00"/>
<rect x="549.91" y="99.5" width="2.68" height="13.2" fill="#62ff00"/>
<rect x="549.91" y="112.5" width="2.68" height="13.2" fill="#04ff00"/>
<rect x="552.24" y="21.5" width="2.68" height="6.7" fill="#00b4ff"/>
<rect x="552.24" y="28" width="2.68" height="6.7" fill="#00fdff"/>
<rect x="552.24" y="34.5" width="2.68" height="13.2" fill="#00ffc6"/>
<rect x="552.24" y="47.5" width="2.68" height="13.2" fill="#24ff00"/>
<rect x="552.24" y="60.5" width="2.68" height="6.7" fill="#17ff00"/>
<rect x="552.24" y="67" width="2.68" height="13.2" fill="#46ff00"/>
<rect x="552.24" y="80" width="2.68" height="6.7" fill="#2bff00"/>
<rect x="552.24" y="86.5" width="2.68" height="19.7" fill="#55ff00"/>
<rect x="552.24" y="106" width="2.68" height="6.7" fill="#18ff00"/>
<rect x="552.24" y="112.5" width="2.68" height="13.2" fill="#20ff00"/>
<rect x="554.57" y="21.5" width="2.68" height="13.2" fill="#00fffb"/>
<rect x="554.57" y="34.5" width="2.68" height="13.2" fill="#00ffab"/>
<rect x="554.57" y="47.5" width="2.68" height="13.2" fill="#00f9ff"/>
<rect x="554.57" y="60.5" width="2.68" height="6.7" fill="#00ff4f"/>
<rect x="554.57" y="67" width="2.68" height="19.7" fill="#14ff00"/>
<rect x="554.57" y="86.5" width="2.68" height="13.2" fill="#38ff00"/>
<rect x="554.57" y="99.5" width="2.68" height="6.7" fill="#05ff00"/>
<rect x="554.57" y="106" width="2.68" height="6.7" fill="#00ff53"/>
<rect x="554.57" y="112.5" width="2.68" height="6.7" fill="#00ff11"/>
<rect x="554.57" y="119" width="2.68" height="6.7" fill="#00ff0b"/>
<rect x="556.9" y="21.5" width="2.68" height="13.2" fill="#00f3ff"/>
<rect x="556.9" y="34.5" width="2.68" height="13.2" fill="#00ffda"/>
<rect x="556.9" y="47.5" width="2.68" height="6.7" fill="#47ff00"/>
<rect x="556.9" y="54" width="2.68" height="13.2" fill="#00ff11"/>
<rect x="556.9" y="67" width="2.68" height="13.2" fill="#00ff09"/>
<rect x="556.9" y="80" width="2.68" height="6.7" fill="#00fff1"/>
<rect x="556.9" y="86.5" width="2.68" height="13.2" fill="#00ff14"/>
<rect x="556.9" y="99.5" width="2.68" height="13.2" fill="#00ff24"/>
<rect x="556.9" y="112.5" width="2.68" height="13.2" fill="#00ffd7"/>
<rect x="559.23" y="21.5" width="2.68" height="13.2" fill="#00fbff"/>
<rect x="559.23" y="34.5" width="2.68" height="13.2" fill="#00eeff"/>
<rect x="559.23" y="47.5" width="2.68" height="19.7" fill="#00ffeb"/>
<rect x="559.23" y="67" width="2.68" height="19.7" fill="#62ff00"/>
<rect x="559.23" y="86.5" width="2.68" height="13.2" fill="#1bff00"/>
<rect x="559.23" y="99.5" width="2.68" height="13.2" fill="#00ff0e"/>
<rect x="559.23" y="112.5" width="2.68" height="13.2" fill="#1dff00"/>
<rect x="561.56" y="21.5" width="2.68" height="13.2" fill="#00e6ff"/>
<rect x="561.56" y="34.5" width="2.68" height="13.2" fill="#00ffdc"/>
<rect x="561.56" y="47.5" width="2.68" height="6.7" fill="#00e7ff"/>
<rect x="561.56" y="54" width="2.68" height="13.2" fill="#00ffe3"/>
<rect x="561.56" y="67" width="2.68" height="6.7" fill="#0bff00"/>
<rect x="561.56" y="73.5" width="2.68" height="13.2" fill="#23ff00"/>
<rect x="561.56" y="86.5" width="2.68" height="13.2" fill="#1cff00"/>
<rect x="561.56" y="99.5" width="2.68" height="19.7" fill="#3fff00"/>
<rect x="561.56" y="119" width="2.68" height="6.7" fill="#41ff00"/>
<rect x="563.89" y="21.5" width="2.68" height="19.7" fill="#00cfff"/>
<rect x="563.89" y="41" width="2.68" height="19.7" fill="#00ffcf"/>
<rect x="563.89" y="60.5" width="2.68" height="19.7" fill="#51ff00"/>
<rect x="563.89" y="80" width="2.68" height="13.2" fill="#44ff00"/>
<rect x="563.89" y="93" width="2.68" height="6.7" fill="#47ff00"/>
<rect x="563.89" y="99.5" width="2.68" height="19.7" fill="#00ff0e"/>
<rect x="563.89" y="119" width="2.68" height="6.7" fill="#00ff07"/>
<rect x="566.22" y="21.5" width="2.68" height="13.2" fill="#0015ff"/>
<rect x="566.22" y="34.5" width="2.68" height="19.7" fill="#00e6ff"/>
<rect x="566.22" y="54" width="2.68" height="13.2" fill="#00ff16"/>
<rect x="566.22" y="67" width="2.68" height="6.7" fill="#55ff00"/>
<rect x="566.22" y="73.5" width="2.68" height="19.7" fill="#00ff18"/>
<rect x="566.22" y="93" width="2.68" height="13.2" fill="#00ffdc"/>
<rect x="566.22" y="106" width="2.68" height="13.2" fill="#5aff00"/>
<rect x="566.22" y="119" width="2.68" height="6.7" fill="#00ff64"/>
<rect x="568.56" y="21.5" width="2.68" height="13.2" fill="#00ecff"/>
<rect x="568.56" y="34.5" width="2.68" height="13.2" fill="#0099ff"/>
<rect x="568.56" y="47.5" width="2.68" height="19.7" fill="#00ffef"/>
<rect x="568.56" y="67" width="2.68" height="13.2" fill="#40ff00"/>
<rect x="568.56" y="80" width="2.68" height="13.2" fill="#21ff00"/>
<rect x="568.56" y="93" width="2.68" height="6.7" fill="#00ffb8"/>
<rect x="568.56" y="99.5" width="2.68" height="19.7" fill="#3cff00"/>
<rect x="568.56" y="119" width="2.68" height="6.7" fill="#05ff00"/>
<rect x="570.89" y="21.5" width="2.68" height="13.2" fill="#00fff4"/>
<rect x="570.89" y="34.5" width="2.68" height="13.2" fill="#00e2ff"/>
<rect x="570.89" y="47.5" width="2.68" height="19.7" fill="#58ff00"/>
<rect x="570.89" y="67" width="2.68" height="6.7" fill="#1eff00"/>
<rect x="570.89" y="73.5" width="2.68" height="19.7" fill="#00ff04"/>
<rect x="570.89" y="93" width="2.68" height="13.2" fill="#00ff67"/>
<rect x="570.89" y="106" width="2.68" height="19.7" fill="#32ff00"/>
<rect x="573.22" y="21.5" width="2.68" height="13.2" fill="#00ffee"/>
<rect x="573.22" y="34.5" width="2.68" height="13.2" fill="#00f1ff"/>
<rect x="573.22" y="47.5" width="2.68" height="6.7" fill="#00ffc4"/>
<rect x="573.22" y="54" width="2.68" height="19.7" fill="#00ff16"/>
<rect x="573.22" y="73.5" width="2.68" height="13.2" fill="#01ff00"/>
<rect x="573.22" y="86.5" width="2.68" height="13.2" fill="#37ff00"/>
<rect x="573.22" y="99.5" width="2.68" height="13.2" fill="#00ff04"/>
<rect x="573.22" y="112.5" width="2.68" height="13.2" fill="#1dff00"/>
<rect x="575.55" y="21.5" width="2.68" height="19.7" fill="#00ffd2"/>
<rect x="575.55" y="41" width="2.68" height="13.2" fill="#00ffa8"/>
<rect x="575.55" y="54" width="2.68" height="6.7" fill="#2cff00"/>
<rect x="575.55" y="60.5" width="2.68" height="13.2" fill="#00ff4e"/>
<rect x="575.55" y="73.5" width="2.68" height="13.2" fill="#00ff04"/>
<rect x="575.55" y="86.5" width="2.68" height="13.2" fill="#00ff25"/>
<rect x="575.55" y="99.5" width="2.68" height="13.2" fill="#5dff00"/>
<rect x="575.55" y="112.5" width="2.68" height="6.7" fill="#4eff00"/>
<rect x="575.55" y="119" width="2.68" height="6.7" fill="#07ff00"/>
<rect x="577.88" y="21.5" width="2.68" height="6.7" fill="#0088ff"/>
<rect x="577.88" y="28" width="2.68" height="19.7" fill="#00ffc3"/>
<rect x="577.88" y="47.5" width="2.68" height="19.7" fill="#56ff00"/>
<rect x="577.88" y="67" width="2.68" height="19.7" fill="#4dff00"/>
<rect x="577.88" y="86.5" width="2.68" height="13.2" fill="#52ff00"/>
<rect x="577.88" y="99.5" width="2.68" height="13.2" fill="#00ff54"/>
<rect x="577.88" y="112.5" width="2.68" height="13.2" fill="#17ff00"/>
<rect x="580.21" y="21.5" width="2.68" height="6.7" fill="#0061ff"/>
<rect x="580.21" y="28" width="2.68" height="13.2" fill="#00e4ff"/>
<rect x="580.21" y="41" width="2.68" height="19.7" fill="#5a00b4"/>
<rect x="580.21" y="60.5" width="2.68" height="13.2" fill="#00ff12"/>
<rect x="580.21" y="73.5" width="2.68" height="19.7" fill="#00ffea"/>
<rect x="580.21" y="93" width="2.68" height="19.7" fill="#46ff00"/>
<rect x="580.21" y="112.5" width="2.68" height="13.2" fill="#00ff1e"/>
<rect x="582.54" y="21.5" width="2.68" height="13.2" fill="#00c1ff"/>
<rect x="582.54" y="34.5" width="2.68" height="13.2" fill="#00ffc7"/>
<rect x="582.54" y="47.5" width="2.68" height="13.2" fill="#00ffd5"/>
<rect x="582.54" y="60.5" width="2.68" height="6.7" fill="#5dff00"/>
<rect x="582.54" y="67" width="2.68" height="19.7" fill="#00ff6b"/>
<rect x="582.54" y="86.5" width="2.68" height="13.2" fill="#00ff0e"/>
<rect x="582.54" y="99.5" width="2.68" height="13.2" fill="#0aff00"/>
<rect x="582.54" y="112.5" width="2.68" height="13.2" fill="#01ff00"/>
<rect x="584.88" y="21.5" width="2.68" height="13.2" fill="#00d9ff"/>
<rect x="584.88" y="34.5" width="2.68" height="19.7" fill="#00ffee"/>
<rect x="584.88" y="54" width="2.68" height="13.2" fill="#30ff00"/>
<rect x="584.88" y="67" width="2.68" height="19.7" fill="#31ff00"/>
<rect x="584.88" y="86.5" width="2.68" height="6.7" fill="#49ff00"/>
<rect x="584.88" y="93" width="2.68" height="13.2" fill="#00ff01"/>
<rect x="584.88" y="106" width="2.68" height="13.2" fill="#00ff27"/>
<rect x="584.88" y="119" width="2.68" height="6.7" fill="#4bff00"/>
<rect x="587.21" y="21.5" width="2.68" height="13.2" fill="#00a2ff"/>
<rect x="587.21" y="34.5" width="2.68" height="13.2" fill="#00f8ff"/>
<rect x="587.21" y="47.5" width="2.68" height="13.2" fill="#00ffa7"/>
<rect x="587.21" y="60.5" width="2.68" height="19.7" fill="#00ff0e"/>
<rect x="587.21" y="80" width="2.68" height="6.7" fill="#1eff00"/>
<rect x="587.21" y="86.5" width="2.68" height="6.7" fill="#00ff55"/>
<rect x="587.21" y="93" width="2.68" height="13.2" fill="#00ffde"/>
<rect x="587.21" y="106" width="2.68" height="13.2" fill="#04ff00"/>
<rect x="587.21" y="119" width="2.68" height="6.7" fill="#14ff00"/>
<rect x="589.54" y="21.5" width="2.68" height="13.2" fill="#00d0ff"/>
<rect x="589.54" y="34.5" width="2.68" height="13.2" fill="#00fff6"/>
<rect x="589.54" y="47.5" width="2.68" height="13.2" fill="#00ff7f"/>
<rect x="589.54" y="60.5" width="2.68" height="13.2" fill="#00ff14"/>
<rect x="589.54" y="73.5" width="2.68" height="6.7" fill="#2cff00"/>
<rect x="589.54" y="80" width="2.68" height="13.2" fill="#13ff00"/>
<rect x="589.54" y="93" width="2.68" height="13.2" fill="#01ff00"/>
<rect x="589.54" y="106" width="2.68" height="6.7" fill="#00ff10"/>
<rect x="589.54" y="112.5" width="2.68" height="13.2" fill="#00ff92"/>
<rect x="591.87" y="21.5" width="2.68" height="13.2" fill="#00f1ff"/>
<rect x="591.87" y="34.5" width="2.68" height="19.7" fill="#00b7ff"/>
<rect x="591.87" y="54" width="2.68" height="6.7" fill="#00ffc2"/>
<rect x="591.87" y="60.5" width="2.68" height="19.7" fill="#1bff00"/>
<rect x="591.87" y="80" width="2.68" height="6.7" fill="#1fff00"/>
<rect x="591.87" y="86.5" width="2.68" height="13.2" fill="#00ff21"/>
<rect x="591.87" y="99.5" width="2.68" height="19.7" fill="#19ff00"/>
<rect x="591.87" y="119" width="2.68" height="6.7" fill="#00ff06"/>
<rect x="594.2" y="21.5" width="2.68" height="6.7" fill="#00c8ff"/>
<rect x="594.2" y="28" width="2.68" height="6.7" fill="#00fff7"/>
<rect x="594.2" y="34.5" width="2.68" height="13.2" fill="#00ffdb"/>
<rect x="594.2" y="47.5" width="2.68" height="19.7" fill="#00ff03"/>
<rect x="594.2" y="67" width="2.68" height="6.7" fill="#20ff00"/>
<rect x="594.2" y="73.5" width="2.68" height="13.2" fill="#10ff00"/>
<rect x="594.2" y="86.5" width="2.68" height="6.7" fill="#2dff00"/>
<rect x="594.2" y="93" width="2.68" height="6.7" fill="#3dff00"/>
<rect x="594.2" y="99.5" width="2.68" height="6.7" fill="#00ffd4"/>
<rect x="594.2" y="106" width="2.68" height="19.7" fill="#00ff13"/>
<rect x="596.53" y="21.5" width="2.68" height="6.7" fill="#00c3ff"/>
<rect x="596.53" y="28" width="2.68" height="13.2" fill="#00a7ff"/>
<rect x="596.53" y="41" width="2.68" height="19.7" fill="#00fff1"/>
<rect x="596.53" y="60.5" width="2.68" height="13.2" fill="#00ff2e"/>
<rect x="596.53" y="73.5" width="2.68" height="13.2" fill="#00fff0"/>
<rect x="596.53" y="86.5" width="2.68" height="6.7" fill="#00ffd9"/>
<rect x="596.53" y="93" width="2.68" height="6.7" fill="#00ff56"/>
<rect x="596.53" y="99.5" width="2.68" height="13.2" fill="#40ff00"/>
<rect x="596.53" y="112.5" width="2.68" height="13.2" fill="#00ff42"/>
<rect x="598.86" y="21.5" width="2.68" height="13.2" fill="#00ffe3"/>
<rect x="598.86" y="34.5" width="2.68" height="13.2" fill="#00ffa1"/>
<rect x="598.86" y="47.5" width="2.68" height="19.7" fill="#04ff00"/>
<rect x="598.86" y="67" width="2.68" height="13.2" fill="#00ff10"/>
<rect x="598.86" y="80" width="2.68" height="6.7" fill="#1dff00"/>
<rect x="598.86" y="86.5" width="2.68" height="13.2" fill="#00ff39"/>
<rect x="598.86" y="99.5" width="2.68" height="6.7" fill="#20ff00"/>
<rect x="598.86" y="106" width="2.68" height="6.7" fill="#09ff00"/>
<rect x="598.86" y="112.5" width="2.68" height="13.2" fill="#00ff15"/>
<rect x="601.19" y="21.5" width="2.68" height="19.7" fill="#00c8ff"/>
<rect x="601.19" y="41" width="2.68" height="13.2" fill="#0073ff"/>
<rect x="601.19" y="54" width="2.68" height="13.2" fill="#51ff00"/>
<rect x="601.19" y="67" width="2.68" height="13.2" fill="#38ff00"/>
<rect x="601.19" y="80" width="2.68" height="13.2" fill="#14ff00"/>
<rect x="601.19" y="93" width="2.68" height="13.2" fill="#33ff00"/>
<rect x="601.19" y="106" width="2.68" height="13.2" fill="#00ff30"/>
<rect x="601.19" y="119" width="2.68" height="6.7" fill="#48ff00"/>
<rect x="603.52" y="21.5" width="2.68" height="6.7" fill="#0097ff"/>
<rect x="603.52" y="28" width="2.68" height="13.2" fill="#00a6ff"/>
<rect x="603.52" y="41" width="2.68" height="13.2" fill="#00ffbd"/>
<rect x="603.52" y="54" width="2.68" height="19.7" fill="#00ff24"/>
<rect x="603.52" y="73.5" width="2.68" height="6.7" fill="#28ff00"/>
<rect x="603.52" y="80" width="2.68" height="6.7" fill="#00ff20"/>
<rect x="603.52" y="86.5" width="2.68" height="19.7" fill="#2eff00"/>
<rect x="603.52" y="106" width="2.68" height="19.7" fill="#38ff00"/>
<rect x="605.86" y="21.5" width="2.68" height="6.7" fill="#00c2ff"/>
<rect x="605.86" y="28" width="2.68" height="13.2" fill="#009eff"/>
<rect x="605.86" y="41" width="2.68" height="6.7" fill="#00ffc9"/>
<rect x="605.86" y="47.5" width="2.68" height="13.2" fill="#00d3ff"/>
<rect x="605.86" y="60.5" width="2.68" height="19.7" fill="#00fff7"/>
<rect x="605.86" y="80" width="2.68" height="13.2" fill="#00ffc8"/>
<rect x="605.86" y="93" width="2.68" height="13.2" fill="#00fff5"/>
<rect x="605.86" y="106" width="2.68" height="13.2" fill="#00ff2d"/>
<rect x="605.86" y="119" width="2.68" height="6.7" fill="#00ff94"/>
<rect x="608.19" y="21.5" width="2.68" height="13.2" fill="#00e9ff"/>
<rect x="608.19" y="34.5" width="2.68" height="13.2" fill="#00fff0"/>
<rect x="608.19" y="47.5" width="2.68" height="13.2" fill="#47ff00"/>
<rect x="608.19" y="60.5" width="2.68" height="13.2" fill="#00fffc"/>
<rect x="608.19" y="73.5" width="2.68" height="13.2" fill="#00ff5d"/>
<rect x="608.19" y="86.5" width="2.68" height="6.7" fill="#2eff00"/>
<rect x="608.19" y="93" width="2.68" height="13.2" fill="#00ffc6"/>
<rect x="608.19" y="106" width="2.68" height="6.7" fill="#00ff62"/>
<rect x="608.19" y="112.5" width="2.68" height="13.2" fill="#27ff00"/>
<rect x="610.52" y="21.5" width="2.68" height="19.7" fill="#00ffdb"/>
<rect x="610.52" y="41" width="2.68" height="13.2" fill="#00ffeb"/>
<rect x="610.52" y="54" width="2.68" height="13.2" fill="#00b3ff"/>
<rect x="610.52" y="67" width="2.68" height="13.2" fill="#1bff00"/>
<rect x="610.52" y="80" width="2.68" height="13.2" fill="#04ff00"/>
<rect x="610.52" y="93" width="2.68" height="19.7" fill="#00ff1f"/>
<rect x="610.52" y="112.5" width="2.68" height="13.2" fill="#00ff11"/>
<rect x="612.85" y="21.5" width="2.68" height="6.7" fill="#0046ff"/>
<rect x="612.85" y="28" width="2.68" height="13.2" fill="#00fff6"/>
<rect x="612.85" y="41" width="2.68" height="19.7" fill="#00bdff"/>
<rect x="612.85" y="60.5" width="2.68" height="13.2" fill="#00ff0b"/>
<rect x="612.85" y="73.5" width="2.68" height="13.2" fill="#63ff00"/>
<rect x="612.85" y="86.5" width="2.68" height="19.7" fill="#00fff9"/>
<rect x="612.85" y="106" width="2.68" height="13.2" fill="#00ff55"/>
<rect x="612.85" y="119" width="2.68" height="6.7" fill="#00ff47"/>
<rect x="615.18" y="21.5" width="2.68" height="6.7" fill="#00beff"/>
<rect x="615.18" y="28" width="2.68" height="13.2" fill="#00c7ff"/>
<rect x="615.18" y="41" width="2.68" height="13.2" fill="#55ff00"/>
<rect x="615.18" y="54" width="2.68" height="19.7" fill="#53ff00"/>
<rect x="615.18" y="73.5" width="2.68" height="19.7" fill="#28ff00"/>
<rect x="615.18" y="93" width="2.68" height="6.7" fill="#14ff00"/>
<rect x="615.18" y="99.5" width="2.68" height="6.7" fill="#0bff00"/>
<rect x="615.18" y="106" width="2.68" height="6.7" fill="#00ff58"/>
<rect x="615.18" y="112.5" width="2.68" height="13.2" fill="#00ff68"/>
<rect x="617.51" y="21.5" width="2.68" height="13.2" fill="#00fffa"/>
<rect x="617.51" y="34.5" width="2.68" height="6.7" fill="#00ffec"/>
<rect x="617.51" y="41" width="2.68" height="13.2" fill="#00ffe3"/>
<rect x="617.51" y="54" width="2.68" height="13.2" fill="#00ff21"/>
<rect x="617.51" y="67" width="2.68" height="13.2" fill="#05ff00"/>
<rect x="617.51" y="80" width="2.68" height="19.7" fill="#00e3ff"/>
<rect x="617.51" y="99.5" width="2.68" height="19.7" fill="#05ff00"/>
<rect x="617.51" y="119" width="2.68" height="6.7" fill="#00ff17"/>
<rect x="619.84" y="21.5" width="2.68" height="19.7" fill="#00ffad"/>
<rect x="619.84" y="41" width="2.68" height="13.2" fill="#00c2ff"/>
<rect x="619.84" y="54" width="2.68" height="6.7" fill="#22ff00"/>
<rect x="619.84" y="60.5" width="2.68" height="13.2" fill="#04ff00"/>
<rect x="619.84" y="73.5" width="2.68" height="13.2" fill="#00ff45"/>
<rect x="619.84" y="86.5" width="2.68" height="13.2" fill="#00ff17"/>
<rect x="619.84" y="99.5" width="2.68" height="19.7" fill="#00ff17"/>
<rect x="619.84" y="119" width="2.68" height="6.7" fill="#4aff00"/>
<rect x="622.17" y="21.5" width="2.68" height="13.2" fill="#00fffe"/>
<rect x="622.17" y="34.5" width="2.68" height="13.2" fill="#00e7ff"/>
<rect x="622.17" y="47.5" width="2.68" height="13.2" fill="#00ffce"/>
<rect x="622.17" y="60.5" width="2.68" height="13.2" fill="#10ff00"/>
<rect x="622.17" y="73.5" width="2.68" height="6.7" fill="#03ff00"/>
<rect x="622.17" y="80" width="2.68" height="13.2" fill="#00ff3c"/>
<rect x="622.17" y="93" width="2.68" height="13.2" fill="#4bff00"/>
<rect x="622.17" y="106" width="2.68" height="13.2" fill="#00ff2a"/>
<rect x="622.17" y="119" width="2.68" height="6.7" fill="#19ff00"/>
<rect x="624.51" y="21.5" width="2.68" height="6.7" fill="#00eaff"/>
<rect x="624.51" y="28" width="2.68" height="13.2" fill="#00e2ff"/>
<rect x="624.51" y="41" width="2.68" height="13.2" fill="#0015ff"/>
<rect x="624.51" y="54" width="2.68" height="19.7" fill="#67ff00"/>
<rect x="624.51" y="73.5" width="2.68" height="19.7" fill="#4eff00"/>
<rect x="624.51" y="93" width="2.68" height="6.7" fill="#6dff00"/>
<rect x="624.51" y="99.5" width="2.68" height="13.2" fill="#06ff00"/>
<rect x="624.51" y="112.5" width="2.68" height="6.7" fill="#00ffec"/>
<rect x="624.51" y="119" width="2.68" height="6.7" fill="#11ff00"/>
<rect x="626.84" y="21.5" width="2.68" height="6.7" fill="#00afff"/>
<rect x="626.84" y="28" width="2.68" height="13.2" fill="#00ffe3"/>
<rect x="626.84" y="41" width="2.68" height="13.2" fill="#36ff00"/>
<rect x="626.84" y="54" width="2.68" height="13.2" fill="#50ff00"/>
<rect x="626.84" y="67" width="2.68" height="6.7" fill="#4dff00"/>
<rect x="626.84" y="73.5" width="2.68" height="13.2" fill="#14ff00"/>
<rect x="626.84" y="86.5" width="2.68" height="13.2" fill="#2eff00"/>
<rect x="626.84" y="99.5" width="2.68" height="19.7" fill="#45ff00"/>
<rect x="626.84" y="119" width="2.68" height="6.7" fill="#36ff00"/>
<rect x="629.17" y="21.5" width="2.68" height="6.7" fill="#0098ff"/>
<rect x="629.17" y="28" width="2.68" height="13.2" fill="#007eff"/>
<rect x="629.17" y="41" width="2.68" height="6.7" fill="#00ffe2"/>
<rect x="629.17" y="47.5" width="2.68" height="6.7" fill="#00ffe0"/>
<rect x="629.17" y="54" width="2.68" height="6.7" fill="#75ff00"/>
<rect x="629.17" y="60.5" width="2.68" height="13.2" fill="#36ff00"/>
<rect x="629.17" y="73.5" width="2.68" height="13.2" fill="#5aff00"/>
<rect x="629.17" y="86.5" width="2.68" height="13.2" fill="#53ff00"/>
<rect x="629.17" y="99.5" width="2.68" height="13.2" fill="#08ff00"/>
<rect x="629.17" y="112.5" width="2.68" height="13.2" fill="#00ff54"/>
<rect x="578" y="21.5" width="19" height="3.4" fill="#fff"/><rect x="597" y="21.5" width="34" height="2.4" fill="#fff"/>
</g>
<rect x="72.5" y="21.5" width="559.0" height="104.0" fill="none" stroke="#333" stroke-width="1"/>
<line x1="72.5" y1="125" x2="79" y2="125" stroke="#222" stroke-width="0.9"/>
<line x1="631.5" y1="125" x2="625" y2="125" stroke="#222" stroke-width="0.9"/>
<line x1="72.5" y1="119.25" x2="76" y2="119.25" stroke="#222" stroke-width="0.9"/>
<line x1="631.5" y1="119.25" x2="628" y2="119.25" stroke="#222" stroke-width="0.9"/>
<line x1="72.5" y1="113.5" x2="76" y2="113.5" stroke="#222" stroke-width="0.9"/>
<line x1="631.5" y1="113.5" x2="628" y2="113.5" stroke="#222" stroke-width="0.9"/>
<line x1="72.5" y1="107.75" x2="79" y2="107.75" stroke="#222" stroke-width="0.9"/>
<line x1="631.5" y1="107.75" x2="625" y2="107.75" stroke="#222" stroke-width="0.9"/>
<line x1="72.5" y1="102" x2="76" y2="102" stroke="#222" stroke-width="0.9"/>
<line x1="631.5" y1="102" x2="628" y2="102" stroke="#222" stroke-width="0.9"/>
<line x1="72.5" y1="96.25" x2="76" y2="96.25" stroke="#222" stroke-width="0.9"/>
<line x1="631.5" y1="96.25" x2="628" y2="96.25" stroke="#222" stroke-width="0.9"/>
<line x1="72.5" y1="90.5" x2="79" y2="90.5" stroke="#222" stroke-width="0.9"/>
<line x1="631.5" y1="90.5" x2="625" y2="90.5" stroke="#222" stroke-width="0.9"/>
<line x1="72.5" y1="84.75" x2="76" y2="84.75" stroke="#222" stroke-width="0.9"/>
<line x1="631.5" y1="84.75" x2="628" y2="84.75" stroke="#222" stroke-width="0.9"/>
<line x1="72.5" y1="79" x2="76" y2="79" stroke="#222" stroke-width="0.9"/>
<line x1="631.5" y1="79" x2="628" y2="79" stroke="#222" stroke-width="0.9"/>
<line x1="72.5" y1="73.25" x2="79" y2="73.25" stroke="#222" stroke-width="0.9"/>
<line x1="631.5" y1="73.25" x2="625" y2="73.25" stroke="#222" stroke-width="0.9"/>
<line x1="72.5" y1="67.5" x2="76" y2="67.5" stroke="#222" stroke-width="0.9"/>
<line x1="631.5" y1="67.5" x2="628" y2="67.5" stroke="#222" stroke-width="0.9"/>
<line x1="72.5" y1="61.75" x2="76" y2="61.75" stroke="#222" stroke-width="0.9"/>
<line x1="631.5" y1="61.75" x2="628" y2="61.75" stroke="#222" stroke-width="0.9"/>
<line x1="72.5" y1="56" x2="79" y2="56" stroke="#222" stroke-width="0.9"/>
<line x1="631.5" y1="56" x2="625" y2="56" stroke="#222" stroke-width="0.9"/>
<line x1="72.5" y1="50.25" x2="76" y2="50.25" stroke="#222" stroke-width="0.9"/>
<line x1="631.5" y1="50.25" x2="628" y2="50.25" stroke="#222" stroke-width="0.9"/>
<line x1="72.5" y1="44.5" x2="76" y2="44.5" stroke="#222" stroke-width="0.9"/>
<line x1="631.5" y1="44.5" x2="628" y2="44.5" stroke="#222" stroke-width="0.9"/>
<line x1="72.5" y1="38.75" x2="79" y2="38.75" stroke="#222" stroke-width="0.9"/>
<line x1="631.5" y1="38.75" x2="625" y2="38.75" stroke="#222" stroke-width="0.9"/>
<line x1="72.5" y1="33" x2="76" y2="33" stroke="#222" stroke-width="0.9"/>
<line x1="631.5" y1="33" x2="628" y2="33" stroke="#222" stroke-width="0.9"/>
<line x1="72.5" y1="27.25" x2="76" y2="27.25" stroke="#222" stroke-width="0.9"/>
<line x1="631.5" y1="27.25" x2="628" y2="27.25" stroke="#222" stroke-width="0.9"/>
<line x1="72.5" y1="21.5" x2="79" y2="21.5" stroke="#222" stroke-width="0.9"/>
<line x1="631.5" y1="21.5" x2="625" y2="21.5" stroke="#222" stroke-width="0.9"/>
<line x1="72" y1="21.5" x2="72" y2="26.5" stroke="#222" stroke-width="0.9"/>
<line x1="72" y1="125" x2="72" y2="120" stroke="#222" stroke-width="0.9"/>
<line x1="106.97" y1="21.5" x2="106.97" y2="24.5" stroke="#222" stroke-width="0.9"/>
<line x1="106.97" y1="125" x2="106.97" y2="122" stroke="#222" stroke-width="0.9"/>
<line x1="141.94" y1="21.5" x2="141.94" y2="26.5" stroke="#222" stroke-width="0.9"/>
<line x1="141.94" y1="125" x2="141.94" y2="120" stroke="#222" stroke-width="0.9"/>
<line x1="176.91" y1="21.5" x2="176.91" y2="24.5" stroke="#222" stroke-width="0.9"/>
<line x1="176.91" y1="125" x2="176.91" y2="122" stroke="#222" stroke-width="0.9"/>
<line x1="211.88" y1="21.5" x2="211.88" y2="26.5" stroke="#222" stroke-width="0.9"/>
<line x1="211.88" y1="125" x2="211.88" y2="120" stroke="#222" stroke-width="0.9"/>
<line x1="246.85" y1="21.5" x2="246.85" y2="24.5" stroke="#222" stroke-width="0.9"/>
<line x1="246.85" y1="125" x2="246.85" y2="122" stroke="#222" stroke-width="0.9"/>
<line x1="281.82" y1="21.5" x2="281.82" y2="26.5" stroke="#222" stroke-width="0.9"/>
<line x1="281.82" y1="125" x2="281.82" y2="120" stroke="#222" stroke-width="0.9"/>
<line x1="316.79" y1="21.5" x2="316.79" y2="24.5" stroke="#222" stroke-width="0.9"/>
<line x1="316.79" y1="125" x2="316.79" y2="122" stroke="#222" stroke-width="0.9"/>
<line x1="351.76" y1="21.5" x2="351.76" y2="26.5" stroke="#222" stroke-width="0.9"/>
<line x1="351.76" y1="125" x2="351.76" y2="120" stroke="#222" stroke-width="0.9"/>
<line x1="386.73" y1="21.5" x2="386.73" y2="24.5" stroke="#222" stroke-width="0.9"/>
<line x1="386.73" y1="125" x2="386.73" y2="122" stroke="#222" stroke-width="0.9"/>
<line x1="421.7" y1="21.5" x2="421.7" y2="26.5" stroke="#222" stroke-width="0.9"/>
<line x1="421.7" y1="125" x2="421.7" y2="120" stroke="#222" stroke-width="0.9"/>
<line x1="456.67" y1="21.5" x2="456.67" y2="24.5" stroke="#222" stroke-width="0.9"/>
<line x1="456.67" y1="125" x2="456.67" y2="122" stroke="#222" stroke-width="0.9"/>
<line x1="491.64" y1="21.5" x2="491.64" y2="26.5" stroke="#222" stroke-width="0.9"/>
<line x1="491.64" y1="125" x2="491.64" y2="120" stroke="#222" stroke-width="0.9"/>
<line x1="526.61" y1="21.5" x2="526.61" y2="24.5" stroke="#222" stroke-width="0.9"/>
<line x1="526.61" y1="125" x2="526.61" y2="122" stroke="#222" stroke-width="0.9"/>
<line x1="561.58" y1="21.5" x2="561.58" y2="26.5" stroke="#222" stroke-width="0.9"/>
<line x1="561.58" y1="125" x2="561.58" y2="120" stroke="#222" stroke-width="0.9"/>
<line x1="596.55" y1="21.5" x2="596.55" y2="24.5" stroke="#222" stroke-width="0.9"/>
<line x1="596.55" y1="125" x2="596.55" y2="122" stroke="#222" stroke-width="0.9"/>
<line x1="631.52" y1="21.5" x2="631.52" y2="26.5" stroke="#222" stroke-width="0.9"/>
<line x1="631.52" y1="125" x2="631.52" y2="120" stroke="#222" stroke-width="0.9"/>
<text x="50.2" y="24.6" font-size="9.5" textLength="15.8" lengthAdjust="spacingAndGlyphs">180</text>
<text x="50.2" y="42.1" font-size="9.5" textLength="15.8" lengthAdjust="spacingAndGlyphs">150</text>
<text x="50.8" y="59.2" font-size="9.5" textLength="15.2" lengthAdjust="spacingAndGlyphs">120</text>
<text x="54.7" y="76.5" font-size="9.5" textLength="11.3" lengthAdjust="spacingAndGlyphs">90</text>
<text x="54.7" y="93.7" font-size="9.5" textLength="11.3" lengthAdjust="spacingAndGlyphs">60</text>
<text x="54.7" y="110.8" font-size="9.5" textLength="11.3" lengthAdjust="spacingAndGlyphs">30</text>
<text x="60.6" y="126.5" font-size="9.5" textLength="5.4" lengthAdjust="spacingAndGlyphs">0</text>
<text transform="translate(12.9 98.1) rotate(-90)" x="-0" y="0" font-size="11.8" fill="#222" textLength="49.4" lengthAdjust="spacingAndGlyphs">SWE PAD</text>
<text transform="translate(25.1 115.6) rotate(-90)" x="-0" y="0" font-size="11.4" fill="#222" textLength="84.4" lengthAdjust="spacingAndGlyphs">(111.2–140.3 eV)</text>
<text transform="translate(38 79) rotate(-90)" x="-0" y="0" font-size="11.4" fill="#222" textLength="12" lengthAdjust="spacingAndGlyphs">(°)</text>
<text x="0.8" y="16" font-size="14.5" fill="#000" font-weight="bold" textLength="8.2" lengthAdjust="spacingAndGlyphs" stroke="#000" stroke-width="0.5">a</text>
<text x="0.7" y="138.3" font-size="16.6" fill="#000" font-weight="bold" textLength="9.6" lengthAdjust="spacingAndGlyphs" stroke="#000" stroke-width="0.5">b</text>
<rect x="192" y="16.3" width="84.8" height="4.8" fill="#f28a3a"/>
<rect x="386" y="16.3" width="246" height="4.8" fill="#f28a3a"/>
<text x="521.5" y="14.3" font-size="12.2" fill="#f28a3a" textLength="110.9" lengthAdjust="spacingAndGlyphs">One-sided loss cone</text>
<text x="231" y="9.9" font-size="12" textLength="6.5" lengthAdjust="spacingAndGlyphs">c</text>
<text x="301" y="9.9" font-size="12" textLength="6.6" lengthAdjust="spacingAndGlyphs">d</text>
<text x="358.2" y="9.9" font-size="12" textLength="6.4" lengthAdjust="spacingAndGlyphs">e</text>
<text x="418.6" y="9.9" font-size="12" textLength="3.97" lengthAdjust="spacingAndGlyphs">f</text>
<defs><linearGradient id="cb" x1="0" y1="1" x2="0" y2="0"><stop offset="0.0" stop-color="#000000"/><stop offset="0.1" stop-color="#300040"/><stop offset="0.19" stop-color="#5a00b4"/><stop offset="0.26" stop-color="#0000ff"/><stop offset="0.32" stop-color="#0080ff"/><stop offset="0.39" stop-color="#00ffff"/><stop offset="0.47" stop-color="#00ff80"/><stop offset="0.55" stop-color="#00ff00"/><stop offset="0.63" stop-color="#8cff00"/><stop offset="0.71" stop-color="#ffff00"/><stop offset="0.81" stop-color="#ff8000"/><stop offset="0.88" stop-color="#ff0000"/><stop offset="0.94" stop-color="#aa0000"/><stop offset="1.0" stop-color="#a80000"/></linearGradient></defs>
<rect x="639.3" y="21.7" width="7" height="103.7" fill="url(#cb)" stroke="#444" stroke-width="0.9"/>
<text x="651.6" y="55.1" font-size="9.3" textLength="9.7" lengthAdjust="spacingAndGlyphs">10</text>
<text x="661.9" y="49.7" font-size="6.5" textLength="3.9" lengthAdjust="spacingAndGlyphs">7</text>
<text x="651.6" y="90.2" font-size="9.3" textLength="9.7" lengthAdjust="spacingAndGlyphs">10</text>
<text x="661.9" y="84.7" font-size="6.5" textLength="3.9" lengthAdjust="spacingAndGlyphs">6</text>
<text x="651.6" y="125.3" font-size="9.3" textLength="9.7" lengthAdjust="spacingAndGlyphs">10</text>
<text x="661.9" y="120.3" font-size="6.5" textLength="3.9" lengthAdjust="spacingAndGlyphs">5</text>
<text transform="translate(674.9 60.4) rotate(90)" x="-0" y="0" font-size="10.6" fill="#222" textLength="25.9" lengthAdjust="spacingAndGlyphs">Eflux</text>
<line x1="72.5" y1="138.5" x2="631.5" y2="138.5" stroke="#333" stroke-width="1"/>
<line x1="631.5" y1="138.5" x2="631.5" y2="239.5" stroke="#444" stroke-width="1"/>
<line x1="72.3" y1="138.5" x2="72.3" y2="240.3" stroke="#999" stroke-width="1.3"/>
<line x1="72.5" y1="239.8" x2="631.5" y2="239.8" stroke="#8c8c8c" stroke-width="1.4"/>
<line x1="72.5" y1="239.5" x2="79.5" y2="239.5" stroke="#999" stroke-width="0.8"/>
<line x1="631.5" y1="239.5" x2="624.5" y2="239.5" stroke="#999" stroke-width="0.8"/>
<line x1="72.5" y1="236.97" x2="76.1" y2="236.97" stroke="#333" stroke-width="0.8"/>
<line x1="631.5" y1="236.97" x2="627.9" y2="236.97" stroke="#333" stroke-width="0.8"/>
<line x1="72.5" y1="234.44" x2="76.1" y2="234.44" stroke="#333" stroke-width="0.8"/>
<line x1="631.5" y1="234.44" x2="627.9" y2="234.44" stroke="#333" stroke-width="0.8"/>
<line x1="72.5" y1="231.91" x2="76.1" y2="231.91" stroke="#333" stroke-width="0.8"/>
<line x1="631.5" y1="231.91" x2="627.9" y2="231.91" stroke="#333" stroke-width="0.8"/>
<line x1="72.5" y1="229.38" x2="76.1" y2="229.38" stroke="#333" stroke-width="0.8"/>
<line x1="631.5" y1="229.38" x2="627.9" y2="229.38" stroke="#333" stroke-width="0.8"/>
<line x1="72.5" y1="226.85" x2="76.1" y2="226.85" stroke="#333" stroke-width="0.8"/>
<line x1="631.5" y1="226.85" x2="627.9" y2="226.85" stroke="#333" stroke-width="0.8"/>
<line x1="72.5" y1="224.32" x2="76.1" y2="224.32" stroke="#333" stroke-width="0.8"/>
<line x1="631.5" y1="224.32" x2="627.9" y2="224.32" stroke="#333" stroke-width="0.8"/>
<line x1="72.5" y1="221.79" x2="76.1" y2="221.79" stroke="#333" stroke-width="0.8"/>
<line x1="631.5" y1="221.79" x2="627.9" y2="221.79" stroke="#333" stroke-width="0.8"/>
<line x1="72.5" y1="219.26" x2="76.1" y2="219.26" stroke="#333" stroke-width="0.8"/>
<line x1="631.5" y1="219.26" x2="627.9" y2="219.26" stroke="#333" stroke-width="0.8"/>
<line x1="72.5" y1="216.73" x2="76.1" y2="216.73" stroke="#333" stroke-width="0.8"/>
<line x1="631.5" y1="216.73" x2="627.9" y2="216.73" stroke="#333" stroke-width="0.8"/>
<line x1="72.5" y1="214.2" x2="79.5" y2="214.2" stroke="#999" stroke-width="0.8"/>
<line x1="631.5" y1="214.2" x2="624.5" y2="214.2" stroke="#999" stroke-width="0.8"/>
<line x1="72.5" y1="211.67" x2="76.1" y2="211.67" stroke="#333" stroke-width="0.8"/>
<line x1="631.5" y1="211.67" x2="627.9" y2="211.67" stroke="#333" stroke-width="0.8"/>
<line x1="72.5" y1="209.14" x2="76.1" y2="209.14" stroke="#333" stroke-width="0.8"/>
<line x1="631.5" y1="209.14" x2="627.9" y2="209.14" stroke="#333" stroke-width="0.8"/>
<line x1="72.5" y1="206.61" x2="76.1" y2="206.61" stroke="#333" stroke-width="0.8"/>
<line x1="631.5" y1="206.61" x2="627.9" y2="206.61" stroke="#333" stroke-width="0.8"/>
<line x1="72.5" y1="204.08" x2="76.1" y2="204.08" stroke="#333" stroke-width="0.8"/>
<line x1="631.5" y1="204.08" x2="627.9" y2="204.08" stroke="#333" stroke-width="0.8"/>
<line x1="72.5" y1="201.55" x2="76.1" y2="201.55" stroke="#333" stroke-width="0.8"/>
<line x1="631.5" y1="201.55" x2="627.9" y2="201.55" stroke="#333" stroke-width="0.8"/>
<line x1="72.5" y1="199.02" x2="76.1" y2="199.02" stroke="#333" stroke-width="0.8"/>
<line x1="631.5" y1="199.02" x2="627.9" y2="199.02" stroke="#333" stroke-width="0.8"/>
<line x1="72.5" y1="196.49" x2="76.1" y2="196.49" stroke="#333" stroke-width="0.8"/>
<line x1="631.5" y1="196.49" x2="627.9" y2="196.49" stroke="#333" stroke-width="0.8"/>
<line x1="72.5" y1="193.96" x2="76.1" y2="193.96" stroke="#333" stroke-width="0.8"/>
<line x1="631.5" y1="193.96" x2="627.9" y2="193.96" stroke="#333" stroke-width="0.8"/>
<line x1="72.5" y1="191.43" x2="76.1" y2="191.43" stroke="#333" stroke-width="0.8"/>
<line x1="631.5" y1="191.43" x2="627.9" y2="191.43" stroke="#333" stroke-width="0.8"/>
<line x1="72.5" y1="188.9" x2="79.5" y2="188.9" stroke="#999" stroke-width="0.8"/>
<line x1="631.5" y1="188.9" x2="624.5" y2="188.9" stroke="#999" stroke-width="0.8"/>
<line x1="72.5" y1="186.37" x2="76.1" y2="186.37" stroke="#333" stroke-width="0.8"/>
<line x1="631.5" y1="186.37" x2="627.9" y2="186.37" stroke="#333" stroke-width="0.8"/>
<line x1="72.5" y1="183.84" x2="76.1" y2="183.84" stroke="#333" stroke-width="0.8"/>
<line x1="631.5" y1="183.84" x2="627.9" y2="183.84" stroke="#333" stroke-width="0.8"/>
<line x1="72.5" y1="181.31" x2="76.1" y2="181.31" stroke="#333" stroke-width="0.8"/>
<line x1="631.5" y1="181.31" x2="627.9" y2="181.31" stroke="#333" stroke-width="0.8"/>
<line x1="72.5" y1="178.78" x2="76.1" y2="178.78" stroke="#333" stroke-width="0.8"/>
<line x1="631.5" y1="178.78" x2="627.9" y2="178.78" stroke="#333" stroke-width="0.8"/>
<line x1="72.5" y1="176.25" x2="76.1" y2="176.25" stroke="#333" stroke-width="0.8"/>
<line x1="631.5" y1="176.25" x2="627.9" y2="176.25" stroke="#333" stroke-width="0.8"/>
<line x1="72.5" y1="173.72" x2="76.1" y2="173.72" stroke="#333" stroke-width="0.8"/>
<line x1="631.5" y1="173.72" x2="627.9" y2="173.72" stroke="#333" stroke-width="0.8"/>
<line x1="72.5" y1="171.19" x2="76.1" y2="171.19" stroke="#333" stroke-width="0.8"/>
<line x1="631.5" y1="171.19" x2="627.9" y2="171.19" stroke="#333" stroke-width="0.8"/>
<line x1="72.5" y1="168.66" x2="76.1" y2="168.66" stroke="#333" stroke-width="0.8"/>
<line x1="631.5" y1="168.66" x2="627.9" y2="168.66" stroke="#333" stroke-width="0.8"/>
<line x1="72.5" y1="166.13" x2="76.1" y2="166.13" stroke="#333" stroke-width="0.8"/>
<line x1="631.5" y1="166.13" x2="627.9" y2="166.13" stroke="#333" stroke-width="0.8"/>
<line x1="72.5" y1="163.6" x2="79.5" y2="163.6" stroke="#999" stroke-width="0.8"/>
<line x1="631.5" y1="163.6" x2="624.5" y2="163.6" stroke="#999" stroke-width="0.8"/>
<line x1="72.5" y1="161.07" x2="76.1" y2="161.07" stroke="#333" stroke-width="0.8"/>
<line x1="631.5" y1="161.07" x2="627.9" y2="161.07" stroke="#333" stroke-width="0.8"/>
<line x1="72.5" y1="158.54" x2="76.1" y2="158.54" stroke="#333" stroke-width="0.8"/>
<line x1="631.5" y1="158.54" x2="627.9" y2="158.54" stroke="#333" stroke-width="0.8"/>
<line x1="72.5" y1="156.01" x2="76.1" y2="156.01" stroke="#333" stroke-width="0.8"/>
<line x1="631.5" y1="156.01" x2="627.9" y2="156.01" stroke="#333" stroke-width="0.8"/>
<line x1="72.5" y1="153.48" x2="76.1" y2="153.48" stroke="#333" stroke-width="0.8"/>
<line x1="631.5" y1="153.48" x2="627.9" y2="153.48" stroke="#333" stroke-width="0.8"/>
<line x1="72.5" y1="150.95" x2="76.1" y2="150.95" stroke="#333" stroke-width="0.8"/>
<line x1="631.5" y1="150.95" x2="627.9" y2="150.95" stroke="#333" stroke-width="0.8"/>
<line x1="72.5" y1="148.42" x2="76.1" y2="148.42" stroke="#333" stroke-width="0.8"/>
<line x1="631.5" y1="148.42" x2="627.9" y2="148.42" stroke="#333" stroke-width="0.8"/>
<line x1="72.5" y1="145.89" x2="76.1" y2="145.89" stroke="#333" stroke-width="0.8"/>
<line x1="631.5" y1="145.89" x2="627.9" y2="145.89" stroke="#333" stroke-width="0.8"/>
<line x1="72.5" y1="143.36" x2="76.1" y2="143.36" stroke="#333" stroke-width="0.8"/>
<line x1="631.5" y1="143.36" x2="627.9" y2="143.36" stroke="#333" stroke-width="0.8"/>
<line x1="72.5" y1="140.83" x2="76.1" y2="140.83" stroke="#333" stroke-width="0.8"/>
<line x1="631.5" y1="140.83" x2="627.9" y2="140.83" stroke="#333" stroke-width="0.8"/>
<line x1="72.5" y1="138.3" x2="79.5" y2="138.3" stroke="#999" stroke-width="0.8"/>
<line x1="631.5" y1="138.3" x2="624.5" y2="138.3" stroke="#999" stroke-width="0.8"/>
<line x1="72" y1="138.5" x2="72" y2="144.5" stroke="#333" stroke-width="0.9"/>
<line x1="72" y1="239.5" x2="72" y2="233.5" stroke="#333" stroke-width="0.9"/>
<line x1="106.97" y1="138.5" x2="106.97" y2="141.5" stroke="#333" stroke-width="0.9"/>
<line x1="106.97" y1="239.5" x2="106.97" y2="236.5" stroke="#333" stroke-width="0.9"/>
<line x1="141.94" y1="138.5" x2="141.94" y2="144.5" stroke="#333" stroke-width="0.9"/>
<line x1="141.94" y1="239.5" x2="141.94" y2="233.5" stroke="#333" stroke-width="0.9"/>
<line x1="176.91" y1="138.5" x2="176.91" y2="141.5" stroke="#333" stroke-width="0.9"/>
<line x1="176.91" y1="239.5" x2="176.91" y2="236.5" stroke="#333" stroke-width="0.9"/>
<line x1="211.88" y1="138.5" x2="211.88" y2="144.5" stroke="#333" stroke-width="0.9"/>
<line x1="211.88" y1="239.5" x2="211.88" y2="233.5" stroke="#333" stroke-width="0.9"/>
<line x1="246.85" y1="138.5" x2="246.85" y2="141.5" stroke="#333" stroke-width="0.9"/>
<line x1="246.85" y1="239.5" x2="246.85" y2="236.5" stroke="#333" stroke-width="0.9"/>
<line x1="281.82" y1="138.5" x2="281.82" y2="144.5" stroke="#333" stroke-width="0.9"/>
<line x1="281.82" y1="239.5" x2="281.82" y2="233.5" stroke="#333" stroke-width="0.9"/>
<line x1="316.79" y1="138.5" x2="316.79" y2="141.5" stroke="#333" stroke-width="0.9"/>
<line x1="316.79" y1="239.5" x2="316.79" y2="236.5" stroke="#333" stroke-width="0.9"/>
<line x1="351.76" y1="138.5" x2="351.76" y2="144.5" stroke="#333" stroke-width="0.9"/>
<line x1="351.76" y1="239.5" x2="351.76" y2="233.5" stroke="#333" stroke-width="0.9"/>
<line x1="386.73" y1="138.5" x2="386.73" y2="141.5" stroke="#333" stroke-width="0.9"/>
<line x1="386.73" y1="239.5" x2="386.73" y2="236.5" stroke="#333" stroke-width="0.9"/>
<line x1="421.7" y1="138.5" x2="421.7" y2="144.5" stroke="#333" stroke-width="0.9"/>
<line x1="421.7" y1="239.5" x2="421.7" y2="233.5" stroke="#333" stroke-width="0.9"/>
<line x1="456.67" y1="138.5" x2="456.67" y2="141.5" stroke="#333" stroke-width="0.9"/>
<line x1="456.67" y1="239.5" x2="456.67" y2="236.5" stroke="#333" stroke-width="0.9"/>
<line x1="491.64" y1="138.5" x2="491.64" y2="144.5" stroke="#333" stroke-width="0.9"/>
<line x1="491.64" y1="239.5" x2="491.64" y2="233.5" stroke="#333" stroke-width="0.9"/>
<line x1="526.61" y1="138.5" x2="526.61" y2="141.5" stroke="#333" stroke-width="0.9"/>
<line x1="526.61" y1="239.5" x2="526.61" y2="236.5" stroke="#333" stroke-width="0.9"/>
<line x1="561.58" y1="138.5" x2="561.58" y2="144.5" stroke="#333" stroke-width="0.9"/>
<line x1="561.58" y1="239.5" x2="561.58" y2="233.5" stroke="#333" stroke-width="0.9"/>
<line x1="596.55" y1="138.5" x2="596.55" y2="141.5" stroke="#333" stroke-width="0.9"/>
<line x1="596.55" y1="239.5" x2="596.55" y2="236.5" stroke="#333" stroke-width="0.9"/>
<line x1="631.52" y1="138.5" x2="631.52" y2="144.5" stroke="#333" stroke-width="0.9"/>
<line x1="631.52" y1="239.5" x2="631.52" y2="233.5" stroke="#333" stroke-width="0.9"/>
<text x="61.1" y="143.4" font-size="9.5" textLength="5.1" lengthAdjust="spacingAndGlyphs">4</text>
<text x="61.1" y="167" font-size="9.5" textLength="5.8" lengthAdjust="spacingAndGlyphs">3</text>
<text x="61.5" y="192.7" font-size="9.5" textLength="5.4" lengthAdjust="spacingAndGlyphs">2</text>
<text x="63.5" y="218.4" font-size="9.5" textLength="3" lengthAdjust="spacingAndGlyphs">1</text>
<text x="60.8" y="239.9" font-size="9.5" textLength="6.1" lengthAdjust="spacingAndGlyphs">0</text>
<text transform="translate(50.1 218.2) rotate(-90)" x="-0" y="0" font-size="11" fill="#222" textLength="58.6" lengthAdjust="spacingAndGlyphs">Shape PAD</text>
<line x1="72.5" y1="214.2" x2="631.5" y2="214.2" stroke="#333" stroke-width="0.8" stroke-dasharray="2.2 3.4"/>
<g clip-path="url(#bclip)" fill="none" stroke-linejoin="round">
<clipPath id="bclip"><rect x="72.5" y="138.5" width="559" height="101"/></clipPath>
<polyline points="71.8,206.5 73.2,203.9 78,202.9 80.5,193.4 82.4,194.1 85.3,180.3 87.5,191.9 89.7,191.2 91.9,194.9 94.5,182.4 97,186.1 99.2,186.4 101.4,194.9 104.3,194.9 106.5,157.6 108.2,161.3 109.4,167.1 111.2,190.5 112.6,137.9" stroke="#a8141e" stroke-width="1.25"/>
<polyline points="116.4,137.9 117.9,167.8" stroke="#a8141e" stroke-width="1.25"/>
<polyline points="138.6,156.9 140.8,137.9" stroke="#a8141e" stroke-width="1.25"/>
<polyline points="147.4,137.9 150,183.2 152.9,197" stroke="#a8141e" stroke-width="1.25"/>
<polyline points="158.3,137.9 160.2,191.2" stroke="#a8141e" stroke-width="1.25"/>
<polyline points="185.5,186.8 187.7,173 189.9,191.9 192.1,194.9 195,177.3 197.2,193.4 199.4,184.6 202,181.4 204.1,194.9 206.7,181.4 208.9,187.8 211.1,179.5 213.3,193.4 215.8,203.3 218.1,189 220.6,181.7 222.8,185.4 225.4,204.3 227.4,205.1 229.8,188.3 231.8,187.6 234.2,197.8 236.2,202.9 238.8,194.1 241.5,190.2 243.9,197 246.1,189 248.8,197.8 250.8,188.3 253.1,202.9 256.4,197.8 257.9,195.6 260.5,190.5 262.6,197.8 264.9,192.7 267.8,205.8 269.6,205.1 271.8,199.2 274.7,197 276.6,195.1 278.6,205.1 281,195.6 283.5,197.8 285.9,201.4 288.3,194.9 290.8,201.4 293.2,199.2 295.6,197 297.6,181.7 299.5,191.9 301.7,183.2 304.6,202.2 306.8,171.5 308.7,173.7 311.2,166.8 313.1,173.7 314.1,175.9 316.3,171.5 319.2,169.3 322.2,170 324.8,170.8 327.3,170" stroke="#a8141e" stroke-width="1.25"/>
<polyline points="330.2,170 332.4,172.7" stroke="#a8141e" stroke-width="1.25"/>
<polyline points="353.2,163.9 355.5,168.9 357.3,166 359.5,167.1 361.7,166.8 363.4,170 365.3,171.5 367.5,172.7 369.7,175.1 371.6,186.1 373.6,183.5 375.5,189.7 377.4,199.2 379.2,207.3 381.4,210.2 384.3,210.2 388,209.7 390.6,205.8 393.1,202.9 395.3,205.8 397.9,202.4 400.4,188.3 402.6,198.1 404.7,189.3 406.9,207.7 409.6,189.3 411.6,203.3 414.2,200 416.4,195.1 418.6,197.8 420.8,206.5 423,194.9 425.6,203.6 428.1,212.4 431,200 434.7,189.3 437.3,200 439.8,209.5 442.3,194.9 444.6,203.3 446.8,207.3 449.1,194.9 451.6,208 453.8,201.4 455.9,199.2 458.4,194.1 460.8,204.3 463.2,191.2 465.4,191.2 467.6,204.3 470.1,172.7 472.4,213.1 474.9,195.1 476.8,196 479.3,202.4 481.5,198.5 484.1,209.5 486.6,209.5 488.8,200 491,201.4 493.2,197 495.8,206.2 498.3,201.4 500.8,200.7 503.1,200.7 505.1,195.6 507.5,195.1 510,202.9 512.2,207.7 514.8,202.4 516.8,204.3 519.2,202.4 521.6,204.3 523.8,204.8 526,198.9 528.2,204.8 530.8,200.7 533.3,201.4 535.5,207.3 538.1,201.4 540.6,199.2 542.6,200 544.7,204.3 547.3,194.9 549.5,198.5 551.7,201.4 553.9,200.7 555.8,203.6 558.7,195.6 560.7,205.1 563.1,210.6 565.5,200 567.7,197 570.4,195.1 572.4,206.5 574.7,202.2 576.8,205.8 579.1,200.7 581.2,202.2 583.5,199.2 585.5,199.2 587.9,202.2 589.6,206.5 591.4,212.1 593.7,203.6 596.2,193.1 598.4,197.8 600.1,203.6 602.5,193.4 605.4,190.5 607.4,203.6 609.8,201.9 612.7,200 614.7,198.9 616.6,205.8 618.8,202.4 621,202.4 623.9,205.8 626.1,202.4 628.8,199.2 631.2,199.2" stroke="#a8141e" stroke-width="1.25"/>
<polyline points="71.8,214.6 73.2,218.2 75.1,213.8 78,212.4 80.5,220.4 82.4,216.8 85.3,213.8 87.5,214.6 89.7,216.8 91.9,212.4 94.5,211.2 97,214.1 99.2,211.6 101.4,208 103.9,216.8 106.5,213.8 108.7,213.1 110.9,189.7 112.6,191.9 114.5,205.1 116,223.3 117.4,218.2" stroke="#12ee84" stroke-width="1.25"/>
<polyline points="138.6,218.9 141.5,210.2 143.7,213.8 145.9,224.1 148.1,198.5 150,205.1 152.9,210.9" stroke="#12ee84" stroke-width="1.25"/>
<polyline points="157.6,218.9 159.3,222.6" stroke="#12ee84" stroke-width="1.25"/>
<polyline points="164.8,206.2 166.6,208.2" stroke="#12ee84" stroke-width="1.25"/>
<polyline points="185.5,213.1 187.7,196.3 189.2,213.8 190.4,216.8 192.4,208 194.7,210.9 197.2,209.5 199.4,208 202.3,211.6 204.5,208.7 206.7,206.5 208.9,211.6 211.1,206.5 213.3,217.9 215.5,210.2 218.1,210.9 220.6,206.8 223.1,212.4 225.4,216 227.4,213.1 229.8,213.8 231.8,207.3 234.2,213.1 236.2,209.5 238.8,215.3 241.5,211.6 243.9,211.6 246.1,210.9 248.3,205.1 250.8,210.9 253.1,213.1 255.2,215.2 257.6,210.2 260.1,210.9 263,211.6 265.2,214.6 267,217 268.9,212.4 271.8,210.9 274.7,208.7 276.9,208 279.1,209.5 281.3,208.7 283.5,211.6 285.7,206.5 287.8,210.2 290.3,212.1 292.7,205.1 295.6,199.2 297.6,189.7 299.5,193.4 301.4,186.1 303.9,186.8 306.1,183.2 307.6,175.9 309.7,173.7 311.9,173.7 314.1,174.1 316.3,172.7 319.2,172.7 322.2,172.2 325.1,171.8 327.7,170.3 330.2,172.7 332.7,176.2" stroke="#12ee84" stroke-width="1.25"/>
<polyline points="346.2,175.1 348.4,173.7 350.2,173.3 352.2,171.2 354.4,170 357.3,170 360.2,170 362.4,170.8 363.9,174.4 365.3,183.2 367.2,181.4 369.7,181.4 371.6,193.4 373.4,202.2 375.1,208.7 377,209.5 378.9,218.2 381.4,217.5 385,216.5 387.2,217.5 390.1,221.1 393.5,224.3 396,221.1 398.2,217 400.4,220.4 402.6,208.7 405.2,201 406.9,217.5 409.9,218.5 412.5,218.9 415,219.4 417.2,219.7 419.8,224.1 422.3,221.9 425.2,221.1 428.1,218.9 430.3,223.3 433.2,221.1 436.1,219.4 439.1,217.5 442.3,215 444.6,221.1 447.2,224.3 450.1,224.1 453,222.3 455.9,219.7 458.4,208 460.8,223.3 463.2,217.9 465.4,223.3 467.6,222.3 469.8,223.3 472.4,213.8 474.9,221.1 477.4,223.3 479.7,220.4 482.2,221.9 484.7,222.6 486.6,224.1 488.8,207.7 491.4,214.6 493.5,222.3 495.8,211.2 498.3,222.6 500.8,224.3 503.1,218.5 505.1,222.3 507.5,224.1 510,218.9 512.2,222.3 514.8,217.9 516.8,213.1 519.2,222.3 521.6,217.9 523.8,210.2 526,222.3 528.2,224.1 530.8,217.9 533.3,221.1 535.5,222.3 538.1,217 540.6,221.1 542.2,223.3 544.4,224.3 547,219.4 549.1,219.7 551.7,217 553.4,221.1 555.8,223.8 558.7,221.1 561.6,218.5 563.6,220 565.5,221.1 567.7,217.9 569.9,222.6 572.4,224.3 574.7,222.6 576.8,221.1 579.4,213.8 581.6,214.6 583.8,221.4 586.4,212.1 588.9,212.4 591.4,219.7 593.7,210.9 596.2,202.4 598.1,207.3 600.1,208.7 601.3,137.9 604.5,137.9 607.4,207.3 610.1,210.9 612.3,201.9 614.5,210.6 616.6,202.2 618.8,206.8 621,221.1 623.5,215.6 625.4,220.8 627.3,212.4 628.8,193.4 630.2,219.7 631.2,203.6" stroke="#12ee84" stroke-width="1.25"/>
</g>
<text x="638.2" y="162.8" font-size="12.4" fill="#a8141e" textLength="45.8" lengthAdjust="spacingAndGlyphs">Towards</text>
<text x="638.2" y="214.8" font-size="12" fill="#12ee84" textLength="29" lengthAdjust="spacingAndGlyphs">Away</text>
<line x1="235" y1="21.5" x2="235" y2="239.5" stroke="#111" stroke-width="1.7" stroke-dasharray="7.7 8.5" stroke-dashoffset="2.4"/>
<line x1="304.5" y1="21.5" x2="304.5" y2="239.5" stroke="#111" stroke-width="1.7" stroke-dasharray="7.7 8.5" stroke-dashoffset="2.4"/>
<line x1="363" y1="21.5" x2="363" y2="239.5" stroke="#111" stroke-width="1.7" stroke-dasharray="7.7 8.5" stroke-dashoffset="2.4"/>
<line x1="420.2" y1="21.5" x2="420.2" y2="239.5" stroke="#111" stroke-width="1.7" stroke-dasharray="7.7 8.5" stroke-dashoffset="2.4"/>
<line x1="276.4" y1="20.4" x2="276.4" y2="241" stroke="#111" stroke-width="1.6" stroke-dasharray="1.5 4.4"/>
<line x1="385.9" y1="20.4" x2="385.9" y2="241" stroke="#111" stroke-width="1.6" stroke-dasharray="1.5 4.4"/>
<text x="0.7" y="255" font-size="10.4" textLength="18.3" lengthAdjust="spacingAndGlyphs">orb</text>
<text x="0.6" y="267.3" font-size="10.4" textLength="37.6" lengthAdjust="spacingAndGlyphs">hh:mm</text>
<text x="0.6" y="279.1" font-size="10.6" textLength="88.4" lengthAdjust="spacingAndGlyphs">19 October 2016</text>
<text x="50.9" y="255" font-size="10.2" textLength="42.21" lengthAdjust="spacingAndGlyphs">4,002.9</text>
<text x="56.3" y="267.3" font-size="10.4" textLength="31.41" lengthAdjust="spacingAndGlyphs">20:48</text>
<text x="120.84" y="255" font-size="10.2" textLength="42.21" lengthAdjust="spacingAndGlyphs">4,002.9</text>
<text x="126.24" y="267.3" font-size="10.4" textLength="31.41" lengthAdjust="spacingAndGlyphs">20:49</text>
<text x="190.78" y="255" font-size="10.2" textLength="42.21" lengthAdjust="spacingAndGlyphs">4,002.9</text>
<text x="196.18" y="267.3" font-size="10.4" textLength="31.41" lengthAdjust="spacingAndGlyphs">20:50</text>
<text x="260.72" y="255" font-size="10.2" textLength="42.21" lengthAdjust="spacingAndGlyphs">4,002.9</text>
<text x="266.12" y="267.3" font-size="10.4" textLength="31.41" lengthAdjust="spacingAndGlyphs">20:51</text>
<text x="330.66" y="255" font-size="10.2" textLength="42.21" lengthAdjust="spacingAndGlyphs">4,002.9</text>
<text x="336.06" y="267.3" font-size="10.4" textLength="31.41" lengthAdjust="spacingAndGlyphs">20:52</text>
<text x="400.6" y="255" font-size="10.2" textLength="42.21" lengthAdjust="spacingAndGlyphs">4,003.0</text>
<text x="406" y="267.3" font-size="10.4" textLength="31.41" lengthAdjust="spacingAndGlyphs">20:53</text>
<text x="470.54" y="255" font-size="10.2" textLength="42.21" lengthAdjust="spacingAndGlyphs">4,003.0</text>
<text x="475.94" y="267.3" font-size="10.4" textLength="31.41" lengthAdjust="spacingAndGlyphs">20:54</text>
<text x="540.48" y="255" font-size="10.2" textLength="42.21" lengthAdjust="spacingAndGlyphs">4,003.0</text>
<text x="545.88" y="267.3" font-size="10.4" textLength="31.41" lengthAdjust="spacingAndGlyphs">20:55</text>
<text x="610.42" y="255" font-size="10.2" textLength="42.21" lengthAdjust="spacingAndGlyphs">4,003.0</text>
<text x="615.82" y="267.3" font-size="10.4" textLength="31.41" lengthAdjust="spacingAndGlyphs">20:56</text>
<path d="M73.5,409.3H75.6V406.3H79.74V393.5H83.87V388.4H88.01V384.3H92.14V387.4H96.28V385.1H100.42V384.3H104.55V387.4H108.69V385.5H112.82V387.2H116.96V397.8H121.1V401.2H125.23V413.4H129.37V424.3H133.5V412.2H137.64V413.1H141.78V408.8H145.91V409.3H150.05V426.3H154.18V429.2H158.32V429.2H162.46V434.4H166.59V434.4H170.73V434.4H174.86V442.5H179V468.8H183.14V455.3H187.27V442.5H191.41V468.8H195.54V564.5H199.68V468.8H203.82V455.3H207.95V564.5H212.09V455.5H216.22V455.5H220.36V468.8H224.5V564.5H228.63V564.5H232.77V564.5H236.9V468.4H241.04V564.5H245.18V564.5H249.31V564.5H253.45V467.4H257.58V564.5H261.72V564.5H265.86V564.5H269.99V564.5H274.13V564.5H278.26V564.5H282.4V564.5H286.54V564.5H290.67V564.5H294.81V564.5H298.94V564.5H303.08V564.5H307.22V564.5H311.35V564.5H315.49V564.5H319.62V564.5H323.76V564.5H327.9V564.5H332.03V564.5H336.17V564.5H337.5" fill="none" stroke="#ff2d2d" stroke-width="1.05"/>
<path d="M73.5,402.2H75.6V394.5H79.74V394.3H83.87V388.6H88.01V387.4H92.14V383.3H96.28V379.9H100.42V379.4H104.55V387.4H108.69V386.9H112.82V393.5H116.96V397.4H121.1V405.3H125.23V416.8H129.37V417H133.5V416.5H137.64V419.5H141.78V429.2H145.91V429.2H150.05V426.6H154.18V431.3H158.32V424.5H162.46V452.6H166.59V460.4H170.73V442.8H174.86V452.6H179V452.6H183.14V447.3H187.27V442.6H191.41V460.4H195.54V564.5H199.68V442.9H203.82V447.3H207.95V473.3H212.09V473.3H216.22V564.5H220.36V564.5H224.5V460.5H228.63V446.8H232.77V473H236.9V473H241.04V564.5H245.18V472.5H249.31V564.5H253.45V564.5H257.58V564.5H261.72V564.5H265.86V564.5H269.99V564.5H274.13V564.5H278.26V564.5H282.4V564.5H286.54V564.5H290.67V564.5H294.81V564.5H298.94V564.5H303.08V564.5H307.22V564.5H311.35V564.5H315.49V564.5H319.62V564.5H323.76V564.5H327.9V564.5H332.03V564.5H336.17V564.5H337.5" fill="none" stroke="#2d2dff" stroke-width="1.05"/>
<line x1="73.5" y1="302.5" x2="337.5" y2="302.5" stroke="#444" stroke-width="1"/>
<line x1="337.5" y1="302.5" x2="337.5" y2="564.5" stroke="#555" stroke-width="1"/>
<line x1="73.2" y1="302.5" x2="73.2" y2="565" stroke="#9a9a9a" stroke-width="1.3"/>
<line x1="73.5" y1="564.5" x2="79" y2="564.5" stroke="#555" stroke-width="0.85"/>
<line x1="73.5" y1="551.36" x2="76.1" y2="551.36" stroke="#555" stroke-width="0.85"/>
<line x1="73.5" y1="543.67" x2="76.1" y2="543.67" stroke="#555" stroke-width="0.85"/>
<line x1="73.5" y1="538.21" x2="76.1" y2="538.21" stroke="#555" stroke-width="0.85"/>
<line x1="73.5" y1="533.98" x2="76.1" y2="533.98" stroke="#555" stroke-width="0.85"/>
<line x1="73.5" y1="530.52" x2="76.1" y2="530.52" stroke="#555" stroke-width="0.85"/>
<line x1="73.5" y1="527.6" x2="76.1" y2="527.6" stroke="#555" stroke-width="0.85"/>
<line x1="73.5" y1="525.07" x2="76.1" y2="525.07" stroke="#555" stroke-width="0.85"/>
<line x1="73.5" y1="522.83" x2="76.1" y2="522.83" stroke="#555" stroke-width="0.85"/>
<line x1="73.5" y1="520.83" x2="79" y2="520.83" stroke="#555" stroke-width="0.85"/>
<line x1="73.5" y1="507.69" x2="76.1" y2="507.69" stroke="#555" stroke-width="0.85"/>
<line x1="73.5" y1="500" x2="76.1" y2="500" stroke="#555" stroke-width="0.85"/>
<line x1="73.5" y1="494.54" x2="76.1" y2="494.54" stroke="#555" stroke-width="0.85"/>
<line x1="73.5" y1="490.31" x2="76.1" y2="490.31" stroke="#555" stroke-width="0.85"/>
<line x1="73.5" y1="486.85" x2="76.1" y2="486.85" stroke="#555" stroke-width="0.85"/>
<line x1="73.5" y1="483.93" x2="76.1" y2="483.93" stroke="#555" stroke-width="0.85"/>
<line x1="73.5" y1="481.4" x2="76.1" y2="481.4" stroke="#555" stroke-width="0.85"/>
<line x1="73.5" y1="479.16" x2="76.1" y2="479.16" stroke="#555" stroke-width="0.85"/>
<line x1="73.5" y1="477.17" x2="79" y2="477.17" stroke="#555" stroke-width="0.85"/>
<line x1="73.5" y1="464.02" x2="76.1" y2="464.02" stroke="#555" stroke-width="0.85"/>
<line x1="73.5" y1="456.33" x2="76.1" y2="456.33" stroke="#555" stroke-width="0.85"/>
<line x1="73.5" y1="450.88" x2="76.1" y2="450.88" stroke="#555" stroke-width="0.85"/>
<line x1="73.5" y1="446.64" x2="76.1" y2="446.64" stroke="#555" stroke-width="0.85"/>
<line x1="73.5" y1="443.19" x2="76.1" y2="443.19" stroke="#555" stroke-width="0.85"/>
<line x1="73.5" y1="440.26" x2="76.1" y2="440.26" stroke="#555" stroke-width="0.85"/>
<line x1="73.5" y1="437.73" x2="76.1" y2="437.73" stroke="#555" stroke-width="0.85"/>
<line x1="73.5" y1="435.5" x2="76.1" y2="435.5" stroke="#555" stroke-width="0.85"/>
<line x1="73.5" y1="433.5" x2="79" y2="433.5" stroke="#555" stroke-width="0.85"/>
<line x1="73.5" y1="420.36" x2="76.1" y2="420.36" stroke="#555" stroke-width="0.85"/>
<line x1="73.5" y1="412.67" x2="76.1" y2="412.67" stroke="#555" stroke-width="0.85"/>
<line x1="73.5" y1="407.21" x2="76.1" y2="407.21" stroke="#555" stroke-width="0.85"/>
<line x1="73.5" y1="402.98" x2="76.1" y2="402.98" stroke="#555" stroke-width="0.85"/>
<line x1="73.5" y1="399.52" x2="76.1" y2="399.52" stroke="#555" stroke-width="0.85"/>
<line x1="73.5" y1="396.6" x2="76.1" y2="396.6" stroke="#555" stroke-width="0.85"/>
<line x1="73.5" y1="394.07" x2="76.1" y2="394.07" stroke="#555" stroke-width="0.85"/>
<line x1="73.5" y1="391.83" x2="76.1" y2="391.83" stroke="#555" stroke-width="0.85"/>
<line x1="73.5" y1="389.83" x2="79" y2="389.83" stroke="#555" stroke-width="0.85"/>
<line x1="73.5" y1="376.69" x2="76.1" y2="376.69" stroke="#555" stroke-width="0.85"/>
<line x1="73.5" y1="369" x2="76.1" y2="369" stroke="#555" stroke-width="0.85"/>
<line x1="73.5" y1="363.54" x2="76.1" y2="363.54" stroke="#555" stroke-width="0.85"/>
<line x1="73.5" y1="359.31" x2="76.1" y2="359.31" stroke="#555" stroke-width="0.85"/>
<line x1="73.5" y1="355.85" x2="76.1" y2="355.85" stroke="#555" stroke-width="0.85"/>
<line x1="73.5" y1="352.93" x2="76.1" y2="352.93" stroke="#555" stroke-width="0.85"/>
<line x1="73.5" y1="350.4" x2="76.1" y2="350.4" stroke="#555" stroke-width="0.85"/>
<line x1="73.5" y1="348.16" x2="76.1" y2="348.16" stroke="#555" stroke-width="0.85"/>
<line x1="73.5" y1="346.17" x2="79" y2="346.17" stroke="#555" stroke-width="0.85"/>
<line x1="73.5" y1="333.02" x2="76.1" y2="333.02" stroke="#555" stroke-width="0.85"/>
<line x1="73.5" y1="325.33" x2="76.1" y2="325.33" stroke="#555" stroke-width="0.85"/>
<line x1="73.5" y1="319.88" x2="76.1" y2="319.88" stroke="#555" stroke-width="0.85"/>
<line x1="73.5" y1="315.64" x2="76.1" y2="315.64" stroke="#555" stroke-width="0.85"/>
<line x1="73.5" y1="312.19" x2="76.1" y2="312.19" stroke="#555" stroke-width="0.85"/>
<line x1="73.5" y1="309.26" x2="76.1" y2="309.26" stroke="#555" stroke-width="0.85"/>
<line x1="73.5" y1="306.73" x2="76.1" y2="306.73" stroke="#555" stroke-width="0.85"/>
<line x1="73.5" y1="304.5" x2="76.1" y2="304.5" stroke="#555" stroke-width="0.85"/>
<line x1="73.13" y1="564.5" x2="73.13" y2="561.9" stroke="#666" stroke-width="0.8"/>
<line x1="83.35" y1="564.5" x2="83.35" y2="561.9" stroke="#666" stroke-width="0.8"/>
<line x1="91.28" y1="564.5" x2="91.28" y2="561.9" stroke="#666" stroke-width="0.8"/>
<line x1="97.75" y1="564.5" x2="97.75" y2="561.9" stroke="#666" stroke-width="0.8"/>
<line x1="103.23" y1="564.5" x2="103.23" y2="561.9" stroke="#666" stroke-width="0.8"/>
<line x1="107.97" y1="564.5" x2="107.97" y2="561.9" stroke="#666" stroke-width="0.8"/>
<line x1="112.16" y1="564.5" x2="112.16" y2="561.9" stroke="#666" stroke-width="0.8"/>
<line x1="115.9" y1="564.5" x2="115.9" y2="559.5" stroke="#666" stroke-width="0.8"/>
<line x1="140.52" y1="564.5" x2="140.52" y2="561.9" stroke="#666" stroke-width="0.8"/>
<line x1="154.93" y1="564.5" x2="154.93" y2="561.9" stroke="#666" stroke-width="0.8"/>
<line x1="165.15" y1="564.5" x2="165.15" y2="561.9" stroke="#666" stroke-width="0.8"/>
<line x1="173.08" y1="564.5" x2="173.08" y2="561.9" stroke="#666" stroke-width="0.8"/>
<line x1="179.55" y1="564.5" x2="179.55" y2="561.9" stroke="#666" stroke-width="0.8"/>
<line x1="185.03" y1="564.5" x2="185.03" y2="561.9" stroke="#666" stroke-width="0.8"/>
<line x1="189.77" y1="564.5" x2="189.77" y2="561.9" stroke="#666" stroke-width="0.8"/>
<line x1="193.96" y1="564.5" x2="193.96" y2="561.9" stroke="#666" stroke-width="0.8"/>
<line x1="197.7" y1="564.5" x2="197.7" y2="559.5" stroke="#666" stroke-width="0.8"/>
<line x1="222.32" y1="564.5" x2="222.32" y2="561.9" stroke="#666" stroke-width="0.8"/>
<line x1="236.73" y1="564.5" x2="236.73" y2="561.9" stroke="#666" stroke-width="0.8"/>
<line x1="246.95" y1="564.5" x2="246.95" y2="561.9" stroke="#666" stroke-width="0.8"/>
<line x1="254.88" y1="564.5" x2="254.88" y2="561.9" stroke="#666" stroke-width="0.8"/>
<line x1="261.35" y1="564.5" x2="261.35" y2="561.9" stroke="#666" stroke-width="0.8"/>
<line x1="266.83" y1="564.5" x2="266.83" y2="561.9" stroke="#666" stroke-width="0.8"/>
<line x1="271.57" y1="564.5" x2="271.57" y2="561.9" stroke="#666" stroke-width="0.8"/>
<line x1="275.76" y1="564.5" x2="275.76" y2="561.9" stroke="#666" stroke-width="0.8"/>
<line x1="279.5" y1="564.5" x2="279.5" y2="559.5" stroke="#666" stroke-width="0.8"/>
<line x1="304.12" y1="564.5" x2="304.12" y2="561.9" stroke="#666" stroke-width="0.8"/>
<line x1="318.53" y1="564.5" x2="318.53" y2="561.9" stroke="#666" stroke-width="0.8"/>
<line x1="328.75" y1="564.5" x2="328.75" y2="561.9" stroke="#666" stroke-width="0.8"/>
<line x1="336.68" y1="564.5" x2="336.68" y2="561.9" stroke="#666" stroke-width="0.8"/>
<text x="52.2" y="567.3" font-size="10.4" textLength="10.8" lengthAdjust="spacingAndGlyphs">10</text>
<text x="63.3" y="561.5" font-size="6.4" textLength="3.6" lengthAdjust="spacingAndGlyphs">4</text>
<text x="52.2" y="523.63" font-size="10.4" textLength="10.8" lengthAdjust="spacingAndGlyphs">10</text>
<text x="63.3" y="517.83" font-size="6.4" textLength="3.6" lengthAdjust="spacingAndGlyphs">5</text>
<text x="52.2" y="479.97" font-size="10.4" textLength="10.8" lengthAdjust="spacingAndGlyphs">10</text>
<text x="63.3" y="474.17" font-size="6.4" textLength="3.6" lengthAdjust="spacingAndGlyphs">6</text>
<text x="52.2" y="436.3" font-size="10.4" textLength="10.8" lengthAdjust="spacingAndGlyphs">10</text>
<text x="63.3" y="430.5" font-size="6.4" textLength="3.6" lengthAdjust="spacingAndGlyphs">7</text>
<text x="52.2" y="392.63" font-size="10.4" textLength="10.8" lengthAdjust="spacingAndGlyphs">10</text>
<text x="63.3" y="386.83" font-size="6.4" textLength="3.6" lengthAdjust="spacingAndGlyphs">8</text>
<text x="52.2" y="348.97" font-size="10.4" textLength="10.8" lengthAdjust="spacingAndGlyphs">10</text>
<text x="63.3" y="343.17" font-size="6.4" textLength="3.6" lengthAdjust="spacingAndGlyphs">9</text>
<text x="49.3" y="306" font-size="10.4" textLength="10.7" lengthAdjust="spacingAndGlyphs">10</text>
<text x="60.4" y="300" font-size="6.4" textLength="5.9" lengthAdjust="spacingAndGlyphs">10</text>
<text x="110.5" y="577.2" font-size="10.3" textLength="9.8" lengthAdjust="spacingAndGlyphs">10</text>
<text x="189.2" y="577.2" font-size="10.3" textLength="17" lengthAdjust="spacingAndGlyphs">100</text>
<text x="266.9" y="577.2" font-size="10.3" textLength="25.9" lengthAdjust="spacingAndGlyphs">1,000</text>
<path d="M367.5,394.7H369.6V418.2H373.74V406.5H377.87V403.4H382.01V404.2H386.14V404.4H390.28V404.4H394.42V413.4H398.55V412.4H402.69V401.1H406.82V414.6H410.96V406.5H415.1V403.4H419.23V403.4H423.37V403.4H427.5V412.4H431.64V403.5H435.78V406.1H439.91V400.5H444.05V399.5H448.18V396.4H452.32V396H456.46V394.3H460.59V391.3H464.73V382.1H468.86V380H473V381.4H477.14V378.5H481.27V383.1H485.41V386.2H489.54V388.7H493.68V396.9H497.82V413.4H501.95V420H506.09V433.3H510.22V441H514.36V433.3H518.5V440.7H522.63V467.2H526.77V564.5H530.9V440.6H535.04V466.8H539.18V564.5H543.31V564.5H547.45V445.4H551.58V564.5H555.72V465.9H559.86V564.5H563.99V564.5H568.13V564.5H572.26V564.5H576.4V564.5H580.54V564.5H584.67V564.5H588.81V564.5H592.94V564.5H597.08V564.5H601.22V564.5H605.35V564.5H609.49V564.5H613.62V564.5H617.76V564.5H621.9V564.5H626.03V564.5H630.17V564.5H631.5" fill="none" stroke="#ff2d2d" stroke-width="1.05"/>
<path d="M367.5,397.3H369.6V401.9H373.74V410H377.87V410H382.01V406H386.14V404.9H390.28V399.3H394.42V403.4H398.55V410H402.69V404.9H406.82V400.3H410.96V403.4H415.1V409H419.23V412.4H423.37V402.6H427.5V404.4H431.64V406.5H435.78V399.5H439.91V396.4H444.05V398.4H448.18V395.9H452.32V388.2H456.46V381.6H460.59V381.6H464.73V378.3H468.86V373.2H473V366.4H477.14V362.7H481.27V364.4H485.41V367.3H489.54V388.2H493.68V395.6H497.82V419.5H501.95V416.7H506.09V418.5H510.22V435.4H514.36V433H518.5V440.6H522.63V437.2H526.77V461.3H530.9V564.5H535.04V474.2H539.18V453.4H543.31V564.5H547.45V460.3H551.58V564.5H555.72V564.5H559.86V564.5H563.99V564.5H568.13V564.5H572.26V564.5H576.4V564.5H580.54V564.5H584.67V564.5H588.81V564.5H592.94V564.5H597.08V564.5H601.22V564.5H605.35V564.5H609.49V564.5H613.62V564.5H617.76V564.5H621.9V564.5H626.03V564.5H630.17V564.5H631.5" fill="none" stroke="#2d2dff" stroke-width="1.05"/>
<line x1="367.5" y1="302.5" x2="631.5" y2="302.5" stroke="#444" stroke-width="1"/>
<line x1="631.5" y1="302.5" x2="631.5" y2="564.5" stroke="#555" stroke-width="1"/>
<line x1="367.2" y1="302.5" x2="367.2" y2="565" stroke="#9a9a9a" stroke-width="1.3"/>
<line x1="367.5" y1="564.5" x2="373" y2="564.5" stroke="#555" stroke-width="0.85"/>
<line x1="367.5" y1="551.36" x2="370.1" y2="551.36" stroke="#555" stroke-width="0.85"/>
<line x1="367.5" y1="543.67" x2="370.1" y2="543.67" stroke="#555" stroke-width="0.85"/>
<line x1="367.5" y1="538.21" x2="370.1" y2="538.21" stroke="#555" stroke-width="0.85"/>
<line x1="367.5" y1="533.98" x2="370.1" y2="533.98" stroke="#555" stroke-width="0.85"/>
<line x1="367.5" y1="530.52" x2="370.1" y2="530.52" stroke="#555" stroke-width="0.85"/>
<line x1="367.5" y1="527.6" x2="370.1" y2="527.6" stroke="#555" stroke-width="0.85"/>
<line x1="367.5" y1="525.07" x2="370.1" y2="525.07" stroke="#555" stroke-width="0.85"/>
<line x1="367.5" y1="522.83" x2="370.1" y2="522.83" stroke="#555" stroke-width="0.85"/>
<line x1="367.5" y1="520.83" x2="373" y2="520.83" stroke="#555" stroke-width="0.85"/>
<line x1="367.5" y1="507.69" x2="370.1" y2="507.69" stroke="#555" stroke-width="0.85"/>
<line x1="367.5" y1="500" x2="370.1" y2="500" stroke="#555" stroke-width="0.85"/>
<line x1="367.5" y1="494.54" x2="370.1" y2="494.54" stroke="#555" stroke-width="0.85"/>
<line x1="367.5" y1="490.31" x2="370.1" y2="490.31" stroke="#555" stroke-width="0.85"/>
<line x1="367.5" y1="486.85" x2="370.1" y2="486.85" stroke="#555" stroke-width="0.85"/>
<line x1="367.5" y1="483.93" x2="370.1" y2="483.93" stroke="#555" stroke-width="0.85"/>
<line x1="367.5" y1="481.4" x2="370.1" y2="481.4" stroke="#555" stroke-width="0.85"/>
<line x1="367.5" y1="479.16" x2="370.1" y2="479.16" stroke="#555" stroke-width="0.85"/>
<line x1="367.5" y1="477.17" x2="373" y2="477.17" stroke="#555" stroke-width="0.85"/>
<line x1="367.5" y1="464.02" x2="370.1" y2="464.02" stroke="#555" stroke-width="0.85"/>
<line x1="367.5" y1="456.33" x2="370.1" y2="456.33" stroke="#555" stroke-width="0.85"/>
<line x1="367.5" y1="450.88" x2="370.1" y2="450.88" stroke="#555" stroke-width="0.85"/>
<line x1="367.5" y1="446.64" x2="370.1" y2="446.64" stroke="#555" stroke-width="0.85"/>
<line x1="367.5" y1="443.19" x2="370.1" y2="443.19" stroke="#555" stroke-width="0.85"/>
<line x1="367.5" y1="440.26" x2="370.1" y2="440.26" stroke="#555" stroke-width="0.85"/>
<line x1="367.5" y1="437.73" x2="370.1" y2="437.73" stroke="#555" stroke-width="0.85"/>
<line x1="367.5" y1="435.5" x2="370.1" y2="435.5" stroke="#555" stroke-width="0.85"/>
<line x1="367.5" y1="433.5" x2="373" y2="433.5" stroke="#555" stroke-width="0.85"/>
<line x1="367.5" y1="420.36" x2="370.1" y2="420.36" stroke="#555" stroke-width="0.85"/>
<line x1="367.5" y1="412.67" x2="370.1" y2="412.67" stroke="#555" stroke-width="0.85"/>
<line x1="367.5" y1="407.21" x2="370.1" y2="407.21" stroke="#555" stroke-width="0.85"/>
<line x1="367.5" y1="402.98" x2="370.1" y2="402.98" stroke="#555" stroke-width="0.85"/>
<line x1="367.5" y1="399.52" x2="370.1" y2="399.52" stroke="#555" stroke-width="0.85"/>
<line x1="367.5" y1="396.6" x2="370.1" y2="396.6" stroke="#555" stroke-width="0.85"/>
<line x1="367.5" y1="394.07" x2="370.1" y2="394.07" stroke="#555" stroke-width="0.85"/>
<line x1="367.5" y1="391.83" x2="370.1" y2="391.83" stroke="#555" stroke-width="0.85"/>
<line x1="367.5" y1="389.83" x2="373" y2="389.83" stroke="#555" stroke-width="0.85"/>
<line x1="367.5" y1="376.69" x2="370.1" y2="376.69" stroke="#555" stroke-width="0.85"/>
<line x1="367.5" y1="369" x2="370.1" y2="369" stroke="#555" stroke-width="0.85"/>
<line x1="367.5" y1="363.54" x2="370.1" y2="363.54" stroke="#555" stroke-width="0.85"/>
<line x1="367.5" y1="359.31" x2="370.1" y2="359.31" stroke="#555" stroke-width="0.85"/>
<line x1="367.5" y1="355.85" x2="370.1" y2="355.85" stroke="#555" stroke-width="0.85"/>
<line x1="367.5" y1="352.93" x2="370.1" y2="352.93" stroke="#555" stroke-width="0.85"/>
<line x1="367.5" y1="350.4" x2="370.1" y2="350.4" stroke="#555" stroke-width="0.85"/>
<line x1="367.5" y1="348.16" x2="370.1" y2="348.16" stroke="#555" stroke-width="0.85"/>
<line x1="367.5" y1="346.17" x2="373" y2="346.17" stroke="#555" stroke-width="0.85"/>
<line x1="367.5" y1="333.02" x2="370.1" y2="333.02" stroke="#555" stroke-width="0.85"/>
<line x1="367.5" y1="325.33" x2="370.1" y2="325.33" stroke="#555" stroke-width="0.85"/>
<line x1="367.5" y1="319.88" x2="370.1" y2="319.88" stroke="#555" stroke-width="0.85"/>
<line x1="367.5" y1="315.64" x2="370.1" y2="315.64" stroke="#555" stroke-width="0.85"/>
<line x1="367.5" y1="312.19" x2="370.1" y2="312.19" stroke="#555" stroke-width="0.85"/>
<line x1="367.5" y1="309.26" x2="370.1" y2="309.26" stroke="#555" stroke-width="0.85"/>
<line x1="367.5" y1="306.73" x2="370.1" y2="306.73" stroke="#555" stroke-width="0.85"/>
<line x1="367.5" y1="304.5" x2="370.1" y2="304.5" stroke="#555" stroke-width="0.85"/>
<line x1="367.23" y1="564.5" x2="367.23" y2="561.9" stroke="#666" stroke-width="0.8"/>
<line x1="377.45" y1="564.5" x2="377.45" y2="561.9" stroke="#666" stroke-width="0.8"/>
<line x1="385.38" y1="564.5" x2="385.38" y2="561.9" stroke="#666" stroke-width="0.8"/>
<line x1="391.85" y1="564.5" x2="391.85" y2="561.9" stroke="#666" stroke-width="0.8"/>
<line x1="397.33" y1="564.5" x2="397.33" y2="561.9" stroke="#666" stroke-width="0.8"/>
<line x1="402.07" y1="564.5" x2="402.07" y2="561.9" stroke="#666" stroke-width="0.8"/>
<line x1="406.26" y1="564.5" x2="406.26" y2="561.9" stroke="#666" stroke-width="0.8"/>
<line x1="410" y1="564.5" x2="410" y2="559.5" stroke="#666" stroke-width="0.8"/>
<line x1="434.62" y1="564.5" x2="434.62" y2="561.9" stroke="#666" stroke-width="0.8"/>
<line x1="449.03" y1="564.5" x2="449.03" y2="561.9" stroke="#666" stroke-width="0.8"/>
<line x1="459.25" y1="564.5" x2="459.25" y2="561.9" stroke="#666" stroke-width="0.8"/>
<line x1="467.18" y1="564.5" x2="467.18" y2="561.9" stroke="#666" stroke-width="0.8"/>
<line x1="473.65" y1="564.5" x2="473.65" y2="561.9" stroke="#666" stroke-width="0.8"/>
<line x1="479.13" y1="564.5" x2="479.13" y2="561.9" stroke="#666" stroke-width="0.8"/>
<line x1="483.87" y1="564.5" x2="483.87" y2="561.9" stroke="#666" stroke-width="0.8"/>
<line x1="488.06" y1="564.5" x2="488.06" y2="561.9" stroke="#666" stroke-width="0.8"/>
<line x1="491.8" y1="564.5" x2="491.8" y2="559.5" stroke="#666" stroke-width="0.8"/>
<line x1="516.42" y1="564.5" x2="516.42" y2="561.9" stroke="#666" stroke-width="0.8"/>
<line x1="530.83" y1="564.5" x2="530.83" y2="561.9" stroke="#666" stroke-width="0.8"/>
<line x1="541.05" y1="564.5" x2="541.05" y2="561.9" stroke="#666" stroke-width="0.8"/>
<line x1="548.98" y1="564.5" x2="548.98" y2="561.9" stroke="#666" stroke-width="0.8"/>
<line x1="555.45" y1="564.5" x2="555.45" y2="561.9" stroke="#666" stroke-width="0.8"/>
<line x1="560.93" y1="564.5" x2="560.93" y2="561.9" stroke="#666" stroke-width="0.8"/>
<line x1="565.67" y1="564.5" x2="565.67" y2="561.9" stroke="#666" stroke-width="0.8"/>
<line x1="569.86" y1="564.5" x2="569.86" y2="561.9" stroke="#666" stroke-width="0.8"/>
<line x1="573.6" y1="564.5" x2="573.6" y2="559.5" stroke="#666" stroke-width="0.8"/>
<line x1="598.22" y1="564.5" x2="598.22" y2="561.9" stroke="#666" stroke-width="0.8"/>
<line x1="612.63" y1="564.5" x2="612.63" y2="561.9" stroke="#666" stroke-width="0.8"/>
<line x1="622.85" y1="564.5" x2="622.85" y2="561.9" stroke="#666" stroke-width="0.8"/>
<line x1="630.78" y1="564.5" x2="630.78" y2="561.9" stroke="#666" stroke-width="0.8"/>
<text x="346.3" y="567.3" font-size="10.4" textLength="10.8" lengthAdjust="spacingAndGlyphs">10</text>
<text x="357.4" y="561.5" font-size="6.4" textLength="3.6" lengthAdjust="spacingAndGlyphs">4</text>
<text x="346.3" y="523.63" font-size="10.4" textLength="10.8" lengthAdjust="spacingAndGlyphs">10</text>
<text x="357.4" y="517.83" font-size="6.4" textLength="3.6" lengthAdjust="spacingAndGlyphs">5</text>
<text x="346.3" y="479.97" font-size="10.4" textLength="10.8" lengthAdjust="spacingAndGlyphs">10</text>
<text x="357.4" y="474.17" font-size="6.4" textLength="3.6" lengthAdjust="spacingAndGlyphs">6</text>
<text x="346.3" y="436.3" font-size="10.4" textLength="10.8" lengthAdjust="spacingAndGlyphs">10</text>
<text x="357.4" y="430.5" font-size="6.4" textLength="3.6" lengthAdjust="spacingAndGlyphs">7</text>
<text x="346.3" y="392.63" font-size="10.4" textLength="10.8" lengthAdjust="spacingAndGlyphs">10</text>
<text x="357.4" y="386.83" font-size="6.4" textLength="3.6" lengthAdjust="spacingAndGlyphs">8</text>
<text x="346.3" y="348.97" font-size="10.4" textLength="10.8" lengthAdjust="spacingAndGlyphs">10</text>
<text x="357.4" y="343.17" font-size="6.4" textLength="3.6" lengthAdjust="spacingAndGlyphs">9</text>
<text x="343.4" y="306" font-size="10.4" textLength="10.7" lengthAdjust="spacingAndGlyphs">10</text>
<text x="354.5" y="300" font-size="6.4" textLength="5.9" lengthAdjust="spacingAndGlyphs">10</text>
<text x="404.6" y="577.2" font-size="10.3" textLength="9.8" lengthAdjust="spacingAndGlyphs">10</text>
<text x="483.3" y="577.2" font-size="10.3" textLength="17" lengthAdjust="spacingAndGlyphs">100</text>
<text x="561" y="577.2" font-size="10.3" textLength="25.9" lengthAdjust="spacingAndGlyphs">1,000</text>
<path d="M73.5,675.5H75.6V676.8H79.74V673.5H83.87V673H88.01V669.2H92.14V667.2H96.28V665.1H100.42V667.9H104.55V666.3H108.69V667.2H112.82V664.3H116.96V665.8H121.1V665.8H125.23V666.3H129.37V665.8H133.5V665.4H137.64V666H141.78V666.5H145.91V667.5H150.05V670H154.18V667.5H158.32V663.4H162.46V661.4H166.59V663.4H170.73V660.4H174.86V655.3H179V647.4H183.14V640.2H187.27V633.3H191.41V629.7H195.54V636.1H199.68V655.6H203.82V683.4H207.95V704.8H212.09V712.4H216.22V718.7H220.36V720.3H224.5V723.6H228.63V733.5H232.77V752.5H236.9V752.5H241.04V752.3H245.18V752.3H249.31V778.3H253.45V778.3H257.58V778.3H261.72V854.5H265.86V777.6H269.99V777.6H274.13V854.5H278.26V854.5H282.4V776.3H286.54V854.5H290.67V854.5H294.81V854.5H298.94V854.5H303.08V854.5H307.22V854.5H311.35V854.5H315.49V854.5H319.62V854.5H323.76V854.5H327.9V854.5H332.03V854.5H336.17V854.5H337.5" fill="none" stroke="#ff2d2d" stroke-width="1.05"/>
<path d="M73.5,675.3H75.6V671.5H79.74V668.9H83.87V667.6H88.01V668.4H92.14V664.3H96.28V664.1H100.42V663.3H104.55V666.1H108.69V665.5H112.82V665.1H116.96V664.5H121.1V665.5H125.23V668.4H129.37V666.3H133.5V665.1H137.64V665.8H141.78V666.8H145.91V670.3H150.05V670.3H154.18V668.5H158.32V670.3H162.46V670H166.59V667.2H170.73V665.5H174.86V661.4H179V659.3H183.14V656H187.27V653.2H191.41V652.7H195.54V666.2H199.68V682.4H203.82V693.8H207.95V723.4H212.09V719.4H216.22V719.4H220.36V730.2H224.5V724.4H228.63V725.6H232.77V735.2H236.9V746.2H241.04V742.9H245.18V777.3H249.31V777.3H253.45V854.5H257.58V854.5H261.72V762.7H265.86V854.5H269.99V854.5H274.13V854.5H278.26V854.5H282.4V854.5H286.54V854.5H290.67V854.5H294.81V854.5H298.94V854.5H303.08V854.5H307.22V854.5H311.35V854.5H315.49V854.5H319.62V854.5H323.76V854.5H327.9V854.5H332.03V854.5H336.17V854.5H337.5" fill="none" stroke="#2d2dff" stroke-width="1.05"/>
<line x1="73.5" y1="592.5" x2="337.5" y2="592.5" stroke="#444" stroke-width="1"/>
<line x1="337.5" y1="592.5" x2="337.5" y2="854.5" stroke="#555" stroke-width="1"/>
<line x1="73.2" y1="592.5" x2="73.2" y2="855" stroke="#9a9a9a" stroke-width="1.3"/>
<line x1="73.5" y1="854.5" x2="79" y2="854.5" stroke="#555" stroke-width="0.85"/>
<line x1="73.5" y1="841.36" x2="76.1" y2="841.36" stroke="#555" stroke-width="0.85"/>
<line x1="73.5" y1="833.67" x2="76.1" y2="833.67" stroke="#555" stroke-width="0.85"/>
<line x1="73.5" y1="828.21" x2="76.1" y2="828.21" stroke="#555" stroke-width="0.85"/>
<line x1="73.5" y1="823.98" x2="76.1" y2="823.98" stroke="#555" stroke-width="0.85"/>
<line x1="73.5" y1="820.52" x2="76.1" y2="820.52" stroke="#555" stroke-width="0.85"/>
<line x1="73.5" y1="817.6" x2="76.1" y2="817.6" stroke="#555" stroke-width="0.85"/>
<line x1="73.5" y1="815.07" x2="76.1" y2="815.07" stroke="#555" stroke-width="0.85"/>
<line x1="73.5" y1="812.83" x2="76.1" y2="812.83" stroke="#555" stroke-width="0.85"/>
<line x1="73.5" y1="810.83" x2="79" y2="810.83" stroke="#555" stroke-width="0.85"/>
<line x1="73.5" y1="797.69" x2="76.1" y2="797.69" stroke="#555" stroke-width="0.85"/>
<line x1="73.5" y1="790" x2="76.1" y2="790" stroke="#555" stroke-width="0.85"/>
<line x1="73.5" y1="784.54" x2="76.1" y2="784.54" stroke="#555" stroke-width="0.85"/>
<line x1="73.5" y1="780.31" x2="76.1" y2="780.31" stroke="#555" stroke-width="0.85"/>
<line x1="73.5" y1="776.85" x2="76.1" y2="776.85" stroke="#555" stroke-width="0.85"/>
<line x1="73.5" y1="773.93" x2="76.1" y2="773.93" stroke="#555" stroke-width="0.85"/>
<line x1="73.5" y1="771.4" x2="76.1" y2="771.4" stroke="#555" stroke-width="0.85"/>
<line x1="73.5" y1="769.16" x2="76.1" y2="769.16" stroke="#555" stroke-width="0.85"/>
<line x1="73.5" y1="767.17" x2="79" y2="767.17" stroke="#555" stroke-width="0.85"/>
<line x1="73.5" y1="754.02" x2="76.1" y2="754.02" stroke="#555" stroke-width="0.85"/>
<line x1="73.5" y1="746.33" x2="76.1" y2="746.33" stroke="#555" stroke-width="0.85"/>
<line x1="73.5" y1="740.88" x2="76.1" y2="740.88" stroke="#555" stroke-width="0.85"/>
<line x1="73.5" y1="736.64" x2="76.1" y2="736.64" stroke="#555" stroke-width="0.85"/>
<line x1="73.5" y1="733.19" x2="76.1" y2="733.19" stroke="#555" stroke-width="0.85"/>
<line x1="73.5" y1="730.26" x2="76.1" y2="730.26" stroke="#555" stroke-width="0.85"/>
<line x1="73.5" y1="727.73" x2="76.1" y2="727.73" stroke="#555" stroke-width="0.85"/>
<line x1="73.5" y1="725.5" x2="76.1" y2="725.5" stroke="#555" stroke-width="0.85"/>
<line x1="73.5" y1="723.5" x2="79" y2="723.5" stroke="#555" stroke-width="0.85"/>
<line x1="73.5" y1="710.36" x2="76.1" y2="710.36" stroke="#555" stroke-width="0.85"/>
<line x1="73.5" y1="702.67" x2="76.1" y2="702.67" stroke="#555" stroke-width="0.85"/>
<line x1="73.5" y1="697.21" x2="76.1" y2="697.21" stroke="#555" stroke-width="0.85"/>
<line x1="73.5" y1="692.98" x2="76.1" y2="692.98" stroke="#555" stroke-width="0.85"/>
<line x1="73.5" y1="689.52" x2="76.1" y2="689.52" stroke="#555" stroke-width="0.85"/>
<line x1="73.5" y1="686.6" x2="76.1" y2="686.6" stroke="#555" stroke-width="0.85"/>
<line x1="73.5" y1="684.07" x2="76.1" y2="684.07" stroke="#555" stroke-width="0.85"/>
<line x1="73.5" y1="681.83" x2="76.1" y2="681.83" stroke="#555" stroke-width="0.85"/>
<line x1="73.5" y1="679.83" x2="79" y2="679.83" stroke="#555" stroke-width="0.85"/>
<line x1="73.5" y1="666.69" x2="76.1" y2="666.69" stroke="#555" stroke-width="0.85"/>
<line x1="73.5" y1="659" x2="76.1" y2="659" stroke="#555" stroke-width="0.85"/>
<line x1="73.5" y1="653.54" x2="76.1" y2="653.54" stroke="#555" stroke-width="0.85"/>
<line x1="73.5" y1="649.31" x2="76.1" y2="649.31" stroke="#555" stroke-width="0.85"/>
<line x1="73.5" y1="645.85" x2="76.1" y2="645.85" stroke="#555" stroke-width="0.85"/>
<line x1="73.5" y1="642.93" x2="76.1" y2="642.93" stroke="#555" stroke-width="0.85"/>
<line x1="73.5" y1="640.4" x2="76.1" y2="640.4" stroke="#555" stroke-width="0.85"/>
<line x1="73.5" y1="638.16" x2="76.1" y2="638.16" stroke="#555" stroke-width="0.85"/>
<line x1="73.5" y1="636.17" x2="79" y2="636.17" stroke="#555" stroke-width="0.85"/>
<line x1="73.5" y1="623.02" x2="76.1" y2="623.02" stroke="#555" stroke-width="0.85"/>
<line x1="73.5" y1="615.33" x2="76.1" y2="615.33" stroke="#555" stroke-width="0.85"/>
<line x1="73.5" y1="609.88" x2="76.1" y2="609.88" stroke="#555" stroke-width="0.85"/>
<line x1="73.5" y1="605.64" x2="76.1" y2="605.64" stroke="#555" stroke-width="0.85"/>
<line x1="73.5" y1="602.19" x2="76.1" y2="602.19" stroke="#555" stroke-width="0.85"/>
<line x1="73.5" y1="599.26" x2="76.1" y2="599.26" stroke="#555" stroke-width="0.85"/>
<line x1="73.5" y1="596.73" x2="76.1" y2="596.73" stroke="#555" stroke-width="0.85"/>
<line x1="73.5" y1="594.5" x2="76.1" y2="594.5" stroke="#555" stroke-width="0.85"/>
<line x1="73.13" y1="854.5" x2="73.13" y2="851.9" stroke="#666" stroke-width="0.8"/>
<line x1="83.35" y1="854.5" x2="83.35" y2="851.9" stroke="#666" stroke-width="0.8"/>
<line x1="91.28" y1="854.5" x2="91.28" y2="851.9" stroke="#666" stroke-width="0.8"/>
<line x1="97.75" y1="854.5" x2="97.75" y2="851.9" stroke="#666" stroke-width="0.8"/>
<line x1="103.23" y1="854.5" x2="103.23" y2="851.9" stroke="#666" stroke-width="0.8"/>
<line x1="107.97" y1="854.5" x2="107.97" y2="851.9" stroke="#666" stroke-width="0.8"/>
<line x1="112.16" y1="854.5" x2="112.16" y2="851.9" stroke="#666" stroke-width="0.8"/>
<line x1="115.9" y1="854.5" x2="115.9" y2="849.5" stroke="#666" stroke-width="0.8"/>
<line x1="140.52" y1="854.5" x2="140.52" y2="851.9" stroke="#666" stroke-width="0.8"/>
<line x1="154.93" y1="854.5" x2="154.93" y2="851.9" stroke="#666" stroke-width="0.8"/>
<line x1="165.15" y1="854.5" x2="165.15" y2="851.9" stroke="#666" stroke-width="0.8"/>
<line x1="173.08" y1="854.5" x2="173.08" y2="851.9" stroke="#666" stroke-width="0.8"/>
<line x1="179.55" y1="854.5" x2="179.55" y2="851.9" stroke="#666" stroke-width="0.8"/>
<line x1="185.03" y1="854.5" x2="185.03" y2="851.9" stroke="#666" stroke-width="0.8"/>
<line x1="189.77" y1="854.5" x2="189.77" y2="851.9" stroke="#666" stroke-width="0.8"/>
<line x1="193.96" y1="854.5" x2="193.96" y2="851.9" stroke="#666" stroke-width="0.8"/>
<line x1="197.7" y1="854.5" x2="197.7" y2="849.5" stroke="#666" stroke-width="0.8"/>
<line x1="222.32" y1="854.5" x2="222.32" y2="851.9" stroke="#666" stroke-width="0.8"/>
<line x1="236.73" y1="854.5" x2="236.73" y2="851.9" stroke="#666" stroke-width="0.8"/>
<line x1="246.95" y1="854.5" x2="246.95" y2="851.9" stroke="#666" stroke-width="0.8"/>
<line x1="254.88" y1="854.5" x2="254.88" y2="851.9" stroke="#666" stroke-width="0.8"/>
<line x1="261.35" y1="854.5" x2="261.35" y2="851.9" stroke="#666" stroke-width="0.8"/>
<line x1="266.83" y1="854.5" x2="266.83" y2="851.9" stroke="#666" stroke-width="0.8"/>
<line x1="271.57" y1="854.5" x2="271.57" y2="851.9" stroke="#666" stroke-width="0.8"/>
<line x1="275.76" y1="854.5" x2="275.76" y2="851.9" stroke="#666" stroke-width="0.8"/>
<line x1="279.5" y1="854.5" x2="279.5" y2="849.5" stroke="#666" stroke-width="0.8"/>
<line x1="304.12" y1="854.5" x2="304.12" y2="851.9" stroke="#666" stroke-width="0.8"/>
<line x1="318.53" y1="854.5" x2="318.53" y2="851.9" stroke="#666" stroke-width="0.8"/>
<line x1="328.75" y1="854.5" x2="328.75" y2="851.9" stroke="#666" stroke-width="0.8"/>
<line x1="336.68" y1="854.5" x2="336.68" y2="851.9" stroke="#666" stroke-width="0.8"/>
<text x="52.2" y="857.3" font-size="10.4" textLength="10.8" lengthAdjust="spacingAndGlyphs">10</text>
<text x="63.3" y="851.5" font-size="6.4" textLength="3.6" lengthAdjust="spacingAndGlyphs">4</text>
<text x="52.2" y="813.63" font-size="10.4" textLength="10.8" lengthAdjust="spacingAndGlyphs">10</text>
<text x="63.3" y="807.83" font-size="6.4" textLength="3.6" lengthAdjust="spacingAndGlyphs">5</text>
<text x="52.2" y="769.97" font-size="10.4" textLength="10.8" lengthAdjust="spacingAndGlyphs">10</text>
<text x="63.3" y="764.17" font-size="6.4" textLength="3.6" lengthAdjust="spacingAndGlyphs">6</text>
<text x="52.2" y="726.3" font-size="10.4" textLength="10.8" lengthAdjust="spacingAndGlyphs">10</text>
<text x="63.3" y="720.5" font-size="6.4" textLength="3.6" lengthAdjust="spacingAndGlyphs">7</text>
<text x="52.2" y="682.63" font-size="10.4" textLength="10.8" lengthAdjust="spacingAndGlyphs">10</text>
<text x="63.3" y="676.83" font-size="6.4" textLength="3.6" lengthAdjust="spacingAndGlyphs">8</text>
<text x="52.2" y="638.97" font-size="10.4" textLength="10.8" lengthAdjust="spacingAndGlyphs">10</text>
<text x="63.3" y="633.17" font-size="6.4" textLength="3.6" lengthAdjust="spacingAndGlyphs">9</text>
<text x="49.3" y="596" font-size="10.4" textLength="10.7" lengthAdjust="spacingAndGlyphs">10</text>
<text x="60.4" y="590" font-size="6.4" textLength="5.9" lengthAdjust="spacingAndGlyphs">10</text>
<text x="110.5" y="867.2" font-size="10.3" textLength="9.8" lengthAdjust="spacingAndGlyphs">10</text>
<text x="189.2" y="867.2" font-size="10.3" textLength="17" lengthAdjust="spacingAndGlyphs">100</text>
<text x="266.9" y="867.2" font-size="10.3" textLength="25.9" lengthAdjust="spacingAndGlyphs">1,000</text>
<path d="M367.5,683.4H369.6V679.5H373.74V671.4H377.87V674.2H382.01V670.3H386.14V667.5H390.28V668.3H394.42V667.5H398.55V668.1H402.69V670.1H406.82V674.2H410.96V680.3H415.1V684.1H419.23V686.5H423.37V694H427.5V694.3H431.64V693.5H435.78V702.3H439.91V702.7H444.05V712.9H448.18V725.5H452.32V725.5H456.46V741.3H460.59V738.5H464.73V736.4H468.86V738.5H473V738.9H477.14V765.3H481.27V757.1H485.41V744.3H489.54V757.1H493.68V752.1H497.82V757.1H501.95V744.6H506.09V765.3H510.22V765.3H514.36V765.3H518.5V757.5H522.63V765H526.77V854.5H530.9V764.4H535.04V757.1H539.18V854.5H543.31V854.5H547.45V854.5H551.58V854.5H555.72V854.5H559.86V854.5H563.99V854.5H568.13V854.5H572.26V854.5H576.4V854.5H580.54V854.5H584.67V854.5H588.81V854.5H592.94V854.5H597.08V854.5H601.22V854.5H605.35V854.5H609.49V854.5H613.62V854.5H617.76V854.5H621.9V854.5H626.03V854.5H630.17V854.5H631.5" fill="none" stroke="#ff2d2d" stroke-width="1.05"/>
<path d="M367.5,688.7H369.6V673.4H373.74V673.4H377.87V668.3H382.01V665H386.14V664H390.28V662.4H394.42V664.4H398.55V664.4H402.69V667.3H406.82V674.6H410.96V680H415.1V682.4H419.23V689.2H423.37V690.6H427.5V696.1H431.64V695.2H435.78V691.2H439.91V696.3H444.05V701.5H448.18V712.5H452.32V721.4H456.46V724.5H460.59V713.5H464.73V724.1H468.86V730.3H473V761.8H477.14V755.6H481.27V750.5H485.41V775.2H489.54V761.8H493.68V775H497.82V761.8H501.95V774.8H506.09V854.5H510.22V854.5H514.36V774.5H518.5V774.5H522.63V854.5H526.77V854.5H530.9V854.5H535.04V776.6H539.18V854.5H543.31V854.5H547.45V854.5H551.58V854.5H555.72V854.5H559.86V854.5H563.99V854.5H568.13V854.5H572.26V854.5H576.4V854.5H580.54V854.5H584.67V854.5H588.81V854.5H592.94V854.5H597.08V854.5H601.22V854.5H605.35V854.5H609.49V854.5H613.62V854.5H617.76V854.5H621.9V854.5H626.03V854.5H630.17V854.5H631.5" fill="none" stroke="#2d2dff" stroke-width="1.05"/>
<line x1="367.5" y1="592.5" x2="631.5" y2="592.5" stroke="#444" stroke-width="1"/>
<line x1="631.5" y1="592.5" x2="631.5" y2="854.5" stroke="#555" stroke-width="1"/>
<line x1="367.2" y1="592.5" x2="367.2" y2="855" stroke="#9a9a9a" stroke-width="1.3"/>
<line x1="367.5" y1="854.5" x2="373" y2="854.5" stroke="#555" stroke-width="0.85"/>
<line x1="367.5" y1="841.36" x2="370.1" y2="841.36" stroke="#555" stroke-width="0.85"/>
<line x1="367.5" y1="833.67" x2="370.1" y2="833.67" stroke="#555" stroke-width="0.85"/>
<line x1="367.5" y1="828.21" x2="370.1" y2="828.21" stroke="#555" stroke-width="0.85"/>
<line x1="367.5" y1="823.98" x2="370.1" y2="823.98" stroke="#555" stroke-width="0.85"/>
<line x1="367.5" y1="820.52" x2="370.1" y2="820.52" stroke="#555" stroke-width="0.85"/>
<line x1="367.5" y1="817.6" x2="370.1" y2="817.6" stroke="#555" stroke-width="0.85"/>
<line x1="367.5" y1="815.07" x2="370.1" y2="815.07" stroke="#555" stroke-width="0.85"/>
<line x1="367.5" y1="812.83" x2="370.1" y2="812.83" stroke="#555" stroke-width="0.85"/>
<line x1="367.5" y1="810.83" x2="373" y2="810.83" stroke="#555" stroke-width="0.85"/>
<line x1="367.5" y1="797.69" x2="370.1" y2="797.69" stroke="#555" stroke-width="0.85"/>
<line x1="367.5" y1="790" x2="370.1" y2="790" stroke="#555" stroke-width="0.85"/>
<line x1="367.5" y1="784.54" x2="370.1" y2="784.54" stroke="#555" stroke-width="0.85"/>
<line x1="367.5" y1="780.31" x2="370.1" y2="780.31" stroke="#555" stroke-width="0.85"/>
<line x1="367.5" y1="776.85" x2="370.1" y2="776.85" stroke="#555" stroke-width="0.85"/>
<line x1="367.5" y1="773.93" x2="370.1" y2="773.93" stroke="#555" stroke-width="0.85"/>
<line x1="367.5" y1="771.4" x2="370.1" y2="771.4" stroke="#555" stroke-width="0.85"/>
<line x1="367.5" y1="769.16" x2="370.1" y2="769.16" stroke="#555" stroke-width="0.85"/>
<line x1="367.5" y1="767.17" x2="373" y2="767.17" stroke="#555" stroke-width="0.85"/>
<line x1="367.5" y1="754.02" x2="370.1" y2="754.02" stroke="#555" stroke-width="0.85"/>
<line x1="367.5" y1="746.33" x2="370.1" y2="746.33" stroke="#555" stroke-width="0.85"/>
<line x1="367.5" y1="740.88" x2="370.1" y2="740.88" stroke="#555" stroke-width="0.85"/>
<line x1="367.5" y1="736.64" x2="370.1" y2="736.64" stroke="#555" stroke-width="0.85"/>
<line x1="367.5" y1="733.19" x2="370.1" y2="733.19" stroke="#555" stroke-width="0.85"/>
<line x1="367.5" y1="730.26" x2="370.1" y2="730.26" stroke="#555" stroke-width="0.85"/>
<line x1="367.5" y1="727.73" x2="370.1" y2="727.73" stroke="#555" stroke-width="0.85"/>
<line x1="367.5" y1="725.5" x2="370.1" y2="725.5" stroke="#555" stroke-width="0.85"/>
<line x1="367.5" y1="723.5" x2="373" y2="723.5" stroke="#555" stroke-width="0.85"/>
<line x1="367.5" y1="710.36" x2="370.1" y2="710.36" stroke="#555" stroke-width="0.85"/>
<line x1="367.5" y1="702.67" x2="370.1" y2="702.67" stroke="#555" stroke-width="0.85"/>
<line x1="367.5" y1="697.21" x2="370.1" y2="697.21" stroke="#555" stroke-width="0.85"/>
<line x1="367.5" y1="692.98" x2="370.1" y2="692.98" stroke="#555" stroke-width="0.85"/>
<line x1="367.5" y1="689.52" x2="370.1" y2="689.52" stroke="#555" stroke-width="0.85"/>
<line x1="367.5" y1="686.6" x2="370.1" y2="686.6" stroke="#555" stroke-width="0.85"/>
<line x1="367.5" y1="684.07" x2="370.1" y2="684.07" stroke="#555" stroke-width="0.85"/>
<line x1="367.5" y1="681.83" x2="370.1" y2="681.83" stroke="#555" stroke-width="0.85"/>
<line x1="367.5" y1="679.83" x2="373" y2="679.83" stroke="#555" stroke-width="0.85"/>
<line x1="367.5" y1="666.69" x2="370.1" y2="666.69" stroke="#555" stroke-width="0.85"/>
<line x1="367.5" y1="659" x2="370.1" y2="659" stroke="#555" stroke-width="0.85"/>
<line x1="367.5" y1="653.54" x2="370.1" y2="653.54" stroke="#555" stroke-width="0.85"/>
<line x1="367.5" y1="649.31" x2="370.1" y2="649.31" stroke="#555" stroke-width="0.85"/>
<line x1="367.5" y1="645.85" x2="370.1" y2="645.85" stroke="#555" stroke-width="0.85"/>
<line x1="367.5" y1="642.93" x2="370.1" y2="642.93" stroke="#555" stroke-width="0.85"/>
<line x1="367.5" y1="640.4" x2="370.1" y2="640.4" stroke="#555" stroke-width="0.85"/>
<line x1="367.5" y1="638.16" x2="370.1" y2="638.16" stroke="#555" stroke-width="0.85"/>
<line x1="367.5" y1="636.17" x2="373" y2="636.17" stroke="#555" stroke-width="0.85"/>
<line x1="367.5" y1="623.02" x2="370.1" y2="623.02" stroke="#555" stroke-width="0.85"/>
<line x1="367.5" y1="615.33" x2="370.1" y2="615.33" stroke="#555" stroke-width="0.85"/>
<line x1="367.5" y1="609.88" x2="370.1" y2="609.88" stroke="#555" stroke-width="0.85"/>
<line x1="367.5" y1="605.64" x2="370.1" y2="605.64" stroke="#555" stroke-width="0.85"/>
<line x1="367.5" y1="602.19" x2="370.1" y2="602.19" stroke="#555" stroke-width="0.85"/>
<line x1="367.5" y1="599.26" x2="370.1" y2="599.26" stroke="#555" stroke-width="0.85"/>
<line x1="367.5" y1="596.73" x2="370.1" y2="596.73" stroke="#555" stroke-width="0.85"/>
<line x1="367.5" y1="594.5" x2="370.1" y2="594.5" stroke="#555" stroke-width="0.85"/>
<line x1="367.23" y1="854.5" x2="367.23" y2="851.9" stroke="#666" stroke-width="0.8"/>
<line x1="377.45" y1="854.5" x2="377.45" y2="851.9" stroke="#666" stroke-width="0.8"/>
<line x1="385.38" y1="854.5" x2="385.38" y2="851.9" stroke="#666" stroke-width="0.8"/>
<line x1="391.85" y1="854.5" x2="391.85" y2="851.9" stroke="#666" stroke-width="0.8"/>
<line x1="397.33" y1="854.5" x2="397.33" y2="851.9" stroke="#666" stroke-width="0.8"/>
<line x1="402.07" y1="854.5" x2="402.07" y2="851.9" stroke="#666" stroke-width="0.8"/>
<line x1="406.26" y1="854.5" x2="406.26" y2="851.9" stroke="#666" stroke-width="0.8"/>
<line x1="410" y1="854.5" x2="410" y2="849.5" stroke="#666" stroke-width="0.8"/>
<line x1="434.62" y1="854.5" x2="434.62" y2="851.9" stroke="#666" stroke-width="0.8"/>
<line x1="449.03" y1="854.5" x2="449.03" y2="851.9" stroke="#666" stroke-width="0.8"/>
<line x1="459.25" y1="854.5" x2="459.25" y2="851.9" stroke="#666" stroke-width="0.8"/>
<line x1="467.18" y1="854.5" x2="467.18" y2="851.9" stroke="#666" stroke-width="0.8"/>
<line x1="473.65" y1="854.5" x2="473.65" y2="851.9" stroke="#666" stroke-width="0.8"/>
<line x1="479.13" y1="854.5" x2="479.13" y2="851.9" stroke="#666" stroke-width="0.8"/>
<line x1="483.87" y1="854.5" x2="483.87" y2="851.9" stroke="#666" stroke-width="0.8"/>
<line x1="488.06" y1="854.5" x2="488.06" y2="851.9" stroke="#666" stroke-width="0.8"/>
<line x1="491.8" y1="854.5" x2="491.8" y2="849.5" stroke="#666" stroke-width="0.8"/>
<line x1="516.42" y1="854.5" x2="516.42" y2="851.9" stroke="#666" stroke-width="0.8"/>
<line x1="530.83" y1="854.5" x2="530.83" y2="851.9" stroke="#666" stroke-width="0.8"/>
<line x1="541.05" y1="854.5" x2="541.05" y2="851.9" stroke="#666" stroke-width="0.8"/>
<line x1="548.98" y1="854.5" x2="548.98" y2="851.9" stroke="#666" stroke-width="0.8"/>
<line x1="555.45" y1="854.5" x2="555.45" y2="851.9" stroke="#666" stroke-width="0.8"/>
<line x1="560.93" y1="854.5" x2="560.93" y2="851.9" stroke="#666" stroke-width="0.8"/>
<line x1="565.67" y1="854.5" x2="565.67" y2="851.9" stroke="#666" stroke-width="0.8"/>
<line x1="569.86" y1="854.5" x2="569.86" y2="851.9" stroke="#666" stroke-width="0.8"/>
<line x1="573.6" y1="854.5" x2="573.6" y2="849.5" stroke="#666" stroke-width="0.8"/>
<line x1="598.22" y1="854.5" x2="598.22" y2="851.9" stroke="#666" stroke-width="0.8"/>
<line x1="612.63" y1="854.5" x2="612.63" y2="851.9" stroke="#666" stroke-width="0.8"/>
<line x1="622.85" y1="854.5" x2="622.85" y2="851.9" stroke="#666" stroke-width="0.8"/>
<line x1="630.78" y1="854.5" x2="630.78" y2="851.9" stroke="#666" stroke-width="0.8"/>
<text x="346.3" y="857.3" font-size="10.4" textLength="10.8" lengthAdjust="spacingAndGlyphs">10</text>
<text x="357.4" y="851.5" font-size="6.4" textLength="3.6" lengthAdjust="spacingAndGlyphs">4</text>
<text x="346.3" y="813.63" font-size="10.4" textLength="10.8" lengthAdjust="spacingAndGlyphs">10</text>
<text x="357.4" y="807.83" font-size="6.4" textLength="3.6" lengthAdjust="spacingAndGlyphs">5</text>
<text x="346.3" y="769.97" font-size="10.4" textLength="10.8" lengthAdjust="spacingAndGlyphs">10</text>
<text x="357.4" y="764.17" font-size="6.4" textLength="3.6" lengthAdjust="spacingAndGlyphs">6</text>
<text x="346.3" y="726.3" font-size="10.4" textLength="10.8" lengthAdjust="spacingAndGlyphs">10</text>
<text x="357.4" y="720.5" font-size="6.4" textLength="3.6" lengthAdjust="spacingAndGlyphs">7</text>
<text x="346.3" y="682.63" font-size="10.4" textLength="10.8" lengthAdjust="spacingAndGlyphs">10</text>
<text x="357.4" y="676.83" font-size="6.4" textLength="3.6" lengthAdjust="spacingAndGlyphs">8</text>
<text x="346.3" y="638.97" font-size="10.4" textLength="10.8" lengthAdjust="spacingAndGlyphs">10</text>
<text x="357.4" y="633.17" font-size="6.4" textLength="3.6" lengthAdjust="spacingAndGlyphs">9</text>
<text x="343.4" y="596" font-size="10.4" textLength="10.7" lengthAdjust="spacingAndGlyphs">10</text>
<text x="354.5" y="590" font-size="6.4" textLength="5.9" lengthAdjust="spacingAndGlyphs">10</text>
<text x="404.6" y="867.2" font-size="10.3" textLength="9.8" lengthAdjust="spacingAndGlyphs">10</text>
<text x="483.3" y="867.2" font-size="10.3" textLength="17" lengthAdjust="spacingAndGlyphs">100</text>
<text x="561" y="867.2" font-size="10.3" textLength="25.9" lengthAdjust="spacingAndGlyphs">1,000</text>
<line x1="73.5" y1="564.5" x2="337.5" y2="564.5" stroke="#444" stroke-width="1"/>
<line x1="367.5" y1="564.5" x2="631.5" y2="564.5" stroke="#444" stroke-width="1"/>
<line x1="73.5" y1="854.5" x2="337.5" y2="854.5" stroke="#444" stroke-width="1"/>
<line x1="367.5" y1="854.5" x2="631.5" y2="854.5" stroke="#444" stroke-width="1"/>
<path d="M73.5,409.3H75.6V406.3H79.74V393.5H83.87V388.4H88.01V384.3H92.14V387.4H96.28V385.1H100.42V384.3H104.55V387.4H108.69V385.5H112.82V387.2H116.96V397.8H121.1V401.2H125.23V413.4H129.37V424.3H133.5V412.2H137.64V413.1H141.78V408.8H145.91V409.3H150.05V426.3H154.18V429.2H158.32V429.2H162.46V434.4H166.59V434.4H170.73V434.4H174.86V442.5H179V468.8H183.14V455.3H187.27V442.5H191.41V468.8H195.54V564.5H199.68V468.8H203.82V455.3H207.95V564.5H212.09V455.5H216.22V455.5H220.36V468.8H224.5V564.5H228.63V564.5H232.77V564.5H236.9V468.4H241.04V564.5H245.18V564.5H249.31V564.5H253.45V467.4H257.58V564.5H261.72V564.5H265.86V564.5H269.99V564.5H274.13V564.5H278.26V564.5H282.4V564.5H286.54V564.5H290.67V564.5H294.81V564.5H298.94V564.5H303.08V564.5H307.22V564.5H311.35V564.5H315.49V564.5H319.62V564.5H323.76V564.5H327.9V564.5H332.03V564.5H336.17V564.5H337.5" fill="none" stroke="#ff2d2d" stroke-width="1.05"/>
<path d="M73.5,402.2H75.6V394.5H79.74V394.3H83.87V388.6H88.01V387.4H92.14V383.3H96.28V379.9H100.42V379.4H104.55V387.4H108.69V386.9H112.82V393.5H116.96V397.4H121.1V405.3H125.23V416.8H129.37V417H133.5V416.5H137.64V419.5H141.78V429.2H145.91V429.2H150.05V426.6H154.18V431.3H158.32V424.5H162.46V452.6H166.59V460.4H170.73V442.8H174.86V452.6H179V452.6H183.14V447.3H187.27V442.6H191.41V460.4H195.54V564.5H199.68V442.9H203.82V447.3H207.95V473.3H212.09V473.3H216.22V564.5H220.36V564.5H224.5V460.5H228.63V446.8H232.77V473H236.9V473H241.04V564.5H245.18V472.5H249.31V564.5H253.45V564.5H257.58V564.5H261.72V564.5H265.86V564.5H269.99V564.5H274.13V564.5H278.26V564.5H282.4V564.5H286.54V564.5H290.67V564.5H294.81V564.5H298.94V564.5H303.08V564.5H307.22V564.5H311.35V564.5H315.49V564.5H319.62V564.5H323.76V564.5H327.9V564.5H332.03V564.5H336.17V564.5H337.5" fill="none" stroke="#2d2dff" stroke-width="1.05"/>
<path d="M367.5,394.7H369.6V418.2H373.74V406.5H377.87V403.4H382.01V404.2H386.14V404.4H390.28V404.4H394.42V413.4H398.55V412.4H402.69V401.1H406.82V414.6H410.96V406.5H415.1V403.4H419.23V403.4H423.37V403.4H427.5V412.4H431.64V403.5H435.78V406.1H439.91V400.5H444.05V399.5H448.18V396.4H452.32V396H456.46V394.3H460.59V391.3H464.73V382.1H468.86V380H473V381.4H477.14V378.5H481.27V383.1H485.41V386.2H489.54V388.7H493.68V396.9H497.82V413.4H501.95V420H506.09V433.3H510.22V441H514.36V433.3H518.5V440.7H522.63V467.2H526.77V564.5H530.9V440.6H535.04V466.8H539.18V564.5H543.31V564.5H547.45V445.4H551.58V564.5H555.72V465.9H559.86V564.5H563.99V564.5H568.13V564.5H572.26V564.5H576.4V564.5H580.54V564.5H584.67V564.5H588.81V564.5H592.94V564.5H597.08V564.5H601.22V564.5H605.35V564.5H609.49V564.5H613.62V564.5H617.76V564.5H621.9V564.5H626.03V564.5H630.17V564.5H631.5" fill="none" stroke="#ff2d2d" stroke-width="1.05"/>
<path d="M367.5,397.3H369.6V401.9H373.74V410H377.87V410H382.01V406H386.14V404.9H390.28V399.3H394.42V403.4H398.55V410H402.69V404.9H406.82V400.3H410.96V403.4H415.1V409H419.23V412.4H423.37V402.6H427.5V404.4H431.64V406.5H435.78V399.5H439.91V396.4H444.05V398.4H448.18V395.9H452.32V388.2H456.46V381.6H460.59V381.6H464.73V378.3H468.86V373.2H473V366.4H477.14V362.7H481.27V364.4H485.41V367.3H489.54V388.2H493.68V395.6H497.82V419.5H501.95V416.7H506.09V418.5H510.22V435.4H514.36V433H518.5V440.6H522.63V437.2H526.77V461.3H530.9V564.5H535.04V474.2H539.18V453.4H543.31V564.5H547.45V460.3H551.58V564.5H555.72V564.5H559.86V564.5H563.99V564.5H568.13V564.5H572.26V564.5H576.4V564.5H580.54V564.5H584.67V564.5H588.81V564.5H592.94V564.5H597.08V564.5H601.22V564.5H605.35V564.5H609.49V564.5H613.62V564.5H617.76V564.5H621.9V564.5H626.03V564.5H630.17V564.5H631.5" fill="none" stroke="#2d2dff" stroke-width="1.05"/>
<path d="M73.5,675.5H75.6V676.8H79.74V673.5H83.87V673H88.01V669.2H92.14V667.2H96.28V665.1H100.42V667.9H104.55V666.3H108.69V667.2H112.82V664.3H116.96V665.8H121.1V665.8H125.23V666.3H129.37V665.8H133.5V665.4H137.64V666H141.78V666.5H145.91V667.5H150.05V670H154.18V667.5H158.32V663.4H162.46V661.4H166.59V663.4H170.73V660.4H174.86V655.3H179V647.4H183.14V640.2H187.27V633.3H191.41V629.7H195.54V636.1H199.68V655.6H203.82V683.4H207.95V704.8H212.09V712.4H216.22V718.7H220.36V720.3H224.5V723.6H228.63V733.5H232.77V752.5H236.9V752.5H241.04V752.3H245.18V752.3H249.31V778.3H253.45V778.3H257.58V778.3H261.72V854.5H265.86V777.6H269.99V777.6H274.13V854.5H278.26V854.5H282.4V776.3H286.54V854.5H290.67V854.5H294.81V854.5H298.94V854.5H303.08V854.5H307.22V854.5H311.35V854.5H315.49V854.5H319.62V854.5H323.76V854.5H327.9V854.5H332.03V854.5H336.17V854.5H337.5" fill="none" stroke="#ff2d2d" stroke-width="1.05"/>
<path d="M73.5,675.3H75.6V671.5H79.74V668.9H83.87V667.6H88.01V668.4H92.14V664.3H96.28V664.1H100.42V663.3H104.55V666.1H108.69V665.5H112.82V665.1H116.96V664.5H121.1V665.5H125.23V668.4H129.37V666.3H133.5V665.1H137.64V665.8H141.78V666.8H145.91V670.3H150.05V670.3H154.18V668.5H158.32V670.3H162.46V670H166.59V667.2H170.73V665.5H174.86V661.4H179V659.3H183.14V656H187.27V653.2H191.41V652.7H195.54V666.2H199.68V682.4H203.82V693.8H207.95V723.4H212.09V719.4H216.22V719.4H220.36V730.2H224.5V724.4H228.63V725.6H232.77V735.2H236.9V746.2H241.04V742.9H245.18V777.3H249.31V777.3H253.45V854.5H257.58V854.5H261.72V762.7H265.86V854.5H269.99V854.5H274.13V854.5H278.26V854.5H282.4V854.5H286.54V854.5H290.67V854.5H294.81V854.5H298.94V854.5H303.08V854.5H307.22V854.5H311.35V854.5H315.49V854.5H319.62V854.5H323.76V854.5H327.9V854.5H332.03V854.5H336.17V854.5H337.5" fill="none" stroke="#2d2dff" stroke-width="1.05"/>
<path d="M367.5,683.4H369.6V679.5H373.74V671.4H377.87V674.2H382.01V670.3H386.14V667.5H390.28V668.3H394.42V667.5H398.55V668.1H402.69V670.1H406.82V674.2H410.96V680.3H415.1V684.1H419.23V686.5H423.37V694H427.5V694.3H431.64V693.5H435.78V702.3H439.91V702.7H444.05V712.9H448.18V725.5H452.32V725.5H456.46V741.3H460.59V738.5H464.73V736.4H468.86V738.5H473V738.9H477.14V765.3H481.27V757.1H485.41V744.3H489.54V757.1H493.68V752.1H497.82V757.1H501.95V744.6H506.09V765.3H510.22V765.3H514.36V765.3H518.5V757.5H522.63V765H526.77V854.5H530.9V764.4H535.04V757.1H539.18V854.5H543.31V854.5H547.45V854.5H551.58V854.5H555.72V854.5H559.86V854.5H563.99V854.5H568.13V854.5H572.26V854.5H576.4V854.5H580.54V854.5H584.67V854.5H588.81V854.5H592.94V854.5H597.08V854.5H601.22V854.5H605.35V854.5H609.49V854.5H613.62V854.5H617.76V854.5H621.9V854.5H626.03V854.5H630.17V854.5H631.5" fill="none" stroke="#ff2d2d" stroke-width="1.05"/>
<path d="M367.5,688.7H369.6V673.4H373.74V673.4H377.87V668.3H382.01V665H386.14V664H390.28V662.4H394.42V664.4H398.55V664.4H402.69V667.3H406.82V674.6H410.96V680H415.1V682.4H419.23V689.2H423.37V690.6H427.5V696.1H431.64V695.2H435.78V691.2H439.91V696.3H444.05V701.5H448.18V712.5H452.32V721.4H456.46V724.5H460.59V713.5H464.73V724.1H468.86V730.3H473V761.8H477.14V755.6H481.27V750.5H485.41V775.2H489.54V761.8H493.68V775H497.82V761.8H501.95V774.8H506.09V854.5H510.22V854.5H514.36V774.5H518.5V774.5H522.63V854.5H526.77V854.5H530.9V854.5H535.04V776.6H539.18V854.5H543.31V854.5H547.45V854.5H551.58V854.5H555.72V854.5H559.86V854.5H563.99V854.5H568.13V854.5H572.26V854.5H576.4V854.5H580.54V854.5H584.67V854.5H588.81V854.5H592.94V854.5H597.08V854.5H601.22V854.5H605.35V854.5H609.49V854.5H613.62V854.5H617.76V854.5H621.9V854.5H626.03V854.5H630.17V854.5H631.5" fill="none" stroke="#2d2dff" stroke-width="1.05"/>
<text x="82.5" y="317" font-size="15.2" fill="#000" font-weight="bold" textLength="9.5" lengthAdjust="spacingAndGlyphs" stroke="#000" stroke-width="0.5">c</text>
<text x="375.9" y="317.2" font-size="15.6" fill="#000" font-weight="bold" textLength="10.5" lengthAdjust="spacingAndGlyphs" stroke="#000" stroke-width="0.5">d</text>
<text x="82.3" y="608.7" font-size="15.2" fill="#000" font-weight="bold" textLength="9.7" lengthAdjust="spacingAndGlyphs" stroke="#000" stroke-width="0.5">e</text>
<text x="375.9" y="608.6" font-size="16" fill="#000" font-weight="bold" textLength="6.66" lengthAdjust="spacingAndGlyphs" stroke="#000" stroke-width="0.5">f</text>
<text x="256.9" y="316.5" font-size="11.4" fill="#ff2d2d" textLength="32.69" lengthAdjust="spacingAndGlyphs">0–30°</text>
<text x="256.9" y="328.4" font-size="11.4" fill="#2d2dff" textLength="48.8" lengthAdjust="spacingAndGlyphs">150–180°</text>
<text x="256.9" y="340.7" font-size="11.2" textLength="70.4" lengthAdjust="spacingAndGlyphs">ALT = 776 km</text>
<text x="256.9" y="352.8" font-size="11.2" textLength="43.1" lengthAdjust="spacingAndGlyphs">SZA 59°</text>
<text x="256.9" y="364.9" font-size="11.2" textLength="66.1" lengthAdjust="spacingAndGlyphs">SCP –0.5 eV</text>
<text x="548.2" y="325.5" font-size="11.4" fill="#ff2d2d" textLength="33.49" lengthAdjust="spacingAndGlyphs">0–30°</text>
<text x="548.2" y="338" font-size="11.4" fill="#2d2dff" textLength="50.1" lengthAdjust="spacingAndGlyphs">150–180°</text>
<text x="548.2" y="349.6" font-size="11.2" textLength="66.9" lengthAdjust="spacingAndGlyphs">ALT = 711 km</text>
<text x="548.2" y="361.6" font-size="11.2" textLength="43.6" lengthAdjust="spacingAndGlyphs">SZA 58°</text>
<text x="548.2" y="373.7" font-size="11.2" textLength="65.3" lengthAdjust="spacingAndGlyphs">SCP –5.2 eV</text>
<text x="253.2" y="612.6" font-size="11.4" fill="#ff2d2d" textLength="33.19" lengthAdjust="spacingAndGlyphs">0–30°</text>
<text x="253.2" y="624.8" font-size="11.4" fill="#2d2dff" textLength="48.9" lengthAdjust="spacingAndGlyphs">150–180°</text>
<text x="253.2" y="636.7" font-size="11.2" textLength="63.7" lengthAdjust="spacingAndGlyphs">ALT 659 km</text>
<text x="253.2" y="648.9" font-size="11.2" textLength="42.5" lengthAdjust="spacingAndGlyphs">SZA 57°</text>
<text x="253.2" y="660.8" font-size="11.2" textLength="62.1" lengthAdjust="spacingAndGlyphs">SCP –1.7 eV</text>
<text x="550.3" y="612.6" font-size="11.4" fill="#ff2d2d" textLength="32.69" lengthAdjust="spacingAndGlyphs">0–30°</text>
<text x="550.3" y="624.8" font-size="11.4" fill="#2d2dff" textLength="49.1" lengthAdjust="spacingAndGlyphs">150–180°</text>
<text x="550.3" y="636.7" font-size="11.2" textLength="64" lengthAdjust="spacingAndGlyphs">ALT 608 km</text>
<text x="550.3" y="648.9" font-size="11.2" textLength="42.7" lengthAdjust="spacingAndGlyphs">SZA 56°</text>
<text x="550.3" y="660.8" font-size="11.2" textLength="66.4" lengthAdjust="spacingAndGlyphs">SCP –0.4 eV</text>
<text x="94.5" y="554" font-size="11.3" textLength="48.89" lengthAdjust="spacingAndGlyphs">20:50:23</text>
<text x="147.5" y="554" font-size="8.1" textLength="9.3" lengthAdjust="spacingAndGlyphs">UT</text>
<text x="390.1" y="554.4" font-size="11.3" textLength="43.2" lengthAdjust="spacingAndGlyphs">20:51:21</text>
<text x="436.8" y="554.4" font-size="8.1" textLength="10.2" lengthAdjust="spacingAndGlyphs">UT</text>
<text x="95" y="844" font-size="11.3" textLength="43" lengthAdjust="spacingAndGlyphs">20:52:11</text>
<text x="141.7" y="844" font-size="8.1" textLength="9.9" lengthAdjust="spacingAndGlyphs">UT</text>
<text x="389.7" y="843.8" font-size="11.3" textLength="47.7" lengthAdjust="spacingAndGlyphs">20:52:59</text>
<text x="441.5" y="843.8" font-size="8.1" textLength="8.8" lengthAdjust="spacingAndGlyphs">UT</text>
<text x="183.3" y="394.6" font-size="11.4" fill="#ff2d2d" textLength="75.7" lengthAdjust="spacingAndGlyphs">Characteristic</text>
<text x="183.3" y="408" font-size="11.4" fill="#ff2d2d" textLength="77" lengthAdjust="spacingAndGlyphs">photoelectron</text>
<text x="183.3" y="420.6" font-size="11.4" fill="#ff2d2d" textLength="24.68" lengthAdjust="spacingAndGlyphs">peak</text>
<line x1="178.2" y1="404.1" x2="155.86" y2="407.79" stroke="#ff2d2d" stroke-width="1"/>
<path d="M152.8,408.3 L156.1,406.18 L156.6,409.24 Z" fill="#ff2d2d"/>
<text x="471.8" y="678" font-size="11.4" fill="#2d2dff" textLength="75.7" lengthAdjust="spacingAndGlyphs">Characteristic</text>
<text x="471.8" y="690.9" font-size="11.4" fill="#2d2dff" textLength="77" lengthAdjust="spacingAndGlyphs">photoelectron</text>
<text x="471.8" y="703.8" font-size="11.4" fill="#2d2dff" textLength="24.68" lengthAdjust="spacingAndGlyphs">peak</text>
<line x1="467.6" y1="688.4" x2="448.67" y2="691.07" stroke="#2d2dff" stroke-width="1"/>
<path d="M445.6,691.5 L448.95,689.46 L449.38,692.53 Z" fill="#2d2dff"/>
<text transform="translate(40.0 433.0) rotate(-90)" font-size="11.6" text-anchor="middle" fill="#222">Eflux (eV cm<tspan dy="-5.3" font-size="7.6">−2</tspan><tspan dy="5.3"> s</tspan><tspan dy="-5.3" font-size="7.6">−1</tspan><tspan dy="5.3"> sr</tspan><tspan dy="-5.3" font-size="7.6">−1</tspan><tspan dy="5.3"> eV</tspan><tspan dy="-5.3" font-size="7.6">−1</tspan><tspan dy="5.3">)</tspan></text>
<text transform="translate(40.0 722.6) rotate(-90)" font-size="11.6" text-anchor="middle" fill="#222">Eflux (eV cm<tspan dy="-5.3" font-size="7.6">−2</tspan><tspan dy="5.3"> s</tspan><tspan dy="-5.3" font-size="7.6">−1</tspan><tspan dy="5.3"> sr</tspan><tspan dy="-5.3" font-size="7.6">−1</tspan><tspan dy="5.3"> eV</tspan><tspan dy="-5.3" font-size="7.6">−1</tspan><tspan dy="5.3">)</tspan></text>
<text x="174.6" y="883.8" font-size="11.6" textLength="61.59" lengthAdjust="spacingAndGlyphs">Energy (eV)</text>
<text x="468.7" y="883.8" font-size="11.6" textLength="61.59" lengthAdjust="spacingAndGlyphs">Energy (eV)</text>
</svg>
</body></html>
